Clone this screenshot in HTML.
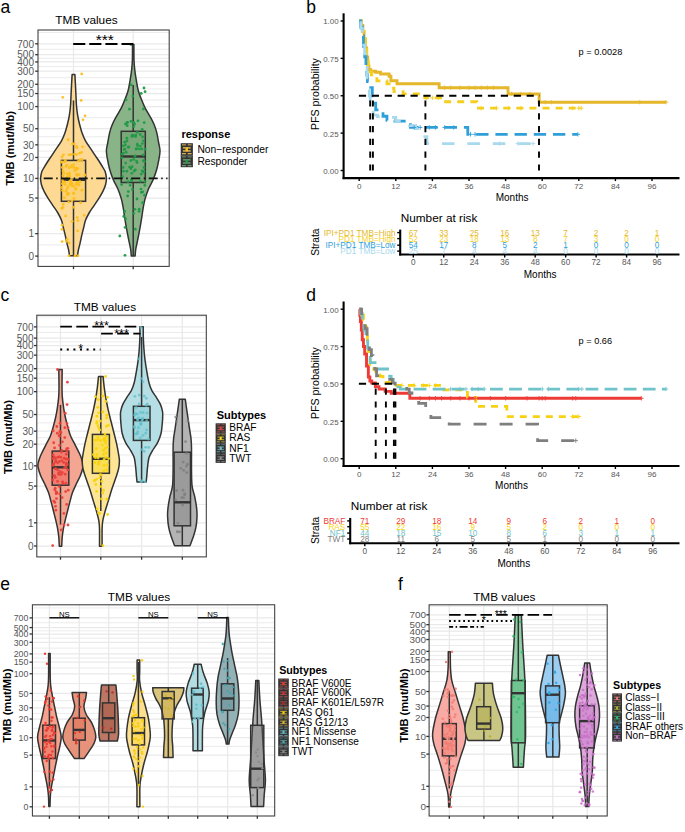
<!DOCTYPE html>
<html><head><meta charset="utf-8"><title>TMB figure</title>
<style>html,body{margin:0;padding:0;background:#fff;width:685px;height:832px;overflow:hidden}
svg{display:block;font-family:"Liberation Sans", sans-serif}</style></head>
<body>
<svg width="685" height="832" viewBox="0 0 685 832" font-family='"Liberation Sans", sans-serif'>
<rect width="685" height="832" fill="#fff"/>
<text x="0.4" y="12.9" font-size="17.5" text-anchor="start" font-weight="normal" fill="#000">a</text>
<rect x="38" y="30" width="131.2" height="236.4" fill="#fff" stroke="none" stroke-width="1"/>
<line x1="38" y1="32.58" x2="169.2" y2="32.58" stroke="#e9e9e9" stroke-width="0.9" stroke-linecap="butt"/>
<line x1="38" y1="244.87" x2="169.2" y2="244.87" stroke="#e9e9e9" stroke-width="0.9" stroke-linecap="butt"/>
<line x1="38" y1="215.85" x2="169.2" y2="215.85" stroke="#e9e9e9" stroke-width="0.9" stroke-linecap="butt"/>
<line x1="38" y1="188.23" x2="169.2" y2="188.23" stroke="#e9e9e9" stroke-width="0.9" stroke-linecap="butt"/>
<line x1="38" y1="167.94" x2="169.2" y2="167.94" stroke="#e9e9e9" stroke-width="0.9" stroke-linecap="butt"/>
<line x1="38" y1="151.15" x2="169.2" y2="151.15" stroke="#e9e9e9" stroke-width="0.9" stroke-linecap="butt"/>
<line x1="38" y1="136.78" x2="169.2" y2="136.78" stroke="#e9e9e9" stroke-width="0.9" stroke-linecap="butt"/>
<line x1="38" y1="117.65" x2="169.2" y2="117.65" stroke="#e9e9e9" stroke-width="0.9" stroke-linecap="butt"/>
<line x1="38" y1="100.06" x2="169.2" y2="100.06" stroke="#e9e9e9" stroke-width="0.9" stroke-linecap="butt"/>
<line x1="38" y1="88.91" x2="169.2" y2="88.91" stroke="#e9e9e9" stroke-width="0.9" stroke-linecap="butt"/>
<line x1="38" y1="77.74" x2="169.2" y2="77.74" stroke="#e9e9e9" stroke-width="0.9" stroke-linecap="butt"/>
<line x1="38" y1="66.55" x2="169.2" y2="66.55" stroke="#e9e9e9" stroke-width="0.9" stroke-linecap="butt"/>
<line x1="38" y1="58.3" x2="169.2" y2="58.3" stroke="#e9e9e9" stroke-width="0.9" stroke-linecap="butt"/>
<line x1="38" y1="49.25" x2="169.2" y2="49.25" stroke="#e9e9e9" stroke-width="0.9" stroke-linecap="butt"/>
<line x1="38" y1="256.1" x2="169.2" y2="256.1" stroke="#e9e9e9" stroke-width="1.25" stroke-linecap="butt"/>
<line x1="38" y1="233.64" x2="169.2" y2="233.64" stroke="#e9e9e9" stroke-width="1.25" stroke-linecap="butt"/>
<line x1="38" y1="198.05" x2="169.2" y2="198.05" stroke="#e9e9e9" stroke-width="1.25" stroke-linecap="butt"/>
<line x1="38" y1="178.41" x2="169.2" y2="178.41" stroke="#e9e9e9" stroke-width="1.25" stroke-linecap="butt"/>
<line x1="38" y1="157.46" x2="169.2" y2="157.46" stroke="#e9e9e9" stroke-width="1.25" stroke-linecap="butt"/>
<line x1="38" y1="144.84" x2="169.2" y2="144.84" stroke="#e9e9e9" stroke-width="1.25" stroke-linecap="butt"/>
<line x1="38" y1="128.72" x2="169.2" y2="128.72" stroke="#e9e9e9" stroke-width="1.25" stroke-linecap="butt"/>
<line x1="38" y1="106.58" x2="169.2" y2="106.58" stroke="#e9e9e9" stroke-width="1.25" stroke-linecap="butt"/>
<line x1="38" y1="93.55" x2="169.2" y2="93.55" stroke="#e9e9e9" stroke-width="1.25" stroke-linecap="butt"/>
<line x1="38" y1="84.28" x2="169.2" y2="84.28" stroke="#e9e9e9" stroke-width="1.25" stroke-linecap="butt"/>
<line x1="38" y1="71.2" x2="169.2" y2="71.2" stroke="#e9e9e9" stroke-width="1.25" stroke-linecap="butt"/>
<line x1="38" y1="61.91" x2="169.2" y2="61.91" stroke="#e9e9e9" stroke-width="1.25" stroke-linecap="butt"/>
<line x1="38" y1="54.69" x2="169.2" y2="54.69" stroke="#e9e9e9" stroke-width="1.25" stroke-linecap="butt"/>
<line x1="38" y1="43.81" x2="169.2" y2="43.81" stroke="#e9e9e9" stroke-width="1.25" stroke-linecap="butt"/>
<line x1="73.5" y1="30" x2="73.5" y2="266.4" stroke="#e9e9e9" stroke-width="1.25" stroke-linecap="butt"/>
<line x1="133.2" y1="30" x2="133.2" y2="266.4" stroke="#e9e9e9" stroke-width="1.25" stroke-linecap="butt"/>
<text x="86.5" y="23.6" font-size="11.8" text-anchor="middle" font-weight="normal" fill="#000">TMB values</text>
<path d="M72.1,74.6 L74.9,74.6 C74.97,75.83 75.13,78.77 75.3,82 C75.47,85.23 75.7,90 75.9,94 C76.1,98 76.2,102.4 76.5,106 C76.8,109.6 77.2,112.6 77.7,115.6 C78.2,118.6 78.8,121.18 79.5,124 C80.2,126.82 80.9,129.68 81.9,132.5 C82.9,135.32 84.1,138.3 85.5,140.9 C86.9,143.5 88.7,145.7 90.3,148.1 C91.9,150.5 93.5,152.9 95.1,155.3 C96.7,157.7 98.5,160.3 99.9,162.5 C101.3,164.7 102.6,166.92 103.5,168.5 C104.4,170.08 104.82,170.38 105.3,172 C105.78,173.62 106.33,176.17 106.4,178.2 C106.47,180.23 106.28,182 105.7,184.2 C105.12,186.4 104.07,189 102.9,191.4 C101.73,193.8 100.2,196.2 98.7,198.6 C97.2,201 95.5,203.4 93.9,205.8 C92.3,208.2 90.5,210.58 89.1,213 C87.7,215.42 86.4,217.88 85.5,220.3 C84.6,222.72 84.3,225.1 83.7,227.5 C83.1,229.9 82.5,232.1 81.9,234.7 C81.3,237.3 80.7,240.5 80.1,243.1 C79.5,245.7 78.73,248.2 78.3,250.3 C77.87,252.4 77.63,254.8 77.5,255.7 L69.5,255.7 C69.37,254.8 69.13,252.4 68.7,250.3 C68.27,248.2 67.5,245.7 66.9,243.1 C66.3,240.5 65.7,237.3 65.1,234.7 C64.5,232.1 63.9,229.9 63.3,227.5 C62.7,225.1 62.4,222.72 61.5,220.3 C60.6,217.88 59.3,215.42 57.9,213 C56.5,210.58 54.7,208.2 53.1,205.8 C51.5,203.4 49.8,201 48.3,198.6 C46.8,196.2 45.27,193.8 44.1,191.4 C42.93,189 41.88,186.4 41.3,184.2 C40.72,182 40.53,180.23 40.6,178.2 C40.67,176.17 41.22,173.62 41.7,172 C42.18,170.38 42.6,170.08 43.5,168.5 C44.4,166.92 45.7,164.7 47.1,162.5 C48.5,160.3 50.3,157.7 51.9,155.3 C53.5,152.9 55.1,150.5 56.7,148.1 C58.3,145.7 60.1,143.5 61.5,140.9 C62.9,138.3 64.1,135.32 65.1,132.5 C66.1,129.68 66.8,126.82 67.5,124 C68.2,121.18 68.8,118.6 69.3,115.6 C69.8,112.6 70.2,109.6 70.5,106 C70.8,102.4 70.9,98 71.1,94 C71.3,90 71.53,85.23 71.7,82 C71.87,78.77 72.03,75.83 72.1,74.6 Z" fill="#fdd993" stroke="#333333" stroke-width="1.5" stroke-linejoin="round"/>
<path d="M132.5,44.6 L133.9,44.6 C133.92,47.13 133.85,55.5 134,59.8 C134.15,64.1 134.43,67.1 134.8,70.4 C135.17,73.7 135.63,76.3 136.2,79.6 C136.77,82.9 137.42,87.12 138.2,90.2 C138.98,93.28 139.8,95.25 140.9,98.1 C142,100.95 143.27,104.22 144.8,107.3 C146.33,110.38 148.55,113.73 150.1,116.6 C151.65,119.47 153,121.87 154.1,124.5 C155.2,127.13 155.93,129.32 156.7,132.4 C157.47,135.48 158.15,139.93 158.7,143 C159.25,146.07 159.97,148.07 160,150.8 C160.03,153.53 159.45,156.28 158.9,159.4 C158.35,162.52 157.67,166.12 156.7,169.5 C155.73,172.88 154.42,176.57 153.1,179.7 C151.78,182.83 150.12,185.18 148.8,188.3 C147.48,191.42 146.12,195.27 145.2,198.4 C144.28,201.53 143.87,203.97 143.3,207.1 C142.73,210.23 142.33,213.83 141.8,217.2 C141.27,220.57 140.75,223.68 140.1,227.3 C139.45,230.92 138.62,235.28 137.9,238.9 C137.18,242.52 136.27,246.17 135.8,249 C135.33,251.83 135.22,254.75 135.1,255.9 L131.3,255.9 C131.18,254.75 131.07,251.83 130.6,249 C130.13,246.17 129.22,242.52 128.5,238.9 C127.78,235.28 126.95,230.92 126.3,227.3 C125.65,223.68 125.13,220.57 124.6,217.2 C124.07,213.83 123.67,210.23 123.1,207.1 C122.53,203.97 122.12,201.53 121.2,198.4 C120.28,195.27 118.92,191.42 117.6,188.3 C116.28,185.18 114.62,182.83 113.3,179.7 C111.98,176.57 110.67,172.88 109.7,169.5 C108.73,166.12 108.05,162.52 107.5,159.4 C106.95,156.28 106.37,153.53 106.4,150.8 C106.43,148.07 107.15,146.07 107.7,143 C108.25,139.93 108.93,135.48 109.7,132.4 C110.47,129.32 111.2,127.13 112.3,124.5 C113.4,121.87 114.75,119.47 116.3,116.6 C117.85,113.73 120.07,110.38 121.6,107.3 C123.13,104.22 124.4,100.95 125.5,98.1 C126.6,95.25 127.42,93.28 128.2,90.2 C128.98,87.12 129.63,82.9 130.2,79.6 C130.77,76.3 131.23,73.7 131.6,70.4 C131.97,67.1 132.25,64.1 132.4,59.8 C132.55,55.5 132.48,47.13 132.5,44.6 Z" fill="#89b487" stroke="#333333" stroke-width="1.5" stroke-linejoin="round"/>
<line x1="73.5" y1="100.4" x2="73.5" y2="160.4" stroke="#333333" stroke-width="1.5" stroke-linecap="butt"/>
<line x1="73.5" y1="201.3" x2="73.5" y2="255.7" stroke="#333333" stroke-width="1.5" stroke-linecap="butt"/>
<rect x="61.4" y="160.4" width="24.2" height="40.9" fill="rgba(253,190,30,0.25)" stroke="#333333" stroke-width="1.5"/>
<line x1="61.4" y1="179.8" x2="85.6" y2="179.8" stroke="#333333" stroke-width="2.4" stroke-linecap="butt"/>
<line x1="133.2" y1="84.9" x2="133.2" y2="131.3" stroke="#333333" stroke-width="1.5" stroke-linecap="butt"/>
<line x1="133.2" y1="182.5" x2="133.2" y2="255.9" stroke="#333333" stroke-width="1.5" stroke-linecap="butt"/>
<rect x="121.2" y="131.3" width="24.1" height="51.2" fill="rgba(60,120,60,0.2)" stroke="#333333" stroke-width="1.5"/>
<line x1="121.2" y1="156.5" x2="145.3" y2="156.5" stroke="#333333" stroke-width="2.4" stroke-linecap="butt"/>
<g fill="#fdbf1d" fill-opacity="0.95"><circle cx="77.14" cy="182.33" r="1.4"/><circle cx="62.18" cy="225.15" r="1.4"/><circle cx="72.19" cy="221.29" r="1.4"/><circle cx="84.19" cy="215.34" r="1.4"/><circle cx="62.11" cy="241.61" r="1.4"/><circle cx="71.63" cy="165.66" r="1.4"/><circle cx="67.09" cy="173.93" r="1.4"/><circle cx="72.53" cy="143.71" r="1.4"/><circle cx="81.6" cy="152.31" r="1.4"/><circle cx="65.96" cy="191.24" r="1.4"/><circle cx="62.33" cy="183.77" r="1.4"/><circle cx="74.67" cy="170.49" r="1.4"/><circle cx="73.7" cy="164.71" r="1.4"/><circle cx="62.21" cy="167.42" r="1.4"/><circle cx="73.55" cy="167.47" r="1.4"/><circle cx="67.07" cy="188.78" r="1.4"/><circle cx="67.96" cy="194.36" r="1.4"/><circle cx="71.73" cy="185.73" r="1.4"/><circle cx="73.61" cy="193.22" r="1.4"/><circle cx="69.81" cy="180.8" r="1.4"/><circle cx="76.2" cy="188.62" r="1.4"/><circle cx="67.01" cy="176.89" r="1.4"/><circle cx="61.9" cy="208.27" r="1.4"/><circle cx="76.5" cy="146.44" r="1.4"/><circle cx="65.33" cy="160.29" r="1.4"/><circle cx="68.05" cy="187" r="1.4"/><circle cx="62.07" cy="157.01" r="1.4"/><circle cx="66.01" cy="166.44" r="1.4"/><circle cx="76.04" cy="184.48" r="1.4"/><circle cx="61.93" cy="229.29" r="1.4"/><circle cx="69.21" cy="167.66" r="1.4"/><circle cx="68.67" cy="202.12" r="1.4"/><circle cx="82.59" cy="146.84" r="1.4"/><circle cx="69.83" cy="184.3" r="1.4"/><circle cx="64.01" cy="173.21" r="1.4"/><circle cx="73.5" cy="207.23" r="1.4"/><circle cx="66.32" cy="241.35" r="1.4"/><circle cx="65.57" cy="215.92" r="1.4"/><circle cx="82.32" cy="159.68" r="1.4"/><circle cx="62.44" cy="190.47" r="1.4"/><circle cx="80.27" cy="159.77" r="1.4"/><circle cx="66.87" cy="165.19" r="1.4"/><circle cx="77.59" cy="230.85" r="1.4"/><circle cx="67.25" cy="239.22" r="1.4"/><circle cx="85.08" cy="115.78" r="1.4"/><circle cx="63.01" cy="175.68" r="1.4"/><circle cx="63.45" cy="154.87" r="1.4"/><circle cx="76.94" cy="175.39" r="1.4"/><circle cx="69.1" cy="154.79" r="1.4"/><circle cx="74.56" cy="154.21" r="1.4"/><circle cx="67.38" cy="194.53" r="1.4"/><circle cx="80.51" cy="202.77" r="1.4"/><circle cx="65.2" cy="182.02" r="1.4"/><circle cx="63.35" cy="183.21" r="1.4"/><circle cx="69.09" cy="242.93" r="1.4"/><circle cx="63.05" cy="207.5" r="1.4"/><circle cx="81.93" cy="190.19" r="1.4"/><circle cx="69.63" cy="176.18" r="1.4"/><circle cx="77.01" cy="147.66" r="1.4"/><circle cx="63" cy="170.84" r="1.4"/><circle cx="64.5" cy="161.82" r="1.4"/><circle cx="76.2" cy="168.08" r="1.4"/><circle cx="74.19" cy="144.1" r="1.4"/><circle cx="72.02" cy="183.13" r="1.4"/><circle cx="71.39" cy="179.91" r="1.4"/><circle cx="63.22" cy="204.38" r="1.4"/><circle cx="65.33" cy="184.71" r="1.4"/><circle cx="67.51" cy="193.4" r="1.4"/><circle cx="77.86" cy="220.63" r="1.4"/><circle cx="79.02" cy="185.2" r="1.4"/><circle cx="84.81" cy="174.98" r="1.4"/><circle cx="69.31" cy="173.21" r="1.4"/><circle cx="64.33" cy="197.7" r="1.4"/><circle cx="79.49" cy="153.14" r="1.4"/><circle cx="76.56" cy="174.06" r="1.4"/><circle cx="75.56" cy="189.18" r="1.4"/><circle cx="79.96" cy="181.66" r="1.4"/><circle cx="68.32" cy="193.3" r="1.4"/><circle cx="73.57" cy="193.6" r="1.4"/><circle cx="61.52" cy="162.1" r="1.4"/><circle cx="68.82" cy="174.58" r="1.4"/><circle cx="77.9" cy="168.31" r="1.4"/><circle cx="70.56" cy="181.88" r="1.4"/><circle cx="68.16" cy="139.77" r="1.4"/><circle cx="76.38" cy="154.58" r="1.4"/><circle cx="61.58" cy="187.52" r="1.4"/><circle cx="71.23" cy="166.82" r="1.4"/><circle cx="76.71" cy="169.42" r="1.4"/><circle cx="78.49" cy="161.02" r="1.4"/><circle cx="62.59" cy="180.74" r="1.4"/><circle cx="71.64" cy="184.5" r="1.4"/><circle cx="61.97" cy="161.86" r="1.4"/><circle cx="78.07" cy="184.05" r="1.4"/><circle cx="76.02" cy="168.68" r="1.4"/><circle cx="73.78" cy="186.39" r="1.4"/><circle cx="77.17" cy="217.56" r="1.4"/><circle cx="71.86" cy="200.88" r="1.4"/><circle cx="78.98" cy="174.76" r="1.4"/><circle cx="74.14" cy="198.51" r="1.4"/><circle cx="71.03" cy="154.6" r="1.4"/><circle cx="81.7" cy="73.9" r="1.4"/><circle cx="62.8" cy="97.3" r="1.4"/><circle cx="81.2" cy="100.4" r="1.4"/><circle cx="83" cy="119.8" r="1.4"/><circle cx="69" cy="255.8" r="1.4"/><circle cx="78" cy="255.8" r="1.4"/><circle cx="75" cy="255.8" r="1.4"/></g>
<g fill="#1f9a47" fill-opacity="0.95"><circle cx="141.25" cy="93.39" r="1.4"/><circle cx="135.76" cy="135.15" r="1.4"/><circle cx="131.54" cy="180.48" r="1.4"/><circle cx="145.08" cy="149.33" r="1.4"/><circle cx="122.06" cy="157.85" r="1.4"/><circle cx="142.6" cy="136.87" r="1.4"/><circle cx="126.87" cy="171.27" r="1.4"/><circle cx="143.4" cy="172.04" r="1.4"/><circle cx="129.69" cy="167.14" r="1.4"/><circle cx="143.29" cy="160.53" r="1.4"/><circle cx="137.99" cy="120.82" r="1.4"/><circle cx="135.31" cy="169.95" r="1.4"/><circle cx="133.49" cy="135.77" r="1.4"/><circle cx="142.21" cy="129.33" r="1.4"/><circle cx="121.96" cy="154.2" r="1.4"/><circle cx="137.35" cy="144.15" r="1.4"/><circle cx="125.61" cy="219.02" r="1.4"/><circle cx="129.46" cy="109.14" r="1.4"/><circle cx="137.06" cy="162.48" r="1.4"/><circle cx="131.95" cy="136.51" r="1.4"/><circle cx="135.24" cy="229.21" r="1.4"/><circle cx="124.65" cy="149.23" r="1.4"/><circle cx="121.63" cy="184.61" r="1.4"/><circle cx="122.56" cy="176.62" r="1.4"/><circle cx="127.22" cy="122.59" r="1.4"/><circle cx="133.83" cy="126.6" r="1.4"/><circle cx="131.01" cy="84.8" r="1.4"/><circle cx="125.56" cy="123.98" r="1.4"/><circle cx="133.7" cy="122.43" r="1.4"/><circle cx="136.6" cy="161.09" r="1.4"/><circle cx="135.15" cy="156" r="1.4"/><circle cx="123.45" cy="171.16" r="1.4"/><circle cx="144.8" cy="185.34" r="1.4"/><circle cx="137.65" cy="145.79" r="1.4"/><circle cx="126.2" cy="152.17" r="1.4"/><circle cx="128.02" cy="181.73" r="1.4"/><circle cx="123.04" cy="145.9" r="1.4"/><circle cx="134.92" cy="209.33" r="1.4"/><circle cx="139.29" cy="149.04" r="1.4"/><circle cx="124.12" cy="149.58" r="1.4"/><circle cx="137.02" cy="198.98" r="1.4"/><circle cx="132.17" cy="166.66" r="1.4"/><circle cx="144.11" cy="171.37" r="1.4"/><circle cx="127.43" cy="122.45" r="1.4"/><circle cx="143.25" cy="154.99" r="1.4"/><circle cx="123.27" cy="153.18" r="1.4"/><circle cx="128.31" cy="191.58" r="1.4"/><circle cx="134.18" cy="170.98" r="1.4"/><circle cx="142.68" cy="202.75" r="1.4"/><circle cx="130.9" cy="160.52" r="1.4"/><circle cx="131.79" cy="179.19" r="1.4"/><circle cx="130.92" cy="168.69" r="1.4"/><circle cx="130.87" cy="121.35" r="1.4"/><circle cx="132.35" cy="189.38" r="1.4"/><circle cx="139.06" cy="211.32" r="1.4"/><circle cx="140.5" cy="181.31" r="1.4"/><circle cx="134.79" cy="156.11" r="1.4"/><circle cx="144.4" cy="161.54" r="1.4"/><circle cx="132.85" cy="96.09" r="1.4"/><circle cx="127.61" cy="196.02" r="1.4"/><circle cx="123.12" cy="167.48" r="1.4"/><circle cx="139.21" cy="209.16" r="1.4"/><circle cx="125.1" cy="227.43" r="1.4"/><circle cx="128.28" cy="147.36" r="1.4"/><circle cx="131.83" cy="173.31" r="1.4"/><circle cx="140.3" cy="134.49" r="1.4"/><circle cx="141.38" cy="192.47" r="1.4"/><circle cx="141.62" cy="148.93" r="1.4"/><circle cx="132.18" cy="135.14" r="1.4"/><circle cx="144.19" cy="122.53" r="1.4"/><circle cx="128.84" cy="146.95" r="1.4"/><circle cx="126.91" cy="138.15" r="1.4"/><circle cx="140.28" cy="146.05" r="1.4"/><circle cx="140.96" cy="189.06" r="1.4"/><circle cx="143.42" cy="140.81" r="1.4"/><circle cx="143.97" cy="167.43" r="1.4"/><circle cx="137.3" cy="132.41" r="1.4"/><circle cx="125.39" cy="144.99" r="1.4"/><circle cx="125.67" cy="163.12" r="1.4"/><circle cx="142.4" cy="143.62" r="1.4"/><circle cx="141.2" cy="174.09" r="1.4"/><circle cx="136.51" cy="148.73" r="1.4"/><circle cx="143.43" cy="109" r="1.4"/><circle cx="126.1" cy="99.78" r="1.4"/><circle cx="127.2" cy="125.66" r="1.4"/><circle cx="126.96" cy="140.89" r="1.4"/><circle cx="130.15" cy="185.36" r="1.4"/><circle cx="124.66" cy="211.46" r="1.4"/><circle cx="133.75" cy="213.28" r="1.4"/><circle cx="136.07" cy="149.12" r="1.4"/><circle cx="135.54" cy="136.6" r="1.4"/><circle cx="144.84" cy="181.61" r="1.4"/><circle cx="133.79" cy="159.46" r="1.4"/><circle cx="145.09" cy="91.66" r="1.4"/><circle cx="123.74" cy="216.46" r="1.4"/><circle cx="124.72" cy="142.21" r="1.4"/><circle cx="144.52" cy="195.18" r="1.4"/><circle cx="142.77" cy="191.79" r="1.4"/><circle cx="134.61" cy="124.09" r="1.4"/><circle cx="142.21" cy="170.8" r="1.4"/><circle cx="131" cy="44.6" r="1.4"/><circle cx="144" cy="88" r="1.4"/><circle cx="119.8" cy="236" r="1.4"/><circle cx="125" cy="255.3" r="1.4"/></g>
<line x1="40" y1="178.4" x2="167.5" y2="178.4" stroke="#111" stroke-width="1.6" stroke-dasharray="9 3.5 1.5 3.5" stroke-dashoffset="13.8"/>
<line x1="73.2" y1="43.9" x2="133.4" y2="43.9" stroke="#000" stroke-width="2.0" stroke-linecap="butt" stroke-dasharray="12.1 4.0"/>
<text x="104.75" y="44.8" font-size="15.5" text-anchor="middle" font-weight="normal" fill="#000">***</text>
<rect x="38" y="30" width="131.2" height="236.4" fill="none" stroke="#3a3a3a" stroke-width="1.05"/>
<line x1="35.2" y1="256.1" x2="38" y2="256.1" stroke="#333333" stroke-width="1.3" stroke-linecap="butt"/>
<text x="34" y="259.8" font-size="10" text-anchor="end" font-weight="normal" fill="#575757">0</text>
<line x1="35.2" y1="233.64" x2="38" y2="233.64" stroke="#333333" stroke-width="1.3" stroke-linecap="butt"/>
<text x="34" y="237.34" font-size="10" text-anchor="end" font-weight="normal" fill="#575757">1</text>
<line x1="35.2" y1="198.05" x2="38" y2="198.05" stroke="#333333" stroke-width="1.3" stroke-linecap="butt"/>
<text x="34" y="201.75" font-size="10" text-anchor="end" font-weight="normal" fill="#575757">5</text>
<line x1="35.2" y1="178.41" x2="38" y2="178.41" stroke="#333333" stroke-width="1.3" stroke-linecap="butt"/>
<text x="34" y="182.11" font-size="10" text-anchor="end" font-weight="normal" fill="#575757">10</text>
<line x1="35.2" y1="157.46" x2="38" y2="157.46" stroke="#333333" stroke-width="1.3" stroke-linecap="butt"/>
<text x="34" y="161.16" font-size="10" text-anchor="end" font-weight="normal" fill="#575757">20</text>
<line x1="35.2" y1="144.84" x2="38" y2="144.84" stroke="#333333" stroke-width="1.3" stroke-linecap="butt"/>
<text x="34" y="148.54" font-size="10" text-anchor="end" font-weight="normal" fill="#575757">30</text>
<line x1="35.2" y1="128.72" x2="38" y2="128.72" stroke="#333333" stroke-width="1.3" stroke-linecap="butt"/>
<text x="34" y="132.42" font-size="10" text-anchor="end" font-weight="normal" fill="#575757">50</text>
<line x1="35.2" y1="106.58" x2="38" y2="106.58" stroke="#333333" stroke-width="1.3" stroke-linecap="butt"/>
<text x="34" y="110.28" font-size="10" text-anchor="end" font-weight="normal" fill="#575757">100</text>
<line x1="35.2" y1="93.55" x2="38" y2="93.55" stroke="#333333" stroke-width="1.3" stroke-linecap="butt"/>
<text x="34" y="97.25" font-size="10" text-anchor="end" font-weight="normal" fill="#575757">150</text>
<line x1="35.2" y1="84.28" x2="38" y2="84.28" stroke="#333333" stroke-width="1.3" stroke-linecap="butt"/>
<text x="34" y="87.98" font-size="10" text-anchor="end" font-weight="normal" fill="#575757">200</text>
<line x1="35.2" y1="71.2" x2="38" y2="71.2" stroke="#333333" stroke-width="1.3" stroke-linecap="butt"/>
<text x="34" y="74.9" font-size="10" text-anchor="end" font-weight="normal" fill="#575757">300</text>
<line x1="35.2" y1="61.91" x2="38" y2="61.91" stroke="#333333" stroke-width="1.3" stroke-linecap="butt"/>
<text x="34" y="65.61" font-size="10" text-anchor="end" font-weight="normal" fill="#575757">400</text>
<line x1="35.2" y1="54.69" x2="38" y2="54.69" stroke="#333333" stroke-width="1.3" stroke-linecap="butt"/>
<text x="34" y="58.39" font-size="10" text-anchor="end" font-weight="normal" fill="#575757">500</text>
<line x1="35.2" y1="43.81" x2="38" y2="43.81" stroke="#333333" stroke-width="1.3" stroke-linecap="butt"/>
<text x="34" y="47.51" font-size="10" text-anchor="end" font-weight="normal" fill="#575757">700</text>
<line x1="73.5" y1="266.4" x2="73.5" y2="269.2" stroke="#333333" stroke-width="1.3" stroke-linecap="butt"/>
<line x1="133.2" y1="266.4" x2="133.2" y2="269.2" stroke="#333333" stroke-width="1.3" stroke-linecap="butt"/>
<text x="14.2" y="148.3" font-size="11.2" text-anchor="middle" font-weight="bold" fill="#000" transform="rotate(-90 14.2 148.3)">TMB (mut/Mb)</text>
<text x="181.4" y="137.8" font-size="11" text-anchor="start" font-weight="bold" fill="#000">response</text>
<rect x="180.7" y="143.2" width="12.2" height="12" fill="#333333" stroke="none" stroke-width="1"/>
<rect x="182" y="144" width="3.9" height="1.6" fill="#9e8448" stroke="none" stroke-width="1"/>
<rect x="187.7" y="144" width="3.9" height="1.6" fill="#9e8448" stroke="none" stroke-width="1"/>
<rect x="182" y="153" width="3.9" height="1.3" fill="#d8b054" stroke="none" stroke-width="1"/>
<rect x="187.7" y="153" width="3.9" height="1.3" fill="#d8b054" stroke="none" stroke-width="1"/>
<rect x="182.9" y="147.1" width="7.8" height="1.5" fill="#d8b054" stroke="none" stroke-width="1"/>
<rect x="182.9" y="150.2" width="7.8" height="1.5" fill="#d8b054" stroke="none" stroke-width="1"/>
<rect x="185.7" y="147.7" width="2.2" height="3.6" fill="#fdbf1d" stroke="none" stroke-width="1"/>
<circle cx="186.8" cy="149.4" r="1.2" fill="#fdbf1d"/>
<rect x="180.7" y="155.2" width="12.2" height="12" fill="#333333" stroke="none" stroke-width="1"/>
<rect x="182" y="156" width="3.9" height="1.6" fill="#5a735a" stroke="none" stroke-width="1"/>
<rect x="187.7" y="156" width="3.9" height="1.6" fill="#5a735a" stroke="none" stroke-width="1"/>
<rect x="182" y="165" width="3.9" height="1.3" fill="#6f966f" stroke="none" stroke-width="1"/>
<rect x="187.7" y="165" width="3.9" height="1.3" fill="#6f966f" stroke="none" stroke-width="1"/>
<rect x="182.9" y="159.1" width="7.8" height="1.5" fill="#6f966f" stroke="none" stroke-width="1"/>
<rect x="182.9" y="162.2" width="7.8" height="1.5" fill="#6f966f" stroke="none" stroke-width="1"/>
<rect x="185.7" y="159.7" width="2.2" height="3.6" fill="#1f9a47" stroke="none" stroke-width="1"/>
<circle cx="186.8" cy="161.4" r="1.2" fill="#1f9a47"/>
<text x="197.4" y="152.8" font-size="10.25" text-anchor="start" font-weight="normal" fill="#000">Non−responder</text>
<text x="197.4" y="165" font-size="10.25" text-anchor="start" font-weight="normal" fill="#000">Responder</text>
<text x="306.3" y="12.9" font-size="17.5" text-anchor="start" font-weight="normal" fill="#000">b</text>
<polyline points="359.2,21 361.33,21 361.33,25.49 362.86,25.49 362.86,31.47 364.08,31.47 364.08,38.94 365.3,38.94 365.3,47.91 366.52,47.91 366.52,56.88 367.74,56.88 367.74,65.85 368.96,65.85 368.96,69.59 370.79,69.59 370.79,71.23 375.67,71.23 375.67,72.28 380.55,72.28 380.55,74.07 389.09,74.07 389.09,76.31 390.92,76.31 390.92,80.8 397.02,80.8 397.02,83.79 439.11,83.79 439.11,87.68 508.04,87.68 508.04,93.96 539.15,93.96 539.15,102.18 666.03,102.18" fill="none" stroke="#e5b72a" stroke-width="2.9" stroke-linecap="butt" stroke-linejoin="miter"/>
<polyline points="359.2,21 361.03,21 361.03,25.49 362.25,25.49 362.25,31.47 363.77,31.47 363.77,38.94 365.3,38.94 365.3,47.91 366.82,47.91 366.82,58.38 368.35,58.38 368.35,67.35 369.88,67.35 369.88,71.83 371.4,71.83 371.4,74.82 376.89,74.82 376.89,80.8 386.95,80.8 386.95,83.79 391.22,83.79 391.22,88.27 393.97,88.27 393.97,91.71 403.12,91.71 403.12,93.81 424.77,93.81 424.77,97.84 443.99,97.84 443.99,101.73 476.93,101.73 476.93,108.16 581.24,108.16" fill="none" stroke="#f5cf1f" stroke-width="2.8" stroke-linecap="butt" stroke-linejoin="miter" stroke-dasharray="7 6.1" stroke-dashoffset="4.61"/>
<polyline points="359.2,21 360.72,21 360.72,26.98 362.25,26.98 362.25,35.95 363.47,35.95 363.47,46.42 364.69,46.42 364.69,56.88 365.91,56.88 365.91,65.85 366.82,65.85 366.82,74.82 367.44,74.82 367.44,81.55 368.96,81.55 368.96,85.29 370.79,85.29 370.79,87.68 372.31,87.68 372.31,95.75 373.84,95.75 373.84,103.22 375.67,103.22 375.67,109.95 380.55,109.95 380.55,113.69 382.99,113.69 382.99,116.23 386.95,116.23 386.95,120.42 394.88,120.42 394.88,121.16 410.44,121.16 410.44,127.44 467.78,127.44 467.78,134.32 577.88,134.32" fill="none" stroke="#2f9fd9" stroke-width="2.8" stroke-linecap="butt" stroke-linejoin="miter" stroke-dasharray="12.3 6.9" stroke-dashoffset="0.08"/>
<polyline points="359.2,21 361.03,21 361.03,28.47 362.25,28.47 362.25,35.95 363.47,35.95 363.47,44.92 364.69,44.92 364.69,53.89 365.91,53.89 365.91,65.85 367.13,65.85 367.13,77.81 368.35,77.81 368.35,89.77 369.26,89.77 369.26,95.75 370.18,95.75 370.18,103.22 371.4,103.22 371.4,110.7 373.23,110.7 373.23,115.19 377.5,115.19 377.5,116.68 380.55,116.68 380.55,117.43 395.8,117.43 395.8,121.16 409.52,121.16 409.52,125.65 415.62,125.65 415.62,128.49 423.25,128.49 423.25,136.71 426.91,136.71 426.91,143.59 533.05,143.59" fill="none" stroke="#a9d9ec" stroke-width="2.8" stroke-linecap="butt" stroke-linejoin="miter" stroke-dasharray="12.5 12.9" stroke-dashoffset="23.21"/>
<g stroke="#e5b72a" stroke-width="0.9"><line x1="442.4" y1="87.68" x2="446.8" y2="87.68"/><line x1="444.6" y1="85.48" x2="444.6" y2="89.88"/><line x1="448.5" y1="87.68" x2="452.9" y2="87.68"/><line x1="450.7" y1="85.48" x2="450.7" y2="89.88"/><line x1="457.65" y1="87.68" x2="462.05" y2="87.68"/><line x1="459.85" y1="85.48" x2="459.85" y2="89.88"/><line x1="466.8" y1="87.68" x2="471.2" y2="87.68"/><line x1="469" y1="85.48" x2="469" y2="89.88"/><line x1="472.9" y1="87.68" x2="477.3" y2="87.68"/><line x1="475.1" y1="85.48" x2="475.1" y2="89.88"/><line x1="479" y1="87.68" x2="483.4" y2="87.68"/><line x1="481.2" y1="85.48" x2="481.2" y2="89.88"/><line x1="485.1" y1="87.68" x2="489.5" y2="87.68"/><line x1="487.3" y1="85.48" x2="487.3" y2="89.88"/><line x1="491.2" y1="87.68" x2="495.6" y2="87.68"/><line x1="493.4" y1="85.48" x2="493.4" y2="89.88"/><line x1="509.5" y1="93.96" x2="513.9" y2="93.96"/><line x1="511.7" y1="91.76" x2="511.7" y2="96.16"/><line x1="518.65" y1="93.96" x2="523.05" y2="93.96"/><line x1="520.85" y1="91.76" x2="520.85" y2="96.16"/><line x1="527.8" y1="93.96" x2="532.2" y2="93.96"/><line x1="530" y1="91.76" x2="530" y2="96.16"/><line x1="543.05" y1="102.18" x2="547.45" y2="102.18"/><line x1="545.25" y1="99.98" x2="545.25" y2="104.38"/><line x1="549.15" y1="102.18" x2="553.55" y2="102.18"/><line x1="551.35" y1="99.98" x2="551.35" y2="104.38"/><line x1="637.6" y1="102.18" x2="642" y2="102.18"/><line x1="639.8" y1="99.98" x2="639.8" y2="104.38"/><line x1="663.83" y1="102.18" x2="668.23" y2="102.18"/><line x1="666.03" y1="99.98" x2="666.03" y2="104.38"/></g>
<g stroke="#f5cf1f" stroke-width="0.9"><line x1="479" y1="108.16" x2="483.4" y2="108.16"/><line x1="481.2" y1="105.96" x2="481.2" y2="110.36"/><line x1="494.25" y1="108.16" x2="498.65" y2="108.16"/><line x1="496.45" y1="105.96" x2="496.45" y2="110.36"/><line x1="506.45" y1="108.16" x2="510.85" y2="108.16"/><line x1="508.65" y1="105.96" x2="508.65" y2="110.36"/><line x1="518.65" y1="108.16" x2="523.05" y2="108.16"/><line x1="520.85" y1="105.96" x2="520.85" y2="110.36"/><line x1="570.5" y1="108.16" x2="574.9" y2="108.16"/><line x1="572.7" y1="105.96" x2="572.7" y2="110.36"/><line x1="576.6" y1="108.16" x2="581" y2="108.16"/><line x1="578.8" y1="105.96" x2="578.8" y2="110.36"/><line x1="579.04" y1="108.16" x2="583.44" y2="108.16"/><line x1="581.24" y1="105.96" x2="581.24" y2="110.36"/><line x1="424.1" y1="97.84" x2="428.5" y2="97.84"/><line x1="426.3" y1="95.64" x2="426.3" y2="100.04"/><line x1="430.2" y1="97.84" x2="434.6" y2="97.84"/><line x1="432.4" y1="95.64" x2="432.4" y2="100.04"/><line x1="436.3" y1="97.84" x2="440.7" y2="97.84"/><line x1="438.5" y1="95.64" x2="438.5" y2="100.04"/></g>
<g stroke="#2f9fd9" stroke-width="0.9"><line x1="411.9" y1="127.44" x2="416.3" y2="127.44"/><line x1="414.1" y1="125.24" x2="414.1" y2="129.64"/><line x1="418" y1="127.44" x2="422.4" y2="127.44"/><line x1="420.2" y1="125.24" x2="420.2" y2="129.64"/><line x1="427.15" y1="127.44" x2="431.55" y2="127.44"/><line x1="429.35" y1="125.24" x2="429.35" y2="129.64"/><line x1="433.25" y1="127.44" x2="437.65" y2="127.44"/><line x1="435.45" y1="125.24" x2="435.45" y2="129.64"/><line x1="442.4" y1="127.44" x2="446.8" y2="127.44"/><line x1="444.6" y1="125.24" x2="444.6" y2="129.64"/><line x1="451.55" y1="127.44" x2="455.95" y2="127.44"/><line x1="453.75" y1="125.24" x2="453.75" y2="129.64"/><line x1="468.32" y1="134.32" x2="472.72" y2="134.32"/><line x1="470.52" y1="132.12" x2="470.52" y2="136.52"/><line x1="472.9" y1="134.32" x2="477.3" y2="134.32"/><line x1="475.1" y1="132.12" x2="475.1" y2="136.52"/><line x1="575.68" y1="134.32" x2="580.09" y2="134.32"/><line x1="577.88" y1="132.12" x2="577.88" y2="136.52"/></g>
<g stroke="#a9d9ec" stroke-width="0.9"><line x1="497.3" y1="143.59" x2="501.7" y2="143.59"/><line x1="499.5" y1="141.39" x2="499.5" y2="145.79"/><line x1="515.6" y1="143.59" x2="520" y2="143.59"/><line x1="517.8" y1="141.39" x2="517.8" y2="145.79"/><line x1="530.85" y1="143.59" x2="535.25" y2="143.59"/><line x1="533.05" y1="141.39" x2="533.05" y2="145.79"/></g>
<line x1="358.9" y1="95.8" x2="539.8" y2="95.8" stroke="#000" stroke-width="1.9" stroke-linecap="butt" stroke-dasharray="7.2 5.7"/>
<line x1="370.2" y1="170.6" x2="370.2" y2="95.8" stroke="#000" stroke-width="1.9" stroke-linecap="butt" stroke-dasharray="6.2 6.6"/>
<line x1="372.9" y1="170.6" x2="372.9" y2="95.8" stroke="#000" stroke-width="1.9" stroke-linecap="butt" stroke-dasharray="6.2 6.6"/>
<line x1="425.4" y1="170.6" x2="425.4" y2="95.8" stroke="#000" stroke-width="1.9" stroke-linecap="butt" stroke-dasharray="6.2 6.6"/>
<line x1="539" y1="170.6" x2="539" y2="95.8" stroke="#000" stroke-width="1.9" stroke-linecap="butt" stroke-dasharray="6.2 6.6"/>
<line x1="343.6" y1="13.3" x2="343.6" y2="179.1" stroke="#000" stroke-width="2.1" stroke-linecap="butt"/>
<line x1="342.6" y1="178.1" x2="679.5" y2="178.1" stroke="#000" stroke-width="2.1" stroke-linecap="butt"/>
<line x1="340.6" y1="170.5" x2="343.6" y2="170.5" stroke="#000" stroke-width="1.4" stroke-linecap="butt"/>
<text x="338.6" y="173.9" font-size="7.9" text-anchor="end" font-weight="normal" fill="#575757">0.00</text>
<line x1="340.6" y1="133.12" x2="343.6" y2="133.12" stroke="#000" stroke-width="1.4" stroke-linecap="butt"/>
<text x="338.6" y="136.53" font-size="7.9" text-anchor="end" font-weight="normal" fill="#575757">0.25</text>
<line x1="340.6" y1="95.75" x2="343.6" y2="95.75" stroke="#000" stroke-width="1.4" stroke-linecap="butt"/>
<text x="338.6" y="99.15" font-size="7.9" text-anchor="end" font-weight="normal" fill="#575757">0.50</text>
<line x1="340.6" y1="58.38" x2="343.6" y2="58.38" stroke="#000" stroke-width="1.4" stroke-linecap="butt"/>
<text x="338.6" y="61.77" font-size="7.9" text-anchor="end" font-weight="normal" fill="#575757">0.75</text>
<line x1="340.6" y1="21" x2="343.6" y2="21" stroke="#000" stroke-width="1.4" stroke-linecap="butt"/>
<text x="338.6" y="24.4" font-size="7.9" text-anchor="end" font-weight="normal" fill="#575757">1.00</text>
<line x1="359.2" y1="178.1" x2="359.2" y2="181.1" stroke="#000" stroke-width="1.4" stroke-linecap="butt"/>
<text x="359.2" y="188.8" font-size="8.1" text-anchor="middle" font-weight="normal" fill="#575757">0</text>
<line x1="395.8" y1="178.1" x2="395.8" y2="181.1" stroke="#000" stroke-width="1.4" stroke-linecap="butt"/>
<text x="395.8" y="188.8" font-size="8.1" text-anchor="middle" font-weight="normal" fill="#575757">12</text>
<line x1="432.4" y1="178.1" x2="432.4" y2="181.1" stroke="#000" stroke-width="1.4" stroke-linecap="butt"/>
<text x="432.4" y="188.8" font-size="8.1" text-anchor="middle" font-weight="normal" fill="#575757">24</text>
<line x1="469" y1="178.1" x2="469" y2="181.1" stroke="#000" stroke-width="1.4" stroke-linecap="butt"/>
<text x="469" y="188.8" font-size="8.1" text-anchor="middle" font-weight="normal" fill="#575757">36</text>
<line x1="505.6" y1="178.1" x2="505.6" y2="181.1" stroke="#000" stroke-width="1.4" stroke-linecap="butt"/>
<text x="505.6" y="188.8" font-size="8.1" text-anchor="middle" font-weight="normal" fill="#575757">48</text>
<line x1="542.2" y1="178.1" x2="542.2" y2="181.1" stroke="#000" stroke-width="1.4" stroke-linecap="butt"/>
<text x="542.2" y="188.8" font-size="8.1" text-anchor="middle" font-weight="normal" fill="#575757">60</text>
<line x1="578.8" y1="178.1" x2="578.8" y2="181.1" stroke="#000" stroke-width="1.4" stroke-linecap="butt"/>
<text x="578.8" y="188.8" font-size="8.1" text-anchor="middle" font-weight="normal" fill="#575757">72</text>
<line x1="615.4" y1="178.1" x2="615.4" y2="181.1" stroke="#000" stroke-width="1.4" stroke-linecap="butt"/>
<text x="615.4" y="188.8" font-size="8.1" text-anchor="middle" font-weight="normal" fill="#575757">84</text>
<line x1="652" y1="178.1" x2="652" y2="181.1" stroke="#000" stroke-width="1.4" stroke-linecap="butt"/>
<text x="652" y="188.8" font-size="8.1" text-anchor="middle" font-weight="normal" fill="#575757">96</text>
<text x="319.2" y="94" font-size="10.6" text-anchor="middle" font-weight="normal" fill="#000" transform="rotate(-90 319.2 94)">PFS probability</text>
<text x="512.1" y="201.2" font-size="10" text-anchor="middle" font-weight="normal" fill="#000">Months</text>
<text x="578.6" y="55.2" font-size="9.2" text-anchor="start" font-weight="normal" fill="#000">p = 0.0028</text>
<text x="400.7" y="221.6" font-size="11.8" text-anchor="start" font-weight="normal" fill="#000">Number at risk</text>
<line x1="400.2" y1="229.6" x2="400.2" y2="255.5" stroke="#000" stroke-width="2.1" stroke-linecap="butt"/>
<line x1="399.2" y1="254.5" x2="679.5" y2="254.5" stroke="#000" stroke-width="2.1" stroke-linecap="butt"/>
<text x="395.5" y="235.5" font-size="8.2" text-anchor="end" font-weight="normal" fill="#e5b72a">IPI+PD1 TMB=High</text>
<line x1="397.2" y1="232.6" x2="400.2" y2="232.6" stroke="#000" stroke-width="1.4" stroke-linecap="butt"/>
<text x="413.3" y="235.5" font-size="8.2" text-anchor="middle" font-weight="normal" fill="#e5b72a">67</text>
<text x="443.77" y="235.5" font-size="8.2" text-anchor="middle" font-weight="normal" fill="#e5b72a">33</text>
<text x="474.24" y="235.5" font-size="8.2" text-anchor="middle" font-weight="normal" fill="#e5b72a">25</text>
<text x="504.71" y="235.5" font-size="8.2" text-anchor="middle" font-weight="normal" fill="#e5b72a">16</text>
<text x="535.18" y="235.5" font-size="8.2" text-anchor="middle" font-weight="normal" fill="#e5b72a">13</text>
<text x="565.65" y="235.5" font-size="8.2" text-anchor="middle" font-weight="normal" fill="#e5b72a">7</text>
<text x="596.12" y="235.5" font-size="8.2" text-anchor="middle" font-weight="normal" fill="#e5b72a">2</text>
<text x="626.59" y="235.5" font-size="8.2" text-anchor="middle" font-weight="normal" fill="#e5b72a">2</text>
<text x="657.06" y="235.5" font-size="8.2" text-anchor="middle" font-weight="normal" fill="#e5b72a">1</text>
<text x="395.5" y="241.5" font-size="8.2" text-anchor="end" font-weight="normal" fill="#f5cf1f">PD1 TMB=High</text>
<line x1="397.2" y1="238.6" x2="400.2" y2="238.6" stroke="#000" stroke-width="1.4" stroke-linecap="butt"/>
<text x="413.3" y="241.5" font-size="8.2" text-anchor="middle" font-weight="normal" fill="#f5cf1f">52</text>
<text x="443.77" y="241.5" font-size="8.2" text-anchor="middle" font-weight="normal" fill="#f5cf1f">23</text>
<text x="474.24" y="241.5" font-size="8.2" text-anchor="middle" font-weight="normal" fill="#f5cf1f">18</text>
<text x="504.71" y="241.5" font-size="8.2" text-anchor="middle" font-weight="normal" fill="#f5cf1f">13</text>
<text x="535.18" y="241.5" font-size="8.2" text-anchor="middle" font-weight="normal" fill="#f5cf1f">8</text>
<text x="565.65" y="241.5" font-size="8.2" text-anchor="middle" font-weight="normal" fill="#f5cf1f">7</text>
<text x="596.12" y="241.5" font-size="8.2" text-anchor="middle" font-weight="normal" fill="#f5cf1f">3</text>
<text x="626.59" y="241.5" font-size="8.2" text-anchor="middle" font-weight="normal" fill="#f5cf1f">0</text>
<text x="657.06" y="241.5" font-size="8.2" text-anchor="middle" font-weight="normal" fill="#f5cf1f">0</text>
<text x="395.5" y="248.1" font-size="8.2" text-anchor="end" font-weight="normal" fill="#2f9fd9">IPI+PD1 TMB=Low</text>
<line x1="397.2" y1="245.2" x2="400.2" y2="245.2" stroke="#000" stroke-width="1.4" stroke-linecap="butt"/>
<text x="413.3" y="248.1" font-size="8.2" text-anchor="middle" font-weight="normal" fill="#2f9fd9">54</text>
<text x="443.77" y="248.1" font-size="8.2" text-anchor="middle" font-weight="normal" fill="#2f9fd9">17</text>
<text x="474.24" y="248.1" font-size="8.2" text-anchor="middle" font-weight="normal" fill="#2f9fd9">8</text>
<text x="504.71" y="248.1" font-size="8.2" text-anchor="middle" font-weight="normal" fill="#2f9fd9">5</text>
<text x="535.18" y="248.1" font-size="8.2" text-anchor="middle" font-weight="normal" fill="#2f9fd9">2</text>
<text x="565.65" y="248.1" font-size="8.2" text-anchor="middle" font-weight="normal" fill="#2f9fd9">1</text>
<text x="596.12" y="248.1" font-size="8.2" text-anchor="middle" font-weight="normal" fill="#2f9fd9">0</text>
<text x="626.59" y="248.1" font-size="8.2" text-anchor="middle" font-weight="normal" fill="#2f9fd9">0</text>
<text x="657.06" y="248.1" font-size="8.2" text-anchor="middle" font-weight="normal" fill="#2f9fd9">0</text>
<text x="395.5" y="254" font-size="8.2" text-anchor="end" font-weight="normal" fill="#a9d9ec">PD1 TMB=Low</text>
<line x1="397.2" y1="251.1" x2="400.2" y2="251.1" stroke="#000" stroke-width="1.4" stroke-linecap="butt"/>
<text x="413.3" y="254" font-size="8.2" text-anchor="middle" font-weight="normal" fill="#a9d9ec">25</text>
<text x="443.77" y="254" font-size="8.2" text-anchor="middle" font-weight="normal" fill="#a9d9ec">7</text>
<text x="474.24" y="254" font-size="8.2" text-anchor="middle" font-weight="normal" fill="#a9d9ec">4</text>
<text x="504.71" y="254" font-size="8.2" text-anchor="middle" font-weight="normal" fill="#a9d9ec">4</text>
<text x="535.18" y="254" font-size="8.2" text-anchor="middle" font-weight="normal" fill="#a9d9ec">4</text>
<text x="565.65" y="254" font-size="8.2" text-anchor="middle" font-weight="normal" fill="#a9d9ec">0</text>
<text x="596.12" y="254" font-size="8.2" text-anchor="middle" font-weight="normal" fill="#a9d9ec">0</text>
<text x="626.59" y="254" font-size="8.2" text-anchor="middle" font-weight="normal" fill="#a9d9ec">0</text>
<text x="657.06" y="254" font-size="8.2" text-anchor="middle" font-weight="normal" fill="#a9d9ec">0</text>
<line x1="413.3" y1="254.5" x2="413.3" y2="257.5" stroke="#000" stroke-width="1.4" stroke-linecap="butt"/>
<text x="413.3" y="264.8" font-size="8.2" text-anchor="middle" font-weight="normal" fill="#575757">0</text>
<line x1="443.77" y1="254.5" x2="443.77" y2="257.5" stroke="#000" stroke-width="1.4" stroke-linecap="butt"/>
<text x="443.77" y="264.8" font-size="8.2" text-anchor="middle" font-weight="normal" fill="#575757">12</text>
<line x1="474.24" y1="254.5" x2="474.24" y2="257.5" stroke="#000" stroke-width="1.4" stroke-linecap="butt"/>
<text x="474.24" y="264.8" font-size="8.2" text-anchor="middle" font-weight="normal" fill="#575757">24</text>
<line x1="504.71" y1="254.5" x2="504.71" y2="257.5" stroke="#000" stroke-width="1.4" stroke-linecap="butt"/>
<text x="504.71" y="264.8" font-size="8.2" text-anchor="middle" font-weight="normal" fill="#575757">36</text>
<line x1="535.18" y1="254.5" x2="535.18" y2="257.5" stroke="#000" stroke-width="1.4" stroke-linecap="butt"/>
<text x="535.18" y="264.8" font-size="8.2" text-anchor="middle" font-weight="normal" fill="#575757">48</text>
<line x1="565.65" y1="254.5" x2="565.65" y2="257.5" stroke="#000" stroke-width="1.4" stroke-linecap="butt"/>
<text x="565.65" y="264.8" font-size="8.2" text-anchor="middle" font-weight="normal" fill="#575757">60</text>
<line x1="596.12" y1="254.5" x2="596.12" y2="257.5" stroke="#000" stroke-width="1.4" stroke-linecap="butt"/>
<text x="596.12" y="264.8" font-size="8.2" text-anchor="middle" font-weight="normal" fill="#575757">72</text>
<line x1="626.59" y1="254.5" x2="626.59" y2="257.5" stroke="#000" stroke-width="1.4" stroke-linecap="butt"/>
<text x="626.59" y="264.8" font-size="8.2" text-anchor="middle" font-weight="normal" fill="#575757">84</text>
<line x1="657.06" y1="254.5" x2="657.06" y2="257.5" stroke="#000" stroke-width="1.4" stroke-linecap="butt"/>
<text x="657.06" y="264.8" font-size="8.2" text-anchor="middle" font-weight="normal" fill="#575757">96</text>
<text x="319" y="242.2" font-size="10.2" text-anchor="middle" font-weight="normal" fill="#000" transform="rotate(-90 319 242.2)">Strata</text>
<text x="540.18" y="278.2" font-size="10" text-anchor="middle" font-weight="normal" fill="#000">Months</text>
<text x="0.4" y="300.9" font-size="17.5" text-anchor="start" font-weight="normal" fill="#000">c</text>
<rect x="36.8" y="315.2" width="169.5" height="241.7" fill="#fff" stroke="none" stroke-width="1"/>
<line x1="36.8" y1="316.8" x2="206.3" y2="316.8" stroke="#e9e9e9" stroke-width="0.9" stroke-linecap="butt"/>
<line x1="36.8" y1="534.41" x2="206.3" y2="534.41" stroke="#e9e9e9" stroke-width="0.9" stroke-linecap="butt"/>
<line x1="36.8" y1="504.45" x2="206.3" y2="504.45" stroke="#e9e9e9" stroke-width="0.9" stroke-linecap="butt"/>
<line x1="36.8" y1="475.95" x2="206.3" y2="475.95" stroke="#e9e9e9" stroke-width="0.9" stroke-linecap="butt"/>
<line x1="36.8" y1="455" x2="206.3" y2="455" stroke="#e9e9e9" stroke-width="0.9" stroke-linecap="butt"/>
<line x1="36.8" y1="437.68" x2="206.3" y2="437.68" stroke="#e9e9e9" stroke-width="0.9" stroke-linecap="butt"/>
<line x1="36.8" y1="422.84" x2="206.3" y2="422.84" stroke="#e9e9e9" stroke-width="0.9" stroke-linecap="butt"/>
<line x1="36.8" y1="403.09" x2="206.3" y2="403.09" stroke="#e9e9e9" stroke-width="0.9" stroke-linecap="butt"/>
<line x1="36.8" y1="384.94" x2="206.3" y2="384.94" stroke="#e9e9e9" stroke-width="0.9" stroke-linecap="butt"/>
<line x1="36.8" y1="373.44" x2="206.3" y2="373.44" stroke="#e9e9e9" stroke-width="0.9" stroke-linecap="butt"/>
<line x1="36.8" y1="361.9" x2="206.3" y2="361.9" stroke="#e9e9e9" stroke-width="0.9" stroke-linecap="butt"/>
<line x1="36.8" y1="350.35" x2="206.3" y2="350.35" stroke="#e9e9e9" stroke-width="0.9" stroke-linecap="butt"/>
<line x1="36.8" y1="341.84" x2="206.3" y2="341.84" stroke="#e9e9e9" stroke-width="0.9" stroke-linecap="butt"/>
<line x1="36.8" y1="332.5" x2="206.3" y2="332.5" stroke="#e9e9e9" stroke-width="0.9" stroke-linecap="butt"/>
<line x1="36.8" y1="546" x2="206.3" y2="546" stroke="#e9e9e9" stroke-width="1.25" stroke-linecap="butt"/>
<line x1="36.8" y1="522.82" x2="206.3" y2="522.82" stroke="#e9e9e9" stroke-width="1.25" stroke-linecap="butt"/>
<line x1="36.8" y1="486.08" x2="206.3" y2="486.08" stroke="#e9e9e9" stroke-width="1.25" stroke-linecap="butt"/>
<line x1="36.8" y1="465.81" x2="206.3" y2="465.81" stroke="#e9e9e9" stroke-width="1.25" stroke-linecap="butt"/>
<line x1="36.8" y1="444.19" x2="206.3" y2="444.19" stroke="#e9e9e9" stroke-width="1.25" stroke-linecap="butt"/>
<line x1="36.8" y1="431.17" x2="206.3" y2="431.17" stroke="#e9e9e9" stroke-width="1.25" stroke-linecap="butt"/>
<line x1="36.8" y1="414.52" x2="206.3" y2="414.52" stroke="#e9e9e9" stroke-width="1.25" stroke-linecap="butt"/>
<line x1="36.8" y1="391.67" x2="206.3" y2="391.67" stroke="#e9e9e9" stroke-width="1.25" stroke-linecap="butt"/>
<line x1="36.8" y1="378.22" x2="206.3" y2="378.22" stroke="#e9e9e9" stroke-width="1.25" stroke-linecap="butt"/>
<line x1="36.8" y1="368.65" x2="206.3" y2="368.65" stroke="#e9e9e9" stroke-width="1.25" stroke-linecap="butt"/>
<line x1="36.8" y1="355.15" x2="206.3" y2="355.15" stroke="#e9e9e9" stroke-width="1.25" stroke-linecap="butt"/>
<line x1="36.8" y1="345.56" x2="206.3" y2="345.56" stroke="#e9e9e9" stroke-width="1.25" stroke-linecap="butt"/>
<line x1="36.8" y1="338.11" x2="206.3" y2="338.11" stroke="#e9e9e9" stroke-width="1.25" stroke-linecap="butt"/>
<line x1="36.8" y1="326.88" x2="206.3" y2="326.88" stroke="#e9e9e9" stroke-width="1.25" stroke-linecap="butt"/>
<line x1="60.5" y1="315.2" x2="60.5" y2="556.9" stroke="#e9e9e9" stroke-width="1.25" stroke-linecap="butt"/>
<line x1="100.8" y1="315.2" x2="100.8" y2="556.9" stroke="#e9e9e9" stroke-width="1.25" stroke-linecap="butt"/>
<line x1="141.6" y1="315.2" x2="141.6" y2="556.9" stroke="#e9e9e9" stroke-width="1.25" stroke-linecap="butt"/>
<line x1="182.3" y1="315.2" x2="182.3" y2="556.9" stroke="#e9e9e9" stroke-width="1.25" stroke-linecap="butt"/>
<text x="104.9" y="310.7" font-size="11.8" text-anchor="middle" font-weight="normal" fill="#000">TMB values</text>
<path d="M58.8,369.6 L62.2,369.6 C62.17,372.63 61.98,383.25 62,387.8 C62.02,392.35 62.02,393.48 62.3,396.9 C62.58,400.32 63.18,404.87 63.7,408.3 C64.22,411.73 64.73,414.45 65.4,417.5 C66.07,420.55 66.85,423.57 67.7,426.6 C68.55,429.63 69.27,432.67 70.5,435.7 C71.73,438.73 73.57,441.75 75.1,444.8 C76.63,447.85 78.55,451.48 79.7,454 C80.85,456.52 81.47,458.32 82,459.9 C82.53,461.48 82.75,462.23 82.9,463.5 C83.05,464.77 83.32,465.5 82.9,467.5 C82.48,469.5 81.47,472.83 80.4,475.5 C79.33,478.17 77.82,480.65 76.5,483.5 C75.18,486.35 73.65,489.37 72.5,492.6 C71.35,495.83 70.47,499.67 69.6,502.9 C68.73,506.13 68.07,508.95 67.3,512 C66.53,515.05 65.67,518.35 65,521.2 C64.33,524.05 63.77,526.45 63.3,529.1 C62.83,531.75 62.47,534.23 62.2,537.1 C61.93,539.97 61.78,544.77 61.7,546.3 L59.3,546.3 C59.22,544.77 59.07,539.97 58.8,537.1 C58.53,534.23 58.17,531.75 57.7,529.1 C57.23,526.45 56.67,524.05 56,521.2 C55.33,518.35 54.47,515.05 53.7,512 C52.93,508.95 52.27,506.13 51.4,502.9 C50.53,499.67 49.65,495.83 48.5,492.6 C47.35,489.37 45.82,486.35 44.5,483.5 C43.18,480.65 41.67,478.17 40.6,475.5 C39.53,472.83 38.52,469.5 38.1,467.5 C37.68,465.5 37.95,464.77 38.1,463.5 C38.25,462.23 38.47,461.48 39,459.9 C39.53,458.32 40.15,456.52 41.3,454 C42.45,451.48 44.37,447.85 45.9,444.8 C47.43,441.75 49.27,438.73 50.5,435.7 C51.73,432.67 52.45,429.63 53.3,426.6 C54.15,423.57 54.93,420.55 55.6,417.5 C56.27,414.45 56.78,411.73 57.3,408.3 C57.82,404.87 58.42,400.32 58.7,396.9 C58.98,393.48 58.98,392.35 59,387.8 C59.02,383.25 58.83,372.63 58.8,369.6 Z" fill="#f5a693" stroke="#333333" stroke-width="1.5" stroke-linejoin="round"/>
<path d="M98.5,376.6 L103.1,376.6 C103.28,378.35 103.73,383.45 104.2,387.1 C104.67,390.75 105.23,394.7 105.9,398.5 C106.57,402.3 107.35,406.1 108.2,409.9 C109.05,413.7 110.05,417.5 111,421.3 C111.95,425.1 112.95,428.9 113.9,432.7 C114.85,436.5 115.88,440.3 116.7,444.1 C117.52,447.9 118.35,452.68 118.8,455.5 C119.25,458.32 119.43,458.8 119.4,461 C119.37,463.2 119.2,465.9 118.6,468.7 C118,471.5 116.93,474.38 115.8,477.8 C114.67,481.22 113.03,485.4 111.8,489.2 C110.57,493 109.55,496.8 108.4,500.6 C107.25,504.4 105.85,508.57 104.9,512 C103.95,515.43 103.17,518.35 102.7,521.2 C102.23,524.05 102.2,524.92 102.1,529.1 C102,533.28 102.1,543.43 102.1,546.3 L99.5,546.3 C99.5,543.43 99.6,533.28 99.5,529.1 C99.4,524.92 99.37,524.05 98.9,521.2 C98.43,518.35 97.65,515.43 96.7,512 C95.75,508.57 94.35,504.4 93.2,500.6 C92.05,496.8 91.03,493 89.8,489.2 C88.57,485.4 86.93,481.22 85.8,477.8 C84.67,474.38 83.6,471.5 83,468.7 C82.4,465.9 82.23,463.2 82.2,461 C82.17,458.8 82.35,458.32 82.8,455.5 C83.25,452.68 84.08,447.9 84.9,444.1 C85.72,440.3 86.75,436.5 87.7,432.7 C88.65,428.9 89.65,425.1 90.6,421.3 C91.55,417.5 92.55,413.7 93.4,409.9 C94.25,406.1 95.03,402.3 95.7,398.5 C96.37,394.7 96.93,390.75 97.4,387.1 C97.87,383.45 98.32,378.35 98.5,376.6 Z" fill="#fde595" stroke="#333333" stroke-width="1.5" stroke-linejoin="round"/>
<path d="M139.9,326.8 L143.3,326.8 C143.3,328.52 143.2,333.48 143.3,337.1 C143.4,340.72 143.62,344.7 143.9,348.5 C144.18,352.3 144.52,356.1 145,359.9 C145.48,363.7 146.13,367.5 146.8,371.3 C147.47,375.1 148.15,379.47 149,382.7 C149.85,385.93 150.65,388.22 151.9,390.7 C153.15,393.18 155.08,395.32 156.5,397.6 C157.92,399.88 159.4,402.12 160.4,404.4 C161.4,406.68 162.12,409.37 162.5,411.3 C162.88,413.23 162.72,414.2 162.7,416 C162.68,417.8 162.68,419.18 162.4,422.1 C162.12,425.02 161.8,430.08 161,433.5 C160.2,436.92 159.02,439.75 157.6,442.6 C156.18,445.45 153.93,448.12 152.5,450.6 C151.07,453.08 149.82,454.83 149,457.5 C148.18,460.17 147.97,463.57 147.6,466.6 C147.23,469.63 147.03,473.13 146.8,475.7 C146.57,478.27 146.3,480.95 146.2,482 L137,482 C136.9,480.95 136.63,478.27 136.4,475.7 C136.17,473.13 135.97,469.63 135.6,466.6 C135.23,463.57 135.02,460.17 134.2,457.5 C133.38,454.83 132.13,453.08 130.7,450.6 C129.27,448.12 127.02,445.45 125.6,442.6 C124.18,439.75 123,436.92 122.2,433.5 C121.4,430.08 121.08,425.02 120.8,422.1 C120.52,419.18 120.52,417.8 120.5,416 C120.48,414.2 120.32,413.23 120.7,411.3 C121.08,409.37 121.8,406.68 122.8,404.4 C123.8,402.12 125.28,399.88 126.7,397.6 C128.12,395.32 130.05,393.18 131.3,390.7 C132.55,388.22 133.35,385.93 134.2,382.7 C135.05,379.47 135.73,375.1 136.4,371.3 C137.07,367.5 137.72,363.7 138.2,359.9 C138.68,356.1 139.02,352.3 139.3,348.5 C139.58,344.7 139.8,340.72 139.9,337.1 C140,333.48 139.9,328.52 139.9,326.8 Z" fill="#b5dfe4" stroke="#333333" stroke-width="1.5" stroke-linejoin="round"/>
<path d="M179.3,399.3 L185.3,399.3 C185.53,400.98 186.23,406.12 186.7,409.4 C187.17,412.68 187.63,415.78 188.1,419 C188.57,422.22 189.02,425.48 189.5,428.7 C189.98,431.92 190.67,435.1 191,438.3 C191.33,441.5 191.42,442.62 191.5,447.9 C191.58,453.18 191.4,463.62 191.5,470 C191.6,476.38 191.55,481.68 192.1,486.2 C192.65,490.72 194.05,493.48 194.8,497.1 C195.55,500.72 196.23,504.65 196.6,507.9 C196.97,511.15 197.12,513.35 197,516.6 C196.88,519.85 196.53,523.98 195.9,527.4 C195.27,530.82 194.2,534.03 193.2,537.1 C192.2,540.17 190.45,544.35 189.9,545.8 L174.7,545.8 C174.15,544.35 172.4,540.17 171.4,537.1 C170.4,534.03 169.33,530.82 168.7,527.4 C168.07,523.98 167.72,519.85 167.6,516.6 C167.48,513.35 167.63,511.15 168,507.9 C168.37,504.65 169.05,500.72 169.8,497.1 C170.55,493.48 171.95,490.72 172.5,486.2 C173.05,481.68 173,476.38 173.1,470 C173.2,463.62 173.02,453.18 173.1,447.9 C173.18,442.62 173.27,441.5 173.6,438.3 C173.93,435.1 174.62,431.92 175.1,428.7 C175.58,425.48 176.03,422.22 176.5,419 C176.97,415.78 177.43,412.68 177.9,409.4 C178.37,406.12 179.07,400.98 179.3,399.3 Z" fill="#b4b4b4" stroke="#333333" stroke-width="1.5" stroke-linejoin="round"/>
<line x1="60.5" y1="404.9" x2="60.5" y2="451.1" stroke="#333333" stroke-width="1.5" stroke-linecap="butt"/>
<line x1="60.5" y1="485.2" x2="60.5" y2="524.6" stroke="#333333" stroke-width="1.5" stroke-linecap="butt"/>
<rect x="52.2" y="451.1" width="16.6" height="34.1" fill="rgba(232,65,58,0.4)" stroke="#333333" stroke-width="1.5"/>
<line x1="52.2" y1="467.3" x2="68.8" y2="467.3" stroke="#333333" stroke-width="2.4" stroke-linecap="butt"/>
<line x1="100.8" y1="377" x2="100.8" y2="434.4" stroke="#333333" stroke-width="1.5" stroke-linecap="butt"/>
<line x1="100.8" y1="473.3" x2="100.8" y2="510.9" stroke="#333333" stroke-width="1.5" stroke-linecap="butt"/>
<rect x="92.4" y="434.4" width="17" height="38.9" fill="rgba(247,212,13,0.45)" stroke="#333333" stroke-width="1.5"/>
<line x1="92.4" y1="458.8" x2="109.4" y2="458.8" stroke="#333333" stroke-width="2.4" stroke-linecap="butt"/>
<line x1="141.6" y1="337" x2="141.6" y2="406.3" stroke="#333333" stroke-width="1.5" stroke-linecap="butt"/>
<line x1="141.6" y1="440.4" x2="141.6" y2="482" stroke="#333333" stroke-width="1.5" stroke-linecap="butt"/>
<rect x="133.4" y="406.3" width="16.6" height="34.1" fill="rgba(104,194,205,0.35)" stroke="#333333" stroke-width="1.5"/>
<line x1="133.4" y1="420.1" x2="150" y2="420.1" stroke="#333333" stroke-width="2.4" stroke-linecap="butt"/>
<line x1="182.3" y1="399.3" x2="182.3" y2="452.2" stroke="#333333" stroke-width="1.5" stroke-linecap="butt"/>
<line x1="182.3" y1="525.8" x2="182.3" y2="545.8" stroke="#333333" stroke-width="1.5" stroke-linecap="butt"/>
<rect x="174.1" y="452.2" width="16.4" height="73.6" fill="rgba(110,110,110,0.35)" stroke="#333333" stroke-width="1.5"/>
<line x1="174.1" y1="502.3" x2="190.5" y2="502.3" stroke="#333333" stroke-width="2.4" stroke-linecap="butt"/>
<g fill="#e8413a" fill-opacity="0.95"><circle cx="67.29" cy="458.81" r="1.4"/><circle cx="61.9" cy="460.53" r="1.4"/><circle cx="68.22" cy="490.15" r="1.4"/><circle cx="52.74" cy="480.02" r="1.4"/><circle cx="55.54" cy="468.69" r="1.4"/><circle cx="59.92" cy="431.45" r="1.4"/><circle cx="60.81" cy="457.27" r="1.4"/><circle cx="63.1" cy="483.24" r="1.4"/><circle cx="68.46" cy="459.45" r="1.4"/><circle cx="56.17" cy="492.02" r="1.4"/><circle cx="64.76" cy="437.58" r="1.4"/><circle cx="55.86" cy="510.15" r="1.4"/><circle cx="53.89" cy="501.21" r="1.4"/><circle cx="56.44" cy="498.55" r="1.4"/><circle cx="65.25" cy="413.14" r="1.4"/><circle cx="64.21" cy="458.17" r="1.4"/><circle cx="68.03" cy="427.67" r="1.4"/><circle cx="66.66" cy="504.44" r="1.4"/><circle cx="64.86" cy="427.72" r="1.4"/><circle cx="53.67" cy="442.76" r="1.4"/><circle cx="67.85" cy="448.32" r="1.4"/><circle cx="66.36" cy="462.88" r="1.4"/><circle cx="67.03" cy="423.77" r="1.4"/><circle cx="55.54" cy="506.31" r="1.4"/><circle cx="53.12" cy="454.79" r="1.4"/><circle cx="65.68" cy="491.6" r="1.4"/><circle cx="55.31" cy="477.54" r="1.4"/><circle cx="56.15" cy="493.65" r="1.4"/><circle cx="62.33" cy="472.72" r="1.4"/><circle cx="56.81" cy="426.52" r="1.4"/><circle cx="55.32" cy="457.94" r="1.4"/><circle cx="54.61" cy="447.94" r="1.4"/><circle cx="54.75" cy="489.86" r="1.4"/><circle cx="67.06" cy="404.56" r="1.4"/><circle cx="57.6" cy="462.69" r="1.4"/><circle cx="61.24" cy="529.92" r="1.4"/><circle cx="66.32" cy="454.23" r="1.4"/><circle cx="58.62" cy="474.46" r="1.4"/><circle cx="53.78" cy="475.75" r="1.4"/><circle cx="61.8" cy="450.5" r="1.4"/><circle cx="53.84" cy="457.27" r="1.4"/><circle cx="62.12" cy="497.53" r="1.4"/><circle cx="63.67" cy="462.52" r="1.4"/><circle cx="67.23" cy="464.64" r="1.4"/><circle cx="57.32" cy="433.26" r="1.4"/><circle cx="55.21" cy="488.16" r="1.4"/><circle cx="57.73" cy="457.45" r="1.4"/><circle cx="59.39" cy="486.57" r="1.4"/><circle cx="54.68" cy="475.8" r="1.4"/><circle cx="66.08" cy="464.54" r="1.4"/><circle cx="59.71" cy="435.98" r="1.4"/><circle cx="59.12" cy="435.77" r="1.4"/><circle cx="57.55" cy="481.35" r="1.4"/><circle cx="53" cy="458.82" r="1.4"/><circle cx="63.84" cy="513.47" r="1.4"/><circle cx="65.16" cy="474.18" r="1.4"/><circle cx="65.77" cy="459.13" r="1.4"/><circle cx="53.25" cy="430.86" r="1.4"/><circle cx="62.58" cy="481.79" r="1.4"/><circle cx="60.06" cy="423.23" r="1.4"/><circle cx="56.86" cy="492.84" r="1.4"/><circle cx="64.6" cy="467.65" r="1.4"/><circle cx="67" cy="451.16" r="1.4"/><circle cx="59.76" cy="493.91" r="1.4"/><circle cx="66.57" cy="448.98" r="1.4"/><circle cx="55.78" cy="460.28" r="1.4"/><circle cx="57.63" cy="469.8" r="1.4"/><circle cx="59.55" cy="445.31" r="1.4"/><circle cx="60.3" cy="471.54" r="1.4"/><circle cx="54.88" cy="502.43" r="1.4"/><circle cx="65.94" cy="467.15" r="1.4"/><circle cx="53.88" cy="464.04" r="1.4"/><circle cx="66" cy="483.05" r="1.4"/><circle cx="58.6" cy="472.8" r="1.4"/><circle cx="61.07" cy="474.49" r="1.4"/><circle cx="52.94" cy="465.41" r="1.4"/><circle cx="61.51" cy="452.08" r="1.4"/><circle cx="53.55" cy="463.84" r="1.4"/><circle cx="67.81" cy="470.03" r="1.4"/><circle cx="59.44" cy="461.51" r="1.4"/><circle cx="55.56" cy="461.95" r="1.4"/><circle cx="62.42" cy="441.87" r="1.4"/><circle cx="60.99" cy="432.57" r="1.4"/><circle cx="59.11" cy="456.78" r="1.4"/><circle cx="55.77" cy="468.82" r="1.4"/><circle cx="57.5" cy="369.5" r="1.4"/><circle cx="67.4" cy="382.2" r="1.4"/><circle cx="52.7" cy="545.6" r="1.4"/><circle cx="64" cy="525" r="1.4"/><circle cx="68" cy="525" r="1.4"/></g>
<g fill="#f7d40d" fill-opacity="0.95"><circle cx="103.46" cy="454.32" r="1.4"/><circle cx="98.8" cy="412.83" r="1.4"/><circle cx="101.73" cy="481.32" r="1.4"/><circle cx="99.84" cy="477.67" r="1.4"/><circle cx="106.28" cy="437.12" r="1.4"/><circle cx="107.44" cy="397.33" r="1.4"/><circle cx="108.59" cy="458.62" r="1.4"/><circle cx="99.57" cy="513.34" r="1.4"/><circle cx="102.74" cy="411.88" r="1.4"/><circle cx="105.85" cy="401.42" r="1.4"/><circle cx="102.34" cy="445.06" r="1.4"/><circle cx="93.29" cy="454.6" r="1.4"/><circle cx="103.84" cy="439.54" r="1.4"/><circle cx="96.56" cy="479.22" r="1.4"/><circle cx="105.76" cy="440.42" r="1.4"/><circle cx="105.96" cy="457.5" r="1.4"/><circle cx="96.35" cy="448.77" r="1.4"/><circle cx="105.15" cy="448.41" r="1.4"/><circle cx="98.31" cy="399.61" r="1.4"/><circle cx="100.15" cy="474.62" r="1.4"/><circle cx="100.42" cy="421.1" r="1.4"/><circle cx="107.59" cy="514.49" r="1.4"/><circle cx="104.78" cy="440.52" r="1.4"/><circle cx="97.09" cy="509.01" r="1.4"/><circle cx="96.67" cy="491.33" r="1.4"/><circle cx="102.71" cy="396.08" r="1.4"/><circle cx="97.96" cy="457.95" r="1.4"/><circle cx="101.24" cy="474.93" r="1.4"/><circle cx="97" cy="454.67" r="1.4"/><circle cx="106.77" cy="415.27" r="1.4"/><circle cx="104.08" cy="459.4" r="1.4"/><circle cx="96.88" cy="421.76" r="1.4"/><circle cx="94.91" cy="480.41" r="1.4"/><circle cx="108.47" cy="425.15" r="1.4"/><circle cx="107.52" cy="464.99" r="1.4"/><circle cx="107.22" cy="447.21" r="1.4"/><circle cx="104.57" cy="438.43" r="1.4"/><circle cx="104.16" cy="465.42" r="1.4"/><circle cx="98.87" cy="461.87" r="1.4"/><circle cx="97.79" cy="407.29" r="1.4"/><circle cx="94.8" cy="462.7" r="1.4"/><circle cx="99.11" cy="461.78" r="1.4"/><circle cx="97.98" cy="425.72" r="1.4"/><circle cx="94.25" cy="480.66" r="1.4"/><circle cx="104.95" cy="434.06" r="1.4"/><circle cx="100.61" cy="440.7" r="1.4"/><circle cx="103.48" cy="450.46" r="1.4"/><circle cx="98.04" cy="437.66" r="1.4"/><circle cx="98.56" cy="512.97" r="1.4"/><circle cx="99.72" cy="429.96" r="1.4"/><circle cx="95.4" cy="457.63" r="1.4"/><circle cx="106.29" cy="453.08" r="1.4"/><circle cx="106.48" cy="426.23" r="1.4"/><circle cx="101.41" cy="498.96" r="1.4"/><circle cx="103.57" cy="490.16" r="1.4"/><circle cx="98.4" cy="464.24" r="1.4"/><circle cx="100.8" cy="486.53" r="1.4"/><circle cx="94.97" cy="440.11" r="1.4"/><circle cx="96.83" cy="423.21" r="1.4"/><circle cx="106.77" cy="469.85" r="1.4"/><circle cx="102.68" cy="493.04" r="1.4"/><circle cx="98.88" cy="427.9" r="1.4"/><circle cx="105.71" cy="443.08" r="1.4"/><circle cx="96.87" cy="416.23" r="1.4"/><circle cx="97.69" cy="439.85" r="1.4"/><circle cx="106.88" cy="499.13" r="1.4"/><circle cx="95.41" cy="396.62" r="1.4"/><circle cx="95.84" cy="484.48" r="1.4"/><circle cx="106.59" cy="418.01" r="1.4"/><circle cx="103.76" cy="470.86" r="1.4"/><circle cx="105.6" cy="376.4" r="1.4"/><circle cx="102.9" cy="545.6" r="1.4"/></g>
<g fill="#62bfcc" fill-opacity="0.8"><circle cx="142.07" cy="449.55" r="1.4"/><circle cx="143.23" cy="412.65" r="1.4"/><circle cx="142.56" cy="419.39" r="1.4"/><circle cx="140.55" cy="412.41" r="1.4"/><circle cx="146.39" cy="398.28" r="1.4"/><circle cx="144.25" cy="451.31" r="1.4"/><circle cx="137.14" cy="414.09" r="1.4"/><circle cx="140.99" cy="423.77" r="1.4"/><circle cx="136.06" cy="433.87" r="1.4"/><circle cx="137.64" cy="419.88" r="1.4"/><circle cx="140.3" cy="437.96" r="1.4"/><circle cx="148.67" cy="447.41" r="1.4"/><circle cx="137.28" cy="433.63" r="1.4"/><circle cx="142.97" cy="435.3" r="1.4"/><circle cx="139.22" cy="403.84" r="1.4"/><circle cx="144.36" cy="396.03" r="1.4"/><circle cx="134.68" cy="427.85" r="1.4"/><circle cx="135.49" cy="413.63" r="1.4"/><circle cx="141.85" cy="420.58" r="1.4"/><circle cx="138.55" cy="417.86" r="1.4"/><circle cx="137.76" cy="431.74" r="1.4"/><circle cx="139.36" cy="395.06" r="1.4"/><circle cx="145.71" cy="433.18" r="1.4"/><circle cx="138.44" cy="427.66" r="1.4"/><circle cx="147.05" cy="413.07" r="1.4"/><circle cx="136.02" cy="407.38" r="1.4"/><circle cx="147.25" cy="404.05" r="1.4"/><circle cx="142.13" cy="480.76" r="1.4"/><circle cx="134.17" cy="426.54" r="1.4"/><circle cx="146.13" cy="405.34" r="1.4"/><circle cx="140.71" cy="423.43" r="1.4"/><circle cx="146.69" cy="429.94" r="1.4"/><circle cx="134.88" cy="396.34" r="1.4"/><circle cx="145.53" cy="447.35" r="1.4"/><circle cx="134.54" cy="414.92" r="1.4"/><circle cx="142.69" cy="418.08" r="1.4"/><circle cx="142.93" cy="381.8" r="1.4"/><circle cx="146.62" cy="420.63" r="1.4"/><circle cx="148.49" cy="439.18" r="1.4"/><circle cx="141.61" cy="378.76" r="1.4"/><circle cx="137.76" cy="419.35" r="1.4"/><circle cx="140.84" cy="424.7" r="1.4"/><circle cx="141" cy="327.5" r="1.4"/><circle cx="139" cy="359" r="1.4"/><circle cx="141" cy="481.8" r="1.4"/><circle cx="145" cy="481.8" r="1.4"/></g>
<g fill="#7d7d7d" fill-opacity="0.8"><circle cx="185.58" cy="441.6" r="1.4"/><circle cx="184.88" cy="493.89" r="1.4"/><circle cx="187.92" cy="420.98" r="1.4"/><circle cx="186.56" cy="453.33" r="1.4"/><circle cx="183.02" cy="490.27" r="1.4"/><circle cx="184.42" cy="494.64" r="1.4"/><circle cx="176.46" cy="421.61" r="1.4"/><circle cx="187.52" cy="464.22" r="1.4"/><circle cx="183.55" cy="497.73" r="1.4"/><circle cx="176.63" cy="490.55" r="1.4"/><circle cx="178.01" cy="523.1" r="1.4"/><circle cx="186.48" cy="466.1" r="1.4"/><circle cx="186.75" cy="472.56" r="1.4"/><circle cx="175.69" cy="417.09" r="1.4"/><circle cx="182.66" cy="504.95" r="1.4"/><circle cx="181.67" cy="497.53" r="1.4"/><circle cx="183.64" cy="470.46" r="1.4"/><circle cx="177.31" cy="531.77" r="1.4"/><circle cx="175.57" cy="499.97" r="1.4"/><circle cx="183.27" cy="462.12" r="1.4"/><circle cx="179.53" cy="531.78" r="1.4"/><circle cx="180.73" cy="468.35" r="1.4"/></g>
<line x1="60.2" y1="326.7" x2="140.5" y2="326.7" stroke="#000" stroke-width="1.8" stroke-linecap="butt" stroke-dasharray="11.7 4.4"/>
<text x="101.5" y="329.7" font-size="12.5" text-anchor="middle" font-weight="normal" fill="#000">***</text>
<line x1="101.1" y1="333.7" x2="140.5" y2="333.7" stroke="#000" stroke-width="1.8" stroke-linecap="butt" stroke-dasharray="11.7 4.4"/>
<text x="121.5" y="337.5" font-size="12.5" text-anchor="middle" font-weight="normal" fill="#000">***</text>
<line x1="60.2" y1="349.6" x2="100.5" y2="349.6" stroke="#000" stroke-width="2.0" stroke-linecap="butt" stroke-dasharray="2 4.6"/>
<text x="80.7" y="353.4" font-size="12.5" text-anchor="middle" font-weight="normal" fill="#000">*</text>
<rect x="36.8" y="315.2" width="169.5" height="241.7" fill="none" stroke="#3a3a3a" stroke-width="1.05"/>
<line x1="34" y1="546" x2="36.8" y2="546" stroke="#333333" stroke-width="1.3" stroke-linecap="butt"/>
<text x="33.5" y="549.7" font-size="10" text-anchor="end" font-weight="normal" fill="#575757">0</text>
<line x1="34" y1="522.82" x2="36.8" y2="522.82" stroke="#333333" stroke-width="1.3" stroke-linecap="butt"/>
<text x="33.5" y="526.52" font-size="10" text-anchor="end" font-weight="normal" fill="#575757">1</text>
<line x1="34" y1="486.08" x2="36.8" y2="486.08" stroke="#333333" stroke-width="1.3" stroke-linecap="butt"/>
<text x="33.5" y="489.78" font-size="10" text-anchor="end" font-weight="normal" fill="#575757">5</text>
<line x1="34" y1="465.81" x2="36.8" y2="465.81" stroke="#333333" stroke-width="1.3" stroke-linecap="butt"/>
<text x="33.5" y="469.51" font-size="10" text-anchor="end" font-weight="normal" fill="#575757">10</text>
<line x1="34" y1="444.19" x2="36.8" y2="444.19" stroke="#333333" stroke-width="1.3" stroke-linecap="butt"/>
<text x="33.5" y="447.89" font-size="10" text-anchor="end" font-weight="normal" fill="#575757">20</text>
<line x1="34" y1="431.17" x2="36.8" y2="431.17" stroke="#333333" stroke-width="1.3" stroke-linecap="butt"/>
<text x="33.5" y="434.87" font-size="10" text-anchor="end" font-weight="normal" fill="#575757">30</text>
<line x1="34" y1="414.52" x2="36.8" y2="414.52" stroke="#333333" stroke-width="1.3" stroke-linecap="butt"/>
<text x="33.5" y="418.22" font-size="10" text-anchor="end" font-weight="normal" fill="#575757">50</text>
<line x1="34" y1="391.67" x2="36.8" y2="391.67" stroke="#333333" stroke-width="1.3" stroke-linecap="butt"/>
<text x="33.5" y="395.37" font-size="10" text-anchor="end" font-weight="normal" fill="#575757">100</text>
<line x1="34" y1="378.22" x2="36.8" y2="378.22" stroke="#333333" stroke-width="1.3" stroke-linecap="butt"/>
<text x="33.5" y="381.92" font-size="10" text-anchor="end" font-weight="normal" fill="#575757">150</text>
<line x1="34" y1="368.65" x2="36.8" y2="368.65" stroke="#333333" stroke-width="1.3" stroke-linecap="butt"/>
<text x="33.5" y="372.35" font-size="10" text-anchor="end" font-weight="normal" fill="#575757">200</text>
<line x1="34" y1="355.15" x2="36.8" y2="355.15" stroke="#333333" stroke-width="1.3" stroke-linecap="butt"/>
<text x="33.5" y="358.85" font-size="10" text-anchor="end" font-weight="normal" fill="#575757">300</text>
<line x1="34" y1="345.56" x2="36.8" y2="345.56" stroke="#333333" stroke-width="1.3" stroke-linecap="butt"/>
<text x="33.5" y="349.26" font-size="10" text-anchor="end" font-weight="normal" fill="#575757">400</text>
<line x1="34" y1="338.11" x2="36.8" y2="338.11" stroke="#333333" stroke-width="1.3" stroke-linecap="butt"/>
<text x="33.5" y="341.81" font-size="10" text-anchor="end" font-weight="normal" fill="#575757">500</text>
<line x1="34" y1="326.88" x2="36.8" y2="326.88" stroke="#333333" stroke-width="1.3" stroke-linecap="butt"/>
<text x="33.5" y="330.58" font-size="10" text-anchor="end" font-weight="normal" fill="#575757">700</text>
<line x1="60.5" y1="556.9" x2="60.5" y2="559.7" stroke="#333333" stroke-width="1.3" stroke-linecap="butt"/>
<line x1="100.8" y1="556.9" x2="100.8" y2="559.7" stroke="#333333" stroke-width="1.3" stroke-linecap="butt"/>
<line x1="141.6" y1="556.9" x2="141.6" y2="559.7" stroke="#333333" stroke-width="1.3" stroke-linecap="butt"/>
<line x1="182.3" y1="556.9" x2="182.3" y2="559.7" stroke="#333333" stroke-width="1.3" stroke-linecap="butt"/>
<text x="12.4" y="437" font-size="11.1" text-anchor="middle" font-weight="bold" fill="#000" transform="rotate(-90 12.4 437)">TMB (mut/Mb)</text>
<text x="216.7" y="418.7" font-size="11" text-anchor="start" font-weight="bold" fill="#000">Subtypes</text>
<rect x="215.6" y="423.3" width="10.2" height="9.9" fill="#333333" stroke="none" stroke-width="1"/>
<rect x="216.69" y="423.96" width="3.26" height="1.32" fill="#7b4846" stroke="none" stroke-width="1"/>
<rect x="221.45" y="423.96" width="3.26" height="1.32" fill="#7b4846" stroke="none" stroke-width="1"/>
<rect x="216.69" y="431.38" width="3.26" height="1.07" fill="#a25350" stroke="none" stroke-width="1"/>
<rect x="221.45" y="431.38" width="3.26" height="1.07" fill="#a25350" stroke="none" stroke-width="1"/>
<rect x="217.44" y="426.52" width="6.52" height="1.24" fill="#a25350" stroke="none" stroke-width="1"/>
<rect x="217.44" y="429.07" width="6.52" height="1.24" fill="#a25350" stroke="none" stroke-width="1"/>
<rect x="219.78" y="427.01" width="1.84" height="2.97" fill="#e8413a" stroke="none" stroke-width="1"/>
<circle cx="220.7" cy="428.42" r="0.99" fill="#e8413a"/>
<rect x="215.6" y="433.2" width="10.2" height="9.9" fill="#333333" stroke="none" stroke-width="1"/>
<rect x="216.69" y="433.86" width="3.26" height="1.32" fill="#7f7438" stroke="none" stroke-width="1"/>
<rect x="221.45" y="433.86" width="3.26" height="1.32" fill="#7f7438" stroke="none" stroke-width="1"/>
<rect x="216.69" y="441.28" width="3.26" height="1.07" fill="#a8983c" stroke="none" stroke-width="1"/>
<rect x="221.45" y="441.28" width="3.26" height="1.07" fill="#a8983c" stroke="none" stroke-width="1"/>
<rect x="217.44" y="436.42" width="6.52" height="1.24" fill="#a8983c" stroke="none" stroke-width="1"/>
<rect x="217.44" y="438.97" width="6.52" height="1.24" fill="#a8983c" stroke="none" stroke-width="1"/>
<rect x="219.78" y="436.91" width="1.84" height="2.97" fill="#f7d40d" stroke="none" stroke-width="1"/>
<circle cx="220.7" cy="438.31" r="0.99" fill="#f7d40d"/>
<rect x="215.6" y="443.1" width="10.2" height="9.9" fill="#333333" stroke="none" stroke-width="1"/>
<rect x="216.69" y="443.76" width="3.26" height="1.32" fill="#546f72" stroke="none" stroke-width="1"/>
<rect x="221.45" y="443.76" width="3.26" height="1.32" fill="#546f72" stroke="none" stroke-width="1"/>
<rect x="216.69" y="451.19" width="3.26" height="1.07" fill="#669095" stroke="none" stroke-width="1"/>
<rect x="221.45" y="451.19" width="3.26" height="1.07" fill="#669095" stroke="none" stroke-width="1"/>
<rect x="217.44" y="446.32" width="6.52" height="1.24" fill="#669095" stroke="none" stroke-width="1"/>
<rect x="217.44" y="448.88" width="6.52" height="1.24" fill="#669095" stroke="none" stroke-width="1"/>
<rect x="219.78" y="446.81" width="1.84" height="2.97" fill="#68c2cd" stroke="none" stroke-width="1"/>
<circle cx="220.7" cy="448.22" r="0.99" fill="#68c2cd"/>
<rect x="215.6" y="453" width="10.2" height="9.9" fill="#333333" stroke="none" stroke-width="1"/>
<rect x="216.69" y="453.66" width="3.26" height="1.32" fill="#5f5f5f" stroke="none" stroke-width="1"/>
<rect x="221.45" y="453.66" width="3.26" height="1.32" fill="#5f5f5f" stroke="none" stroke-width="1"/>
<rect x="216.69" y="461.08" width="3.26" height="1.07" fill="#777777" stroke="none" stroke-width="1"/>
<rect x="221.45" y="461.08" width="3.26" height="1.07" fill="#777777" stroke="none" stroke-width="1"/>
<rect x="217.44" y="456.22" width="6.52" height="1.24" fill="#777777" stroke="none" stroke-width="1"/>
<rect x="217.44" y="458.77" width="6.52" height="1.24" fill="#777777" stroke="none" stroke-width="1"/>
<rect x="219.78" y="456.71" width="1.84" height="2.97" fill="#8c8c8c" stroke="none" stroke-width="1"/>
<circle cx="220.7" cy="458.12" r="0.99" fill="#8c8c8c"/>
<text x="229.3" y="431.4" font-size="10.2" text-anchor="start" font-weight="normal" fill="#000">BRAF</text>
<text x="229.3" y="441.45" font-size="10.2" text-anchor="start" font-weight="normal" fill="#000">RAS</text>
<text x="229.3" y="451.5" font-size="10.2" text-anchor="start" font-weight="normal" fill="#000">NF1</text>
<text x="229.3" y="461.55" font-size="10.2" text-anchor="start" font-weight="normal" fill="#000">TWT</text>
<text x="306.3" y="300.6" font-size="17.5" text-anchor="start" font-weight="normal" fill="#000">d</text>
<polyline points="359.2,309.2 359.81,309.2 359.81,315.18 360.42,315.18 360.42,321.61 361.33,321.61 361.33,330.13 362.25,330.13 362.25,339.7 363.47,339.7 363.47,346.57 364.69,346.57 364.69,354.05 366.52,354.05 366.52,366.01 368.35,366.01 368.35,377.07 369.88,377.07 369.88,380.96 371.7,380.96 371.7,383.05 375.37,383.05 375.37,386.64 379.02,386.64 379.02,389.03 385.12,389.03 385.12,391.42 391.22,391.42 391.22,393.22 409.83,393.22 409.83,398.3 641.33,398.3" fill="none" stroke="#ee3b36" stroke-width="2.9" stroke-linecap="butt" stroke-linejoin="miter"/>
<polyline points="359.2,309.2 361.64,309.2 361.64,315.18 363.47,315.18 363.47,319.66 365.3,319.66 365.3,327.14 366.52,327.14 366.52,334.62 367.44,334.62 367.44,342.09 368.35,342.09 368.35,351.06 369.26,351.06 369.26,357.04 370.18,357.04 370.18,364.51 371.09,364.51 371.09,369 375.67,369 375.67,374.98 379.94,374.98 379.94,376.47 382.99,376.47 382.99,379.46 386.04,379.46 386.04,382.45 393.36,382.45 393.36,385.44 443.99,385.44 443.99,389.93 467.47,389.93 467.47,397.4 475.71,397.4 475.71,406.38 506.82,406.38 506.82,416.54 578.5,416.54" fill="none" stroke="#f8d212" stroke-width="2.8" stroke-linecap="butt" stroke-linejoin="miter" stroke-dasharray="7 6" stroke-dashoffset="5.04"/>
<polyline points="359.2,309.2 360.72,309.2 360.72,313.69 362.25,313.69 362.25,321.16 364.08,321.16 364.08,330.13 365.91,330.13 365.91,339.1 367.74,339.1 367.74,348.07 369.26,348.07 369.26,355.55 370.18,355.55 370.18,362.57 375.06,362.57 375.06,369 387.56,369 387.56,371.99 389.7,371.99 389.7,376.47 391.22,376.47 391.22,379.46 393.36,379.46 393.36,383.95 396.1,383.95 396.1,386.94 400.38,386.94 400.38,389.03 666.03,389.03" fill="none" stroke="#70c3c9" stroke-width="2.8" stroke-linecap="butt" stroke-linejoin="miter" stroke-dasharray="12.8 6.3" stroke-dashoffset="18.57"/>
<polyline points="359.2,309.2 361.64,309.2 361.64,313.69 364.08,313.69 364.08,319.66 365.3,319.66 365.3,328.63 367.13,328.63 367.13,339.1 369.26,339.1 369.26,349.56 371.4,349.56 371.4,355.55 372.93,355.55 372.93,360.03 374.75,360.03 374.75,369 376.58,369 376.58,375.73 377.81,375.73 377.81,379.46 392.44,379.46 392.44,383.05 395.19,383.05 395.19,386.64 406.78,386.64 406.78,389.03 409.22,389.03 409.22,392.92 411.96,392.92 411.96,396.21 418.67,396.21 418.67,403.38 425.69,403.38 425.69,407.42 430.88,407.42 430.88,417.59 449.17,417.59 449.17,424.17 537.62,424.17 537.62,440.61 575.75,440.61" fill="none" stroke="#7f7f7f" stroke-width="2.8" stroke-linecap="butt" stroke-linejoin="miter" stroke-dasharray="13 13" stroke-dashoffset="4.63"/>
<g stroke="#ee3b36" stroke-width="0.9"><line x1="418" y1="398.3" x2="422.4" y2="398.3"/><line x1="420.2" y1="396.1" x2="420.2" y2="400.5"/><line x1="427.15" y1="398.3" x2="431.55" y2="398.3"/><line x1="429.35" y1="396.1" x2="429.35" y2="400.5"/><line x1="433.25" y1="398.3" x2="437.65" y2="398.3"/><line x1="435.45" y1="396.1" x2="435.45" y2="400.5"/><line x1="439.35" y1="398.3" x2="443.75" y2="398.3"/><line x1="441.55" y1="396.1" x2="441.55" y2="400.5"/><line x1="448.5" y1="398.3" x2="452.9" y2="398.3"/><line x1="450.7" y1="396.1" x2="450.7" y2="400.5"/><line x1="457.65" y1="398.3" x2="462.05" y2="398.3"/><line x1="459.85" y1="396.1" x2="459.85" y2="400.5"/><line x1="466.8" y1="398.3" x2="471.2" y2="398.3"/><line x1="469" y1="396.1" x2="469" y2="400.5"/><line x1="472.9" y1="398.3" x2="477.3" y2="398.3"/><line x1="475.1" y1="396.1" x2="475.1" y2="400.5"/><line x1="488.15" y1="398.3" x2="492.55" y2="398.3"/><line x1="490.35" y1="396.1" x2="490.35" y2="400.5"/><line x1="503.4" y1="398.3" x2="507.8" y2="398.3"/><line x1="505.6" y1="396.1" x2="505.6" y2="400.5"/><line x1="524.75" y1="398.3" x2="529.15" y2="398.3"/><line x1="526.95" y1="396.1" x2="526.95" y2="400.5"/><line x1="536.95" y1="398.3" x2="541.35" y2="398.3"/><line x1="539.15" y1="396.1" x2="539.15" y2="400.5"/><line x1="540" y1="398.3" x2="544.4" y2="398.3"/><line x1="542.2" y1="396.1" x2="542.2" y2="400.5"/><line x1="543.05" y1="398.3" x2="547.45" y2="398.3"/><line x1="545.25" y1="396.1" x2="545.25" y2="400.5"/><line x1="570.5" y1="398.3" x2="574.9" y2="398.3"/><line x1="572.7" y1="396.1" x2="572.7" y2="400.5"/><line x1="573.55" y1="398.3" x2="577.95" y2="398.3"/><line x1="575.75" y1="396.1" x2="575.75" y2="400.5"/><line x1="639.12" y1="398.3" x2="643.53" y2="398.3"/><line x1="641.33" y1="396.1" x2="641.33" y2="400.5"/></g>
<g stroke="#70c3c9" stroke-width="0.9"><line x1="448.5" y1="389.03" x2="452.9" y2="389.03"/><line x1="450.7" y1="386.83" x2="450.7" y2="391.23"/><line x1="457.65" y1="389.03" x2="462.05" y2="389.03"/><line x1="459.85" y1="386.83" x2="459.85" y2="391.23"/><line x1="463.75" y1="389.03" x2="468.15" y2="389.03"/><line x1="465.95" y1="386.83" x2="465.95" y2="391.23"/><line x1="469.85" y1="389.03" x2="474.25" y2="389.03"/><line x1="472.05" y1="386.83" x2="472.05" y2="391.23"/><line x1="475.95" y1="389.03" x2="480.35" y2="389.03"/><line x1="478.15" y1="386.83" x2="478.15" y2="391.23"/><line x1="482.05" y1="389.03" x2="486.45" y2="389.03"/><line x1="484.25" y1="386.83" x2="484.25" y2="391.23"/><line x1="540" y1="389.03" x2="544.4" y2="389.03"/><line x1="542.2" y1="386.83" x2="542.2" y2="391.23"/><line x1="546.1" y1="389.03" x2="550.5" y2="389.03"/><line x1="548.3" y1="386.83" x2="548.3" y2="391.23"/><line x1="576.6" y1="389.03" x2="581" y2="389.03"/><line x1="578.8" y1="386.83" x2="578.8" y2="391.23"/><line x1="579.65" y1="389.03" x2="584.05" y2="389.03"/><line x1="581.85" y1="386.83" x2="581.85" y2="391.23"/><line x1="663.83" y1="389.03" x2="668.23" y2="389.03"/><line x1="666.03" y1="386.83" x2="666.03" y2="391.23"/></g>
<g stroke="#f8d212" stroke-width="0.9"><line x1="399.7" y1="385.44" x2="404.1" y2="385.44"/><line x1="401.9" y1="383.25" x2="401.9" y2="387.64"/><line x1="411.9" y1="385.44" x2="416.3" y2="385.44"/><line x1="414.1" y1="383.25" x2="414.1" y2="387.64"/><line x1="421.05" y1="385.44" x2="425.45" y2="385.44"/><line x1="423.25" y1="383.25" x2="423.25" y2="387.64"/><line x1="427.15" y1="385.44" x2="431.55" y2="385.44"/><line x1="429.35" y1="383.25" x2="429.35" y2="387.64"/><line x1="433.25" y1="385.44" x2="437.65" y2="385.44"/><line x1="435.45" y1="383.25" x2="435.45" y2="387.64"/><line x1="570.5" y1="416.54" x2="574.9" y2="416.54"/><line x1="572.7" y1="414.34" x2="572.7" y2="418.74"/><line x1="576.6" y1="416.54" x2="581" y2="416.54"/><line x1="578.8" y1="414.34" x2="578.8" y2="418.74"/></g>
<g stroke="#7f7f7f" stroke-width="0.9"><line x1="573.55" y1="440.61" x2="577.95" y2="440.61"/><line x1="575.75" y1="438.41" x2="575.75" y2="442.81"/></g>
<line x1="358.9" y1="383.8" x2="395.6" y2="383.8" stroke="#000" stroke-width="1.9" stroke-linecap="butt" stroke-dasharray="7.2 5.7"/>
<line x1="375.7" y1="458.8" x2="375.7" y2="383.8" stroke="#000" stroke-width="1.9" stroke-linecap="butt" stroke-dasharray="6.2 6.6"/>
<line x1="385.9" y1="458.8" x2="385.9" y2="383.8" stroke="#000" stroke-width="1.9" stroke-linecap="butt" stroke-dasharray="6.2 6.6"/>
<line x1="393.9" y1="458.8" x2="393.9" y2="383.8" stroke="#000" stroke-width="1.9" stroke-linecap="butt" stroke-dasharray="6.2 6.6"/>
<line x1="395.4" y1="458.8" x2="395.4" y2="383.8" stroke="#000" stroke-width="1.9" stroke-linecap="butt" stroke-dasharray="6.2 6.6"/>
<line x1="343.6" y1="301.5" x2="343.6" y2="467" stroke="#000" stroke-width="2.1" stroke-linecap="butt"/>
<line x1="342.6" y1="466" x2="679.5" y2="466" stroke="#000" stroke-width="2.1" stroke-linecap="butt"/>
<line x1="340.6" y1="458.7" x2="343.6" y2="458.7" stroke="#000" stroke-width="1.4" stroke-linecap="butt"/>
<text x="338.6" y="462.1" font-size="7.9" text-anchor="end" font-weight="normal" fill="#575757">0.00</text>
<line x1="340.6" y1="421.32" x2="343.6" y2="421.32" stroke="#000" stroke-width="1.4" stroke-linecap="butt"/>
<text x="338.6" y="424.72" font-size="7.9" text-anchor="end" font-weight="normal" fill="#575757">0.25</text>
<line x1="340.6" y1="383.95" x2="343.6" y2="383.95" stroke="#000" stroke-width="1.4" stroke-linecap="butt"/>
<text x="338.6" y="387.35" font-size="7.9" text-anchor="end" font-weight="normal" fill="#575757">0.50</text>
<line x1="340.6" y1="346.57" x2="343.6" y2="346.57" stroke="#000" stroke-width="1.4" stroke-linecap="butt"/>
<text x="338.6" y="349.97" font-size="7.9" text-anchor="end" font-weight="normal" fill="#575757">0.75</text>
<line x1="340.6" y1="309.2" x2="343.6" y2="309.2" stroke="#000" stroke-width="1.4" stroke-linecap="butt"/>
<text x="338.6" y="312.6" font-size="7.9" text-anchor="end" font-weight="normal" fill="#575757">1.00</text>
<line x1="359.2" y1="466" x2="359.2" y2="469" stroke="#000" stroke-width="1.4" stroke-linecap="butt"/>
<text x="359.2" y="476.6" font-size="8.1" text-anchor="middle" font-weight="normal" fill="#575757">0</text>
<line x1="395.8" y1="466" x2="395.8" y2="469" stroke="#000" stroke-width="1.4" stroke-linecap="butt"/>
<text x="395.8" y="476.6" font-size="8.1" text-anchor="middle" font-weight="normal" fill="#575757">12</text>
<line x1="432.4" y1="466" x2="432.4" y2="469" stroke="#000" stroke-width="1.4" stroke-linecap="butt"/>
<text x="432.4" y="476.6" font-size="8.1" text-anchor="middle" font-weight="normal" fill="#575757">24</text>
<line x1="469" y1="466" x2="469" y2="469" stroke="#000" stroke-width="1.4" stroke-linecap="butt"/>
<text x="469" y="476.6" font-size="8.1" text-anchor="middle" font-weight="normal" fill="#575757">36</text>
<line x1="505.6" y1="466" x2="505.6" y2="469" stroke="#000" stroke-width="1.4" stroke-linecap="butt"/>
<text x="505.6" y="476.6" font-size="8.1" text-anchor="middle" font-weight="normal" fill="#575757">48</text>
<line x1="542.2" y1="466" x2="542.2" y2="469" stroke="#000" stroke-width="1.4" stroke-linecap="butt"/>
<text x="542.2" y="476.6" font-size="8.1" text-anchor="middle" font-weight="normal" fill="#575757">60</text>
<line x1="578.8" y1="466" x2="578.8" y2="469" stroke="#000" stroke-width="1.4" stroke-linecap="butt"/>
<text x="578.8" y="476.6" font-size="8.1" text-anchor="middle" font-weight="normal" fill="#575757">72</text>
<line x1="615.4" y1="466" x2="615.4" y2="469" stroke="#000" stroke-width="1.4" stroke-linecap="butt"/>
<text x="615.4" y="476.6" font-size="8.1" text-anchor="middle" font-weight="normal" fill="#575757">84</text>
<line x1="652" y1="466" x2="652" y2="469" stroke="#000" stroke-width="1.4" stroke-linecap="butt"/>
<text x="652" y="476.6" font-size="8.1" text-anchor="middle" font-weight="normal" fill="#575757">96</text>
<text x="319.2" y="383" font-size="10.6" text-anchor="middle" font-weight="normal" fill="#000" transform="rotate(-90 319.2 383)">PFS probability</text>
<text x="511.5" y="489" font-size="10" text-anchor="middle" font-weight="normal" fill="#000">Months</text>
<text x="578.6" y="343.7" font-size="9.2" text-anchor="start" font-weight="normal" fill="#000">p = 0.66</text>
<text x="350.7" y="509.8" font-size="11.8" text-anchor="start" font-weight="normal" fill="#000">Number at risk</text>
<line x1="350.2" y1="517.9" x2="350.2" y2="544.2" stroke="#000" stroke-width="2.1" stroke-linecap="butt"/>
<line x1="349.2" y1="543.2" x2="679.5" y2="543.2" stroke="#000" stroke-width="2.1" stroke-linecap="butt"/>
<text x="345.3" y="523.8" font-size="8.2" text-anchor="end" font-weight="normal" fill="#ee3b36">BRAF</text>
<line x1="347.2" y1="520.9" x2="350.2" y2="520.9" stroke="#000" stroke-width="1.4" stroke-linecap="butt"/>
<text x="364.8" y="523.8" font-size="8.2" text-anchor="middle" font-weight="normal" fill="#ee3b36">71</text>
<text x="400.8" y="523.8" font-size="8.2" text-anchor="middle" font-weight="normal" fill="#ee3b36">29</text>
<text x="436.8" y="523.8" font-size="8.2" text-anchor="middle" font-weight="normal" fill="#ee3b36">18</text>
<text x="472.8" y="523.8" font-size="8.2" text-anchor="middle" font-weight="normal" fill="#ee3b36">14</text>
<text x="508.8" y="523.8" font-size="8.2" text-anchor="middle" font-weight="normal" fill="#ee3b36">9</text>
<text x="544.8" y="523.8" font-size="8.2" text-anchor="middle" font-weight="normal" fill="#ee3b36">6</text>
<text x="580.8" y="523.8" font-size="8.2" text-anchor="middle" font-weight="normal" fill="#ee3b36">2</text>
<text x="616.8" y="523.8" font-size="8.2" text-anchor="middle" font-weight="normal" fill="#ee3b36">1</text>
<text x="652.8" y="523.8" font-size="8.2" text-anchor="middle" font-weight="normal" fill="#ee3b36">0</text>
<text x="345.3" y="529.6" font-size="8.2" text-anchor="end" font-weight="normal" fill="#f8d212">RAS</text>
<line x1="347.2" y1="526.7" x2="350.2" y2="526.7" stroke="#000" stroke-width="1.4" stroke-linecap="butt"/>
<text x="364.8" y="529.6" font-size="8.2" text-anchor="middle" font-weight="normal" fill="#f8d212">55</text>
<text x="400.8" y="529.6" font-size="8.2" text-anchor="middle" font-weight="normal" fill="#f8d212">22</text>
<text x="436.8" y="529.6" font-size="8.2" text-anchor="middle" font-weight="normal" fill="#f8d212">16</text>
<text x="472.8" y="529.6" font-size="8.2" text-anchor="middle" font-weight="normal" fill="#f8d212">9</text>
<text x="508.8" y="529.6" font-size="8.2" text-anchor="middle" font-weight="normal" fill="#f8d212">5</text>
<text x="544.8" y="529.6" font-size="8.2" text-anchor="middle" font-weight="normal" fill="#f8d212">2</text>
<text x="580.8" y="529.6" font-size="8.2" text-anchor="middle" font-weight="normal" fill="#f8d212">0</text>
<text x="616.8" y="529.6" font-size="8.2" text-anchor="middle" font-weight="normal" fill="#f8d212">0</text>
<text x="652.8" y="529.6" font-size="8.2" text-anchor="middle" font-weight="normal" fill="#f8d212">0</text>
<text x="345.3" y="536" font-size="8.2" text-anchor="end" font-weight="normal" fill="#70c3c9">NF1</text>
<line x1="347.2" y1="533.1" x2="350.2" y2="533.1" stroke="#000" stroke-width="1.4" stroke-linecap="butt"/>
<text x="364.8" y="536" font-size="8.2" text-anchor="middle" font-weight="normal" fill="#70c3c9">44</text>
<text x="400.8" y="536" font-size="8.2" text-anchor="middle" font-weight="normal" fill="#70c3c9">18</text>
<text x="436.8" y="536" font-size="8.2" text-anchor="middle" font-weight="normal" fill="#70c3c9">15</text>
<text x="472.8" y="536" font-size="8.2" text-anchor="middle" font-weight="normal" fill="#70c3c9">10</text>
<text x="508.8" y="536" font-size="8.2" text-anchor="middle" font-weight="normal" fill="#70c3c9">8</text>
<text x="544.8" y="536" font-size="8.2" text-anchor="middle" font-weight="normal" fill="#70c3c9">6</text>
<text x="580.8" y="536" font-size="8.2" text-anchor="middle" font-weight="normal" fill="#70c3c9">3</text>
<text x="616.8" y="536" font-size="8.2" text-anchor="middle" font-weight="normal" fill="#70c3c9">1</text>
<text x="652.8" y="536" font-size="8.2" text-anchor="middle" font-weight="normal" fill="#70c3c9">1</text>
<text x="345.3" y="541.9" font-size="8.2" text-anchor="end" font-weight="normal" fill="#7f7f7f">TWT</text>
<line x1="347.2" y1="539" x2="350.2" y2="539" stroke="#000" stroke-width="1.4" stroke-linecap="butt"/>
<text x="364.8" y="541.9" font-size="8.2" text-anchor="middle" font-weight="normal" fill="#7f7f7f">28</text>
<text x="400.8" y="541.9" font-size="8.2" text-anchor="middle" font-weight="normal" fill="#7f7f7f">11</text>
<text x="436.8" y="541.9" font-size="8.2" text-anchor="middle" font-weight="normal" fill="#7f7f7f">6</text>
<text x="472.8" y="541.9" font-size="8.2" text-anchor="middle" font-weight="normal" fill="#7f7f7f">5</text>
<text x="508.8" y="541.9" font-size="8.2" text-anchor="middle" font-weight="normal" fill="#7f7f7f">5</text>
<text x="544.8" y="541.9" font-size="8.2" text-anchor="middle" font-weight="normal" fill="#7f7f7f">1</text>
<text x="580.8" y="541.9" font-size="8.2" text-anchor="middle" font-weight="normal" fill="#7f7f7f">0</text>
<text x="616.8" y="541.9" font-size="8.2" text-anchor="middle" font-weight="normal" fill="#7f7f7f">0</text>
<text x="652.8" y="541.9" font-size="8.2" text-anchor="middle" font-weight="normal" fill="#7f7f7f">0</text>
<line x1="364.8" y1="543.2" x2="364.8" y2="546.2" stroke="#000" stroke-width="1.4" stroke-linecap="butt"/>
<text x="364.8" y="554.3" font-size="8.2" text-anchor="middle" font-weight="normal" fill="#575757">0</text>
<line x1="400.8" y1="543.2" x2="400.8" y2="546.2" stroke="#000" stroke-width="1.4" stroke-linecap="butt"/>
<text x="400.8" y="554.3" font-size="8.2" text-anchor="middle" font-weight="normal" fill="#575757">12</text>
<line x1="436.8" y1="543.2" x2="436.8" y2="546.2" stroke="#000" stroke-width="1.4" stroke-linecap="butt"/>
<text x="436.8" y="554.3" font-size="8.2" text-anchor="middle" font-weight="normal" fill="#575757">24</text>
<line x1="472.8" y1="543.2" x2="472.8" y2="546.2" stroke="#000" stroke-width="1.4" stroke-linecap="butt"/>
<text x="472.8" y="554.3" font-size="8.2" text-anchor="middle" font-weight="normal" fill="#575757">36</text>
<line x1="508.8" y1="543.2" x2="508.8" y2="546.2" stroke="#000" stroke-width="1.4" stroke-linecap="butt"/>
<text x="508.8" y="554.3" font-size="8.2" text-anchor="middle" font-weight="normal" fill="#575757">48</text>
<line x1="544.8" y1="543.2" x2="544.8" y2="546.2" stroke="#000" stroke-width="1.4" stroke-linecap="butt"/>
<text x="544.8" y="554.3" font-size="8.2" text-anchor="middle" font-weight="normal" fill="#575757">60</text>
<line x1="580.8" y1="543.2" x2="580.8" y2="546.2" stroke="#000" stroke-width="1.4" stroke-linecap="butt"/>
<text x="580.8" y="554.3" font-size="8.2" text-anchor="middle" font-weight="normal" fill="#575757">72</text>
<line x1="616.8" y1="543.2" x2="616.8" y2="546.2" stroke="#000" stroke-width="1.4" stroke-linecap="butt"/>
<text x="616.8" y="554.3" font-size="8.2" text-anchor="middle" font-weight="normal" fill="#575757">84</text>
<line x1="652.8" y1="543.2" x2="652.8" y2="546.2" stroke="#000" stroke-width="1.4" stroke-linecap="butt"/>
<text x="652.8" y="554.3" font-size="8.2" text-anchor="middle" font-weight="normal" fill="#575757">96</text>
<text x="319" y="530.4" font-size="10.2" text-anchor="middle" font-weight="normal" fill="#000" transform="rotate(-90 319 530.4)">Strata</text>
<text x="513.8" y="566.6" font-size="10" text-anchor="middle" font-weight="normal" fill="#000">Months</text>
<text x="0.3" y="589.8" font-size="17.5" text-anchor="start" font-weight="normal" fill="#000">e</text>
<rect x="32.4" y="604.8" width="242.3" height="211.2" fill="#fff" stroke="none" stroke-width="1"/>
<line x1="32.4" y1="607.91" x2="274.7" y2="607.91" stroke="#e9e9e9" stroke-width="0.9" stroke-linecap="butt"/>
<line x1="32.4" y1="796.81" x2="274.7" y2="796.81" stroke="#e9e9e9" stroke-width="0.9" stroke-linecap="butt"/>
<line x1="32.4" y1="770.98" x2="274.7" y2="770.98" stroke="#e9e9e9" stroke-width="0.9" stroke-linecap="butt"/>
<line x1="32.4" y1="746.41" x2="274.7" y2="746.41" stroke="#e9e9e9" stroke-width="0.9" stroke-linecap="butt"/>
<line x1="32.4" y1="728.35" x2="274.7" y2="728.35" stroke="#e9e9e9" stroke-width="0.9" stroke-linecap="butt"/>
<line x1="32.4" y1="713.42" x2="274.7" y2="713.42" stroke="#e9e9e9" stroke-width="0.9" stroke-linecap="butt"/>
<line x1="32.4" y1="700.63" x2="274.7" y2="700.63" stroke="#e9e9e9" stroke-width="0.9" stroke-linecap="butt"/>
<line x1="32.4" y1="683.6" x2="274.7" y2="683.6" stroke="#e9e9e9" stroke-width="0.9" stroke-linecap="butt"/>
<line x1="32.4" y1="667.96" x2="274.7" y2="667.96" stroke="#e9e9e9" stroke-width="0.9" stroke-linecap="butt"/>
<line x1="32.4" y1="658.04" x2="274.7" y2="658.04" stroke="#e9e9e9" stroke-width="0.9" stroke-linecap="butt"/>
<line x1="32.4" y1="648.09" x2="274.7" y2="648.09" stroke="#e9e9e9" stroke-width="0.9" stroke-linecap="butt"/>
<line x1="32.4" y1="638.14" x2="274.7" y2="638.14" stroke="#e9e9e9" stroke-width="0.9" stroke-linecap="butt"/>
<line x1="32.4" y1="630.79" x2="274.7" y2="630.79" stroke="#e9e9e9" stroke-width="0.9" stroke-linecap="butt"/>
<line x1="32.4" y1="622.74" x2="274.7" y2="622.74" stroke="#e9e9e9" stroke-width="0.9" stroke-linecap="butt"/>
<line x1="32.4" y1="806.8" x2="274.7" y2="806.8" stroke="#e9e9e9" stroke-width="1.25" stroke-linecap="butt"/>
<line x1="32.4" y1="786.82" x2="274.7" y2="786.82" stroke="#e9e9e9" stroke-width="1.25" stroke-linecap="butt"/>
<line x1="32.4" y1="755.15" x2="274.7" y2="755.15" stroke="#e9e9e9" stroke-width="1.25" stroke-linecap="butt"/>
<line x1="32.4" y1="737.67" x2="274.7" y2="737.67" stroke="#e9e9e9" stroke-width="1.25" stroke-linecap="butt"/>
<line x1="32.4" y1="719.03" x2="274.7" y2="719.03" stroke="#e9e9e9" stroke-width="1.25" stroke-linecap="butt"/>
<line x1="32.4" y1="707.8" x2="274.7" y2="707.8" stroke="#e9e9e9" stroke-width="1.25" stroke-linecap="butt"/>
<line x1="32.4" y1="693.45" x2="274.7" y2="693.45" stroke="#e9e9e9" stroke-width="1.25" stroke-linecap="butt"/>
<line x1="32.4" y1="673.75" x2="274.7" y2="673.75" stroke="#e9e9e9" stroke-width="1.25" stroke-linecap="butt"/>
<line x1="32.4" y1="662.16" x2="274.7" y2="662.16" stroke="#e9e9e9" stroke-width="1.25" stroke-linecap="butt"/>
<line x1="32.4" y1="653.91" x2="274.7" y2="653.91" stroke="#e9e9e9" stroke-width="1.25" stroke-linecap="butt"/>
<line x1="32.4" y1="642.27" x2="274.7" y2="642.27" stroke="#e9e9e9" stroke-width="1.25" stroke-linecap="butt"/>
<line x1="32.4" y1="634" x2="274.7" y2="634" stroke="#e9e9e9" stroke-width="1.25" stroke-linecap="butt"/>
<line x1="32.4" y1="627.58" x2="274.7" y2="627.58" stroke="#e9e9e9" stroke-width="1.25" stroke-linecap="butt"/>
<line x1="32.4" y1="617.9" x2="274.7" y2="617.9" stroke="#e9e9e9" stroke-width="1.25" stroke-linecap="butt"/>
<line x1="49.4" y1="604.8" x2="49.4" y2="816" stroke="#e9e9e9" stroke-width="1.25" stroke-linecap="butt"/>
<line x1="79.3" y1="604.8" x2="79.3" y2="816" stroke="#e9e9e9" stroke-width="1.25" stroke-linecap="butt"/>
<line x1="108.7" y1="604.8" x2="108.7" y2="816" stroke="#e9e9e9" stroke-width="1.25" stroke-linecap="butt"/>
<line x1="138.4" y1="604.8" x2="138.4" y2="816" stroke="#e9e9e9" stroke-width="1.25" stroke-linecap="butt"/>
<line x1="168.3" y1="604.8" x2="168.3" y2="816" stroke="#e9e9e9" stroke-width="1.25" stroke-linecap="butt"/>
<line x1="197.7" y1="604.8" x2="197.7" y2="816" stroke="#e9e9e9" stroke-width="1.25" stroke-linecap="butt"/>
<line x1="227.6" y1="604.8" x2="227.6" y2="816" stroke="#e9e9e9" stroke-width="1.25" stroke-linecap="butt"/>
<line x1="257.3" y1="604.8" x2="257.3" y2="816" stroke="#e9e9e9" stroke-width="1.25" stroke-linecap="butt"/>
<text x="139" y="600.7" font-size="11.8" text-anchor="middle" font-weight="normal" fill="#000">TMB values</text>
<path d="M48.6,653.6 L50.2,653.6 C50.2,657.28 50.12,670.32 50.2,675.7 C50.28,681.08 50.33,682.5 50.7,685.9 C51.07,689.3 51.77,692.68 52.4,696.1 C53.03,699.52 53.8,702.98 54.5,706.4 C55.2,709.82 55.82,713.2 56.6,716.6 C57.38,720 58.43,723.4 59.2,726.8 C59.97,730.2 61.13,733.58 61.2,737 C61.27,740.42 60.27,743.88 59.6,747.3 C58.93,750.72 57.95,754.1 57.2,757.5 C56.45,760.9 55.78,764.28 55.1,767.7 C54.42,771.12 53.75,774.58 53.1,778 C52.45,781.42 51.67,785.13 51.2,788.2 C50.73,791.27 50.5,793.33 50.3,796.4 C50.1,799.47 50.05,804.9 50,806.6 L48.8,806.6 C48.75,804.9 48.7,799.47 48.5,796.4 C48.3,793.33 48.07,791.27 47.6,788.2 C47.13,785.13 46.35,781.42 45.7,778 C45.05,774.58 44.38,771.12 43.7,767.7 C43.02,764.28 42.35,760.9 41.6,757.5 C40.85,754.1 39.87,750.72 39.2,747.3 C38.53,743.88 37.53,740.42 37.6,737 C37.67,733.58 38.83,730.2 39.6,726.8 C40.37,723.4 41.42,720 42.2,716.6 C42.98,713.2 43.6,709.82 44.3,706.4 C45,702.98 45.77,699.52 46.4,696.1 C47.03,692.68 47.73,689.3 48.1,685.9 C48.47,682.5 48.52,681.08 48.6,675.7 C48.68,670.32 48.6,657.28 48.6,653.6 Z" fill="#f4a28e" stroke="#333333" stroke-width="1.5" stroke-linejoin="round"/>
<path d="M72.1,692.5 L86.5,692.5 C86.37,693.45 86.13,695.88 85.7,698.2 C85.27,700.52 83.82,703.68 83.9,706.4 C83.98,709.12 84.92,711.78 86.2,714.5 C87.48,717.22 90.17,719.97 91.6,722.7 C93.03,725.43 94.1,728.52 94.8,730.9 C95.5,733.28 95.92,734.95 95.8,737 C95.68,739.05 95.23,740.8 94.1,743.2 C92.97,745.6 90.67,748.85 89,751.4 C87.33,753.95 84.92,757.32 84.1,758.5 L74.5,758.5 C73.68,757.32 71.27,753.95 69.6,751.4 C67.93,748.85 65.63,745.6 64.5,743.2 C63.37,740.8 62.92,739.05 62.8,737 C62.68,734.95 63.1,733.28 63.8,730.9 C64.5,728.52 65.57,725.43 67,722.7 C68.43,719.97 71.12,717.22 72.4,714.5 C73.68,711.78 74.62,709.12 74.7,706.4 C74.78,703.68 73.33,700.52 72.9,698.2 C72.47,695.88 72.23,693.45 72.1,692.5 Z" fill="#e7937b" stroke="#333333" stroke-width="1.5" stroke-linejoin="round"/>
<path d="M101.5,684.9 L115.9,684.9 C116.07,686.77 116.57,691.83 116.9,696.1 C117.23,700.37 117.63,705.38 117.9,710.5 C118.17,715.62 118.4,722.72 118.5,726.8 C118.6,730.88 118.7,732.62 118.5,735 C118.3,737.38 117.5,740.08 117.3,741.1 L100.1,741.1 C99.9,740.08 99.1,737.38 98.9,735 C98.7,732.62 98.8,730.88 98.9,726.8 C99,722.72 99.23,715.62 99.5,710.5 C99.77,705.38 100.17,700.37 100.5,696.1 C100.83,691.83 101.33,686.77 101.5,684.9 Z" fill="#bc7865" stroke="#333333" stroke-width="1.5" stroke-linejoin="round"/>
<path d="M137.1,660 L139.7,660 C139.7,661.75 139.72,667.07 139.7,670.5 C139.68,673.93 139.27,676.82 139.6,680.6 C139.93,684.38 140.75,689 141.7,693.2 C142.65,697.4 144.18,701.6 145.3,705.8 C146.42,710 147.6,714.2 148.4,718.4 C149.2,722.6 149.82,727.63 150.1,731 C150.38,734.37 150.53,735.23 150.1,738.6 C149.67,741.97 148.53,747 147.5,751.2 C146.47,755.4 144.95,759.6 143.9,763.8 C142.85,768 141.87,772.62 141.2,776.4 C140.53,780.18 140.12,781.45 139.9,786.5 C139.68,791.55 139.9,803.33 139.9,806.7 L136.9,806.7 C136.9,803.33 137.12,791.55 136.9,786.5 C136.68,781.45 136.27,780.18 135.6,776.4 C134.93,772.62 133.95,768 132.9,763.8 C131.85,759.6 130.33,755.4 129.3,751.2 C128.27,747 127.13,741.97 126.7,738.6 C126.27,735.23 126.42,734.37 126.7,731 C126.98,727.63 127.6,722.6 128.4,718.4 C129.2,714.2 130.38,710 131.5,705.8 C132.62,701.6 134.15,697.4 135.1,693.2 C136.05,689 136.87,684.38 137.2,680.6 C137.53,676.82 137.12,673.93 137.1,670.5 C137.08,667.07 137.1,661.75 137.1,660 Z" fill="#fde08f" stroke="#333333" stroke-width="1.5" stroke-linejoin="round"/>
<path d="M152.7,687.7 L183.9,687.7 C183.82,688.42 183.9,690.23 183.4,692 C182.9,693.77 182.02,696 180.9,698.3 C179.78,700.6 177.85,703.28 176.7,705.8 C175.55,708.32 174.67,710.87 174,713.4 C173.33,715.93 173.03,717.22 172.7,721 C172.37,724.78 172,731.9 172,736.1 C172,740.3 172.52,742.63 172.7,746.2 C172.88,749.77 173.03,755.62 173.1,757.5 L163.5,757.5 C163.57,755.62 163.72,749.77 163.9,746.2 C164.08,742.63 164.6,740.3 164.6,736.1 C164.6,731.9 164.23,724.78 163.9,721 C163.57,717.22 163.27,715.93 162.6,713.4 C161.93,710.87 161.05,708.32 159.9,705.8 C158.75,703.28 156.82,700.6 155.7,698.3 C154.58,696 153.7,693.77 153.2,692 C152.7,690.23 152.78,688.42 152.7,687.7 Z" fill="#dbc47c" stroke="#333333" stroke-width="1.5" stroke-linejoin="round"/>
<path d="M194.3,664.2 L201.1,664.2 C201.48,665.68 202.38,669.95 203.4,673.1 C204.42,676.25 206.23,679.95 207.2,683.1 C208.17,686.25 209,689.05 209.2,692 C209.4,694.95 209.17,697.23 208.4,700.8 C207.63,704.37 205.55,709.2 204.6,713.4 C203.65,717.6 203.07,721.8 202.7,726 C202.33,730.2 202.45,734.48 202.4,738.6 C202.35,742.72 202.4,748.68 202.4,750.7 L193,750.7 C193,748.68 193.05,742.72 193,738.6 C192.95,734.48 193.07,730.2 192.7,726 C192.33,721.8 191.75,717.6 190.8,713.4 C189.85,709.2 187.77,704.37 187,700.8 C186.23,697.23 186,694.95 186.2,692 C186.4,689.05 187.23,686.25 188.2,683.1 C189.17,679.95 190.98,676.25 192,673.1 C193.02,669.95 193.92,665.68 194.3,664.2 Z" fill="#b4dde3" stroke="#333333" stroke-width="1.5" stroke-linejoin="round"/>
<path d="M226.8,617.6 L228.4,617.6 C228.45,619.15 228.55,623.95 228.7,626.9 C228.85,629.85 229,632.5 229.3,635.3 C229.6,638.1 230.02,640.62 230.5,643.7 C230.98,646.78 231.5,650.15 232.2,653.8 C232.9,657.45 233.87,661.67 234.7,665.6 C235.53,669.53 236.57,673.47 237.2,677.4 C237.83,681.33 238.2,684.98 238.5,689.2 C238.8,693.42 239.05,698.48 239,702.7 C238.95,706.92 238.77,710.85 238.2,714.5 C237.63,718.15 236.58,721.52 235.6,724.6 C234.62,727.68 233.28,730.47 232.3,733 C231.32,735.53 230.27,737.97 229.7,739.8 C229.13,741.63 229.03,743.3 228.9,744 L226.3,744 C226.17,743.3 226.07,741.63 225.5,739.8 C224.93,737.97 223.88,735.53 222.9,733 C221.92,730.47 220.58,727.68 219.6,724.6 C218.62,721.52 217.57,718.15 217,714.5 C216.43,710.85 216.25,706.92 216.2,702.7 C216.15,698.48 216.4,693.42 216.7,689.2 C217,684.98 217.37,681.33 218,677.4 C218.63,673.47 219.67,669.53 220.5,665.6 C221.33,661.67 222.3,657.45 223,653.8 C223.7,650.15 224.22,646.78 224.7,643.7 C225.18,640.62 225.6,638.1 225.9,635.3 C226.2,632.5 226.35,629.85 226.5,626.9 C226.65,623.95 226.75,619.15 226.8,617.6 Z" fill="#94b1b6" stroke="#333333" stroke-width="1.5" stroke-linejoin="round"/>
<path d="M255.8,680.4 L258.8,680.4 C258.98,683.67 259.43,693.4 259.9,700 C260.37,706.6 261.12,713.33 261.6,720 C262.08,726.67 262.4,733.33 262.8,740 C263.2,746.67 263.57,753.33 264,760 C264.43,766.67 265.37,774.17 265.4,780 C265.43,785.83 264.5,790.58 264.2,795 C263.9,799.42 263.7,804.58 263.6,806.5 L251,806.5 C250.9,804.58 250.7,799.42 250.4,795 C250.1,790.58 249.17,785.83 249.2,780 C249.23,774.17 250.17,766.67 250.6,760 C251.03,753.33 251.4,746.67 251.8,740 C252.2,733.33 252.52,726.67 253,720 C253.48,713.33 254.23,706.6 254.7,700 C255.17,693.4 255.62,683.67 255.8,680.4 Z" fill="#b1b1b1" stroke="#333333" stroke-width="1.5" stroke-linejoin="round"/>
<line x1="49.4" y1="697.2" x2="49.4" y2="725.2" stroke="#333333" stroke-width="1.5" stroke-linecap="butt"/>
<line x1="49.4" y1="758.5" x2="49.4" y2="788.2" stroke="#333333" stroke-width="1.5" stroke-linecap="butt"/>
<rect x="42.8" y="725.2" width="12.7" height="33.3" fill="rgba(235,70,55,0.33)" stroke="#333333" stroke-width="1.5"/>
<line x1="42.8" y1="740.5" x2="55.5" y2="740.5" stroke="#333333" stroke-width="2.4" stroke-linecap="butt"/>
<line x1="79.3" y1="693.1" x2="79.3" y2="718.2" stroke="#333333" stroke-width="1.5" stroke-linecap="butt"/>
<line x1="79.3" y1="740.1" x2="79.3" y2="758.5" stroke="#333333" stroke-width="1.5" stroke-linecap="butt"/>
<rect x="73.3" y="718.2" width="11.9" height="21.9" fill="rgba(220,90,60,0.3)" stroke="#333333" stroke-width="1.5"/>
<line x1="73.3" y1="729.9" x2="85.2" y2="729.9" stroke="#333333" stroke-width="2.4" stroke-linecap="butt"/>
<line x1="108.7" y1="684.9" x2="108.7" y2="702.9" stroke="#333333" stroke-width="1.5" stroke-linecap="butt"/>
<line x1="108.7" y1="732.5" x2="108.7" y2="741.1" stroke="#333333" stroke-width="1.5" stroke-linecap="butt"/>
<rect x="102.5" y="702.9" width="12.3" height="29.6" fill="rgba(140,50,30,0.25)" stroke="#333333" stroke-width="1.5"/>
<line x1="102.5" y1="718.2" x2="114.8" y2="718.2" stroke="#333333" stroke-width="2.4" stroke-linecap="butt"/>
<line x1="138.4" y1="662" x2="138.4" y2="717.7" stroke="#333333" stroke-width="1.5" stroke-linecap="butt"/>
<line x1="138.4" y1="744.9" x2="138.4" y2="786" stroke="#333333" stroke-width="1.5" stroke-linecap="butt"/>
<rect x="132.1" y="717.7" width="12.4" height="27.2" fill="rgba(248,205,20,0.35)" stroke="#333333" stroke-width="1.5"/>
<line x1="132.1" y1="733" x2="144.5" y2="733" stroke="#333333" stroke-width="2.4" stroke-linecap="butt"/>
<line x1="168.3" y1="687.7" x2="168.3" y2="691.5" stroke="#333333" stroke-width="1.5" stroke-linecap="butt"/>
<line x1="168.3" y1="718.9" x2="168.3" y2="757.5" stroke="#333333" stroke-width="1.5" stroke-linecap="butt"/>
<rect x="162.1" y="691.5" width="12.1" height="27.4" fill="rgba(200,160,40,0.3)" stroke="#333333" stroke-width="1.5"/>
<line x1="162.1" y1="698.3" x2="174.2" y2="698.3" stroke="#333333" stroke-width="2.4" stroke-linecap="butt"/>
<line x1="197.7" y1="664.2" x2="197.7" y2="688.2" stroke="#333333" stroke-width="1.5" stroke-linecap="butt"/>
<line x1="197.7" y1="718.4" x2="197.7" y2="750.7" stroke="#333333" stroke-width="1.5" stroke-linecap="butt"/>
<rect x="191.6" y="688.2" width="11.6" height="30.2" fill="rgba(95,185,200,0.3)" stroke="#333333" stroke-width="1.5"/>
<line x1="191.6" y1="694.5" x2="203.2" y2="694.5" stroke="#333333" stroke-width="2.4" stroke-linecap="butt"/>
<line x1="227.6" y1="658" x2="227.6" y2="683.8" stroke="#333333" stroke-width="1.5" stroke-linecap="butt"/>
<line x1="227.6" y1="710.3" x2="227.6" y2="744" stroke="#333333" stroke-width="1.5" stroke-linecap="butt"/>
<rect x="221.4" y="683.8" width="12.4" height="26.5" fill="rgba(60,110,120,0.28)" stroke="#333333" stroke-width="1.5"/>
<line x1="221.4" y1="698.5" x2="233.8" y2="698.5" stroke="#333333" stroke-width="2.4" stroke-linecap="butt"/>
<line x1="257.3" y1="680.4" x2="257.3" y2="725.3" stroke="#333333" stroke-width="1.5" stroke-linecap="butt"/>
<line x1="257.3" y1="787.6" x2="257.3" y2="806.5" stroke="#333333" stroke-width="1.5" stroke-linecap="butt"/>
<rect x="250.7" y="725.3" width="13.1" height="62.3" fill="rgba(110,110,110,0.3)" stroke="#333333" stroke-width="1.5"/>
<line x1="250.7" y1="768.7" x2="263.8" y2="768.7" stroke="#333333" stroke-width="2.4" stroke-linecap="butt"/>
<g fill="#ea3a30" fill-opacity="0.95"><circle cx="44.23" cy="748.54" r="1.2"/><circle cx="46.73" cy="760.98" r="1.2"/><circle cx="54.78" cy="733.14" r="1.2"/><circle cx="53.16" cy="697.89" r="1.2"/><circle cx="44.16" cy="748.12" r="1.2"/><circle cx="49.34" cy="787.22" r="1.2"/><circle cx="47.36" cy="698.73" r="1.2"/><circle cx="49.66" cy="771.44" r="1.2"/><circle cx="54.33" cy="745.72" r="1.2"/><circle cx="54.21" cy="746.47" r="1.2"/><circle cx="51.55" cy="717.55" r="1.2"/><circle cx="46.25" cy="735.63" r="1.2"/><circle cx="52.04" cy="730.17" r="1.2"/><circle cx="48.08" cy="757.34" r="1.2"/><circle cx="52.67" cy="757.92" r="1.2"/><circle cx="51.83" cy="730.53" r="1.2"/><circle cx="45.21" cy="724.84" r="1.2"/><circle cx="49.98" cy="726.34" r="1.2"/><circle cx="52.56" cy="717.57" r="1.2"/><circle cx="48.77" cy="759" r="1.2"/><circle cx="46.81" cy="743.92" r="1.2"/><circle cx="53.44" cy="779.39" r="1.2"/><circle cx="53.97" cy="732.32" r="1.2"/><circle cx="50.25" cy="780.87" r="1.2"/><circle cx="48.58" cy="741.72" r="1.2"/><circle cx="45.01" cy="741.98" r="1.2"/><circle cx="50.22" cy="743.11" r="1.2"/><circle cx="49.22" cy="709.26" r="1.2"/><circle cx="52.03" cy="701.48" r="1.2"/><circle cx="45.65" cy="701.57" r="1.2"/><circle cx="51.45" cy="746.22" r="1.2"/><circle cx="52.43" cy="751.5" r="1.2"/><circle cx="45.55" cy="723.02" r="1.2"/><circle cx="48.77" cy="754.91" r="1.2"/><circle cx="51.04" cy="755" r="1.2"/><circle cx="48.47" cy="705.57" r="1.2"/><circle cx="52.9" cy="735.01" r="1.2"/><circle cx="44.98" cy="703.06" r="1.2"/><circle cx="53.8" cy="698.22" r="1.2"/><circle cx="50.37" cy="739.18" r="1.2"/><circle cx="52.45" cy="772.69" r="1.2"/><circle cx="47.43" cy="728.07" r="1.2"/><circle cx="51.91" cy="739.06" r="1.2"/><circle cx="50.8" cy="690.55" r="1.2"/><circle cx="51.51" cy="720.77" r="1.2"/><circle cx="48.18" cy="728.47" r="1.2"/><circle cx="45.14" cy="736.82" r="1.2"/><circle cx="51.16" cy="709.47" r="1.2"/><circle cx="50.13" cy="736.13" r="1.2"/><circle cx="48" cy="756.73" r="1.2"/><circle cx="48.22" cy="740.73" r="1.2"/><circle cx="46.69" cy="730.59" r="1.2"/><circle cx="44.67" cy="756.34" r="1.2"/><circle cx="49.75" cy="791.83" r="1.2"/><circle cx="44.25" cy="772.12" r="1.2"/><circle cx="46.35" cy="746.63" r="1.2"/><circle cx="52.57" cy="727.66" r="1.2"/><circle cx="46.08" cy="730.14" r="1.2"/><circle cx="53.45" cy="726.16" r="1.2"/><circle cx="44.68" cy="751.68" r="1.2"/></g>
<g fill="#e0352b" fill-opacity="0.95"><circle cx="78.12" cy="696.18" r="1.2"/><circle cx="75.04" cy="733.11" r="1.2"/><circle cx="79.69" cy="731.92" r="1.2"/><circle cx="84.76" cy="720.13" r="1.2"/><circle cx="84.14" cy="700.62" r="1.2"/><circle cx="77.43" cy="717.66" r="1.2"/><circle cx="80.23" cy="707.07" r="1.2"/><circle cx="76.04" cy="741.63" r="1.2"/><circle cx="76.2" cy="743.26" r="1.2"/><circle cx="75.93" cy="739.31" r="1.2"/></g>
<g fill="#b8302a" fill-opacity="0.95"><circle cx="106.53" cy="691.4" r="1.2"/><circle cx="111.12" cy="728.59" r="1.2"/><circle cx="112.47" cy="692.43" r="1.2"/><circle cx="103.21" cy="727.76" r="1.2"/></g>
<g fill="#f6cc0c" fill-opacity="0.95"><circle cx="141.89" cy="751.99" r="1.2"/><circle cx="142.7" cy="720.14" r="1.2"/><circle cx="143.28" cy="747.42" r="1.2"/><circle cx="136.3" cy="759.09" r="1.2"/><circle cx="139.58" cy="743.93" r="1.2"/><circle cx="134.19" cy="750.39" r="1.2"/><circle cx="142.76" cy="720.92" r="1.2"/><circle cx="136.44" cy="771.51" r="1.2"/><circle cx="132.97" cy="716.38" r="1.2"/><circle cx="137.24" cy="747.03" r="1.2"/><circle cx="133.26" cy="710.16" r="1.2"/><circle cx="134.54" cy="750.83" r="1.2"/><circle cx="133.53" cy="703.01" r="1.2"/><circle cx="135.02" cy="719.94" r="1.2"/><circle cx="138.11" cy="761.06" r="1.2"/><circle cx="141.54" cy="728.92" r="1.2"/><circle cx="138.19" cy="723.48" r="1.2"/><circle cx="134.12" cy="731.22" r="1.2"/><circle cx="138.86" cy="784.87" r="1.2"/><circle cx="142.68" cy="738.22" r="1.2"/><circle cx="138.34" cy="766.32" r="1.2"/><circle cx="133.86" cy="756.55" r="1.2"/><circle cx="138.48" cy="740.29" r="1.2"/><circle cx="140.73" cy="701.47" r="1.2"/><circle cx="139.76" cy="757.61" r="1.2"/><circle cx="142.25" cy="753.77" r="1.2"/><circle cx="135.87" cy="714.77" r="1.2"/><circle cx="135.08" cy="753.41" r="1.2"/><circle cx="141.85" cy="734.94" r="1.2"/><circle cx="133.13" cy="705.01" r="1.2"/><circle cx="136.93" cy="714.79" r="1.2"/><circle cx="142.39" cy="691.78" r="1.2"/><circle cx="134.31" cy="757.25" r="1.2"/><circle cx="138.35" cy="726.14" r="1.2"/><circle cx="133.8" cy="738.9" r="1.2"/><circle cx="134" cy="712.08" r="1.2"/><circle cx="141.7" cy="735.06" r="1.2"/><circle cx="139.93" cy="749.22" r="1.2"/><circle cx="133.77" cy="715.53" r="1.2"/><circle cx="135.68" cy="726.65" r="1.2"/><circle cx="132.99" cy="723.31" r="1.2"/><circle cx="136" cy="738.81" r="1.2"/><circle cx="133.37" cy="768.79" r="1.2"/><circle cx="143.58" cy="727.59" r="1.2"/><circle cx="133.36" cy="726.02" r="1.2"/></g>
<g fill="#d6b12a" fill-opacity="0.95"><circle cx="168.43" cy="708.7" r="1.2"/><circle cx="169.52" cy="699.8" r="1.2"/><circle cx="165.61" cy="695.78" r="1.2"/><circle cx="165.07" cy="707.87" r="1.2"/><circle cx="171.77" cy="715.63" r="1.2"/><circle cx="172.78" cy="697.58" r="1.2"/></g>
<g fill="#5dbdc9" fill-opacity="0.95"><circle cx="200.09" cy="687.9" r="1.2"/><circle cx="192.32" cy="694.7" r="1.2"/><circle cx="192.48" cy="721.69" r="1.2"/><circle cx="194.78" cy="718.17" r="1.2"/><circle cx="194.01" cy="691.74" r="1.2"/><circle cx="193.05" cy="673.47" r="1.2"/><circle cx="196.48" cy="704.59" r="1.2"/><circle cx="202.83" cy="687.18" r="1.2"/><circle cx="201.98" cy="705.21" r="1.2"/><circle cx="196.35" cy="708.6" r="1.2"/><circle cx="198.61" cy="718.6" r="1.2"/><circle cx="201.15" cy="683.75" r="1.2"/></g>
<g fill="#4aa3ad" fill-opacity="0.95"><circle cx="222.1" cy="711.76" r="1.2"/><circle cx="230.13" cy="692.95" r="1.2"/><circle cx="228.07" cy="670.5" r="1.2"/><circle cx="232.9" cy="687.09" r="1.2"/><circle cx="223.46" cy="723.22" r="1.2"/><circle cx="227.87" cy="678" r="1.2"/><circle cx="224.39" cy="668.8" r="1.2"/><circle cx="227.68" cy="691.14" r="1.2"/><circle cx="232.96" cy="695.58" r="1.2"/><circle cx="222.8" cy="644.05" r="1.2"/><circle cx="228.97" cy="728.99" r="1.2"/><circle cx="228.3" cy="660.77" r="1.2"/><circle cx="229.24" cy="704.62" r="1.2"/><circle cx="223.64" cy="661.61" r="1.2"/><circle cx="223.04" cy="712.02" r="1.2"/><circle cx="225.18" cy="725.08" r="1.2"/><circle cx="225.39" cy="685.2" r="1.2"/><circle cx="229.66" cy="678.03" r="1.2"/></g>
<g fill="#8a8a8a" fill-opacity="0.95"><circle cx="258.6" cy="761.9" r="1.2"/><circle cx="257.47" cy="780.3" r="1.2"/><circle cx="257.61" cy="756.03" r="1.2"/><circle cx="255.96" cy="752.54" r="1.2"/><circle cx="262.36" cy="768.13" r="1.2"/><circle cx="252.8" cy="795.19" r="1.2"/><circle cx="258.83" cy="778.57" r="1.2"/><circle cx="257.59" cy="749.36" r="1.2"/><circle cx="258.18" cy="788.17" r="1.2"/><circle cx="261.88" cy="763.91" r="1.2"/></g>
<g fill="#ea3a30" fill-opacity="0.95"><circle cx="45" cy="653.7" r="1.2"/><circle cx="47" cy="663.8" r="1.2"/><circle cx="45.6" cy="696.5" r="1.2"/><circle cx="44" cy="806.6" r="1.2"/><circle cx="52" cy="790" r="1.2"/></g>
<g fill="#f6cc0c" fill-opacity="0.95"><circle cx="142" cy="660.3" r="1.2"/><circle cx="133.5" cy="676" r="1.2"/><circle cx="134" cy="679.5" r="1.2"/><circle cx="143" cy="806.6" r="1.2"/><circle cx="142.5" cy="776" r="1.2"/></g>
<line x1="49.4" y1="617.8" x2="79.3" y2="617.8" stroke="#000" stroke-width="1.4" stroke-linecap="butt"/>
<text x="64.35" y="616.6" font-size="7.8" text-anchor="middle" font-weight="normal" fill="#000">NS</text>
<line x1="138.4" y1="617.8" x2="168.3" y2="617.8" stroke="#000" stroke-width="1.4" stroke-linecap="butt"/>
<text x="153.35" y="616.6" font-size="7.8" text-anchor="middle" font-weight="normal" fill="#000">NS</text>
<line x1="197.7" y1="617.8" x2="227.6" y2="617.8" stroke="#000" stroke-width="1.4" stroke-linecap="butt"/>
<text x="212.65" y="616.6" font-size="7.8" text-anchor="middle" font-weight="normal" fill="#000">NS</text>
<rect x="32.4" y="604.8" width="242.3" height="211.2" fill="none" stroke="#3a3a3a" stroke-width="1.05"/>
<line x1="29.6" y1="806.8" x2="32.4" y2="806.8" stroke="#333333" stroke-width="1.3" stroke-linecap="butt"/>
<text x="28.4" y="810.06" font-size="8.8" text-anchor="end" font-weight="normal" fill="#575757">0</text>
<line x1="29.6" y1="786.82" x2="32.4" y2="786.82" stroke="#333333" stroke-width="1.3" stroke-linecap="butt"/>
<text x="28.4" y="790.07" font-size="8.8" text-anchor="end" font-weight="normal" fill="#575757">1</text>
<line x1="29.6" y1="755.15" x2="32.4" y2="755.15" stroke="#333333" stroke-width="1.3" stroke-linecap="butt"/>
<text x="28.4" y="758.4" font-size="8.8" text-anchor="end" font-weight="normal" fill="#575757">5</text>
<line x1="29.6" y1="737.67" x2="32.4" y2="737.67" stroke="#333333" stroke-width="1.3" stroke-linecap="butt"/>
<text x="28.4" y="740.93" font-size="8.8" text-anchor="end" font-weight="normal" fill="#575757">10</text>
<line x1="29.6" y1="719.03" x2="32.4" y2="719.03" stroke="#333333" stroke-width="1.3" stroke-linecap="butt"/>
<text x="28.4" y="722.29" font-size="8.8" text-anchor="end" font-weight="normal" fill="#575757">20</text>
<line x1="29.6" y1="707.8" x2="32.4" y2="707.8" stroke="#333333" stroke-width="1.3" stroke-linecap="butt"/>
<text x="28.4" y="711.06" font-size="8.8" text-anchor="end" font-weight="normal" fill="#575757">30</text>
<line x1="29.6" y1="693.45" x2="32.4" y2="693.45" stroke="#333333" stroke-width="1.3" stroke-linecap="butt"/>
<text x="28.4" y="696.71" font-size="8.8" text-anchor="end" font-weight="normal" fill="#575757">50</text>
<line x1="29.6" y1="673.75" x2="32.4" y2="673.75" stroke="#333333" stroke-width="1.3" stroke-linecap="butt"/>
<text x="28.4" y="677.01" font-size="8.8" text-anchor="end" font-weight="normal" fill="#575757">100</text>
<line x1="29.6" y1="662.16" x2="32.4" y2="662.16" stroke="#333333" stroke-width="1.3" stroke-linecap="butt"/>
<text x="28.4" y="665.42" font-size="8.8" text-anchor="end" font-weight="normal" fill="#575757">150</text>
<line x1="29.6" y1="653.91" x2="32.4" y2="653.91" stroke="#333333" stroke-width="1.3" stroke-linecap="butt"/>
<text x="28.4" y="657.17" font-size="8.8" text-anchor="end" font-weight="normal" fill="#575757">200</text>
<line x1="29.6" y1="642.27" x2="32.4" y2="642.27" stroke="#333333" stroke-width="1.3" stroke-linecap="butt"/>
<text x="28.4" y="645.53" font-size="8.8" text-anchor="end" font-weight="normal" fill="#575757">300</text>
<line x1="29.6" y1="634" x2="32.4" y2="634" stroke="#333333" stroke-width="1.3" stroke-linecap="butt"/>
<text x="28.4" y="637.26" font-size="8.8" text-anchor="end" font-weight="normal" fill="#575757">400</text>
<line x1="29.6" y1="627.58" x2="32.4" y2="627.58" stroke="#333333" stroke-width="1.3" stroke-linecap="butt"/>
<text x="28.4" y="630.84" font-size="8.8" text-anchor="end" font-weight="normal" fill="#575757">500</text>
<line x1="29.6" y1="617.9" x2="32.4" y2="617.9" stroke="#333333" stroke-width="1.3" stroke-linecap="butt"/>
<text x="28.4" y="621.16" font-size="8.8" text-anchor="end" font-weight="normal" fill="#575757">700</text>
<line x1="49.4" y1="816" x2="49.4" y2="818.8" stroke="#333333" stroke-width="1.3" stroke-linecap="butt"/>
<line x1="79.3" y1="816" x2="79.3" y2="818.8" stroke="#333333" stroke-width="1.3" stroke-linecap="butt"/>
<line x1="108.7" y1="816" x2="108.7" y2="818.8" stroke="#333333" stroke-width="1.3" stroke-linecap="butt"/>
<line x1="138.4" y1="816" x2="138.4" y2="818.8" stroke="#333333" stroke-width="1.3" stroke-linecap="butt"/>
<line x1="168.3" y1="816" x2="168.3" y2="818.8" stroke="#333333" stroke-width="1.3" stroke-linecap="butt"/>
<line x1="197.7" y1="816" x2="197.7" y2="818.8" stroke="#333333" stroke-width="1.3" stroke-linecap="butt"/>
<line x1="227.6" y1="816" x2="227.6" y2="818.8" stroke="#333333" stroke-width="1.3" stroke-linecap="butt"/>
<line x1="257.3" y1="816" x2="257.3" y2="818.8" stroke="#333333" stroke-width="1.3" stroke-linecap="butt"/>
<text x="11" y="705.5" font-size="11.1" text-anchor="middle" font-weight="bold" fill="#000" transform="rotate(-90 11 705.5)">TMB (mut/Mb)</text>
<text x="279.2" y="673.8" font-size="10.7" text-anchor="start" font-weight="bold" fill="#000">Subtypes</text>
<rect x="278.2" y="678.5" width="10.6" height="9.71" fill="#333333" stroke="none" stroke-width="1"/>
<rect x="279.33" y="679.15" width="3.39" height="1.29" fill="#7b4643" stroke="none" stroke-width="1"/>
<rect x="284.28" y="679.15" width="3.39" height="1.29" fill="#7b4643" stroke="none" stroke-width="1"/>
<rect x="279.33" y="686.43" width="3.39" height="1.05" fill="#a2504c" stroke="none" stroke-width="1"/>
<rect x="284.28" y="686.43" width="3.39" height="1.05" fill="#a2504c" stroke="none" stroke-width="1"/>
<rect x="280.11" y="681.66" width="6.78" height="1.21" fill="#a2504c" stroke="none" stroke-width="1"/>
<rect x="280.11" y="684.16" width="6.78" height="1.21" fill="#a2504c" stroke="none" stroke-width="1"/>
<rect x="282.54" y="682.14" width="1.91" height="2.91" fill="#ea3a30" stroke="none" stroke-width="1"/>
<circle cx="283.5" cy="683.52" r="0.97" fill="#ea3a30"/>
<rect x="278.2" y="688.21" width="10.6" height="9.71" fill="#333333" stroke="none" stroke-width="1"/>
<rect x="279.33" y="688.86" width="3.39" height="1.29" fill="#764341" stroke="none" stroke-width="1"/>
<rect x="284.28" y="688.86" width="3.39" height="1.29" fill="#764341" stroke="none" stroke-width="1"/>
<rect x="279.33" y="696.14" width="3.39" height="1.05" fill="#9b4c49" stroke="none" stroke-width="1"/>
<rect x="284.28" y="696.14" width="3.39" height="1.05" fill="#9b4c49" stroke="none" stroke-width="1"/>
<rect x="280.11" y="691.37" width="6.78" height="1.21" fill="#9b4c49" stroke="none" stroke-width="1"/>
<rect x="280.11" y="693.87" width="6.78" height="1.21" fill="#9b4c49" stroke="none" stroke-width="1"/>
<rect x="282.54" y="691.85" width="1.91" height="2.91" fill="#d9302b" stroke="none" stroke-width="1"/>
<circle cx="283.5" cy="693.23" r="0.97" fill="#d9302b"/>
<rect x="278.2" y="697.92" width="10.6" height="9.71" fill="#333333" stroke="none" stroke-width="1"/>
<rect x="279.33" y="698.57" width="3.39" height="1.29" fill="#674140" stroke="none" stroke-width="1"/>
<rect x="284.28" y="698.57" width="3.39" height="1.29" fill="#674140" stroke="none" stroke-width="1"/>
<rect x="279.33" y="705.85" width="3.39" height="1.05" fill="#844947" stroke="none" stroke-width="1"/>
<rect x="284.28" y="705.85" width="3.39" height="1.05" fill="#844947" stroke="none" stroke-width="1"/>
<rect x="280.11" y="701.08" width="6.78" height="1.21" fill="#844947" stroke="none" stroke-width="1"/>
<rect x="280.11" y="703.58" width="6.78" height="1.21" fill="#844947" stroke="none" stroke-width="1"/>
<rect x="282.54" y="701.56" width="1.91" height="2.91" fill="#a82a25" stroke="none" stroke-width="1"/>
<circle cx="283.5" cy="702.94" r="0.97" fill="#a82a25"/>
<rect x="278.2" y="707.63" width="10.6" height="9.71" fill="#333333" stroke="none" stroke-width="1"/>
<rect x="279.33" y="708.28" width="3.39" height="1.29" fill="#7f7238" stroke="none" stroke-width="1"/>
<rect x="284.28" y="708.28" width="3.39" height="1.29" fill="#7f7238" stroke="none" stroke-width="1"/>
<rect x="279.33" y="715.56" width="3.39" height="1.05" fill="#a8953b" stroke="none" stroke-width="1"/>
<rect x="284.28" y="715.56" width="3.39" height="1.05" fill="#a8953b" stroke="none" stroke-width="1"/>
<rect x="280.11" y="710.79" width="6.78" height="1.21" fill="#a8953b" stroke="none" stroke-width="1"/>
<rect x="280.11" y="713.29" width="6.78" height="1.21" fill="#a8953b" stroke="none" stroke-width="1"/>
<rect x="282.54" y="711.27" width="1.91" height="2.91" fill="#f6cc0c" stroke="none" stroke-width="1"/>
<circle cx="283.5" cy="712.65" r="0.97" fill="#f6cc0c"/>
<rect x="278.2" y="717.34" width="10.6" height="9.71" fill="#333333" stroke="none" stroke-width="1"/>
<rect x="279.33" y="717.99" width="3.39" height="1.29" fill="#756a41" stroke="none" stroke-width="1"/>
<rect x="284.28" y="717.99" width="3.39" height="1.29" fill="#756a41" stroke="none" stroke-width="1"/>
<rect x="279.33" y="725.27" width="3.39" height="1.05" fill="#998849" stroke="none" stroke-width="1"/>
<rect x="284.28" y="725.27" width="3.39" height="1.05" fill="#998849" stroke="none" stroke-width="1"/>
<rect x="280.11" y="720.5" width="6.78" height="1.21" fill="#998849" stroke="none" stroke-width="1"/>
<rect x="280.11" y="723" width="6.78" height="1.21" fill="#998849" stroke="none" stroke-width="1"/>
<rect x="282.54" y="720.98" width="1.91" height="2.91" fill="#d6b12a" stroke="none" stroke-width="1"/>
<circle cx="283.5" cy="722.36" r="0.97" fill="#d6b12a"/>
<rect x="278.2" y="727.05" width="10.6" height="9.71" fill="#333333" stroke="none" stroke-width="1"/>
<rect x="279.33" y="727.7" width="3.39" height="1.29" fill="#516e71" stroke="none" stroke-width="1"/>
<rect x="284.28" y="727.7" width="3.39" height="1.29" fill="#516e71" stroke="none" stroke-width="1"/>
<rect x="279.33" y="734.98" width="3.39" height="1.05" fill="#618e93" stroke="none" stroke-width="1"/>
<rect x="284.28" y="734.98" width="3.39" height="1.05" fill="#618e93" stroke="none" stroke-width="1"/>
<rect x="280.11" y="730.21" width="6.78" height="1.21" fill="#618e93" stroke="none" stroke-width="1"/>
<rect x="280.11" y="732.71" width="6.78" height="1.21" fill="#618e93" stroke="none" stroke-width="1"/>
<rect x="282.54" y="730.69" width="1.91" height="2.91" fill="#5dbdc9" stroke="none" stroke-width="1"/>
<circle cx="283.5" cy="732.07" r="0.97" fill="#5dbdc9"/>
<rect x="278.2" y="736.76" width="10.6" height="9.71" fill="#333333" stroke="none" stroke-width="1"/>
<rect x="279.33" y="737.41" width="3.39" height="1.29" fill="#4b6669" stroke="none" stroke-width="1"/>
<rect x="284.28" y="737.41" width="3.39" height="1.29" fill="#4b6669" stroke="none" stroke-width="1"/>
<rect x="279.33" y="744.69" width="3.39" height="1.05" fill="#588186" stroke="none" stroke-width="1"/>
<rect x="284.28" y="744.69" width="3.39" height="1.05" fill="#588186" stroke="none" stroke-width="1"/>
<rect x="280.11" y="739.92" width="6.78" height="1.21" fill="#588186" stroke="none" stroke-width="1"/>
<rect x="280.11" y="742.42" width="6.78" height="1.21" fill="#588186" stroke="none" stroke-width="1"/>
<rect x="282.54" y="740.4" width="1.91" height="2.91" fill="#4aa3ad" stroke="none" stroke-width="1"/>
<circle cx="283.5" cy="741.78" r="0.97" fill="#4aa3ad"/>
<rect x="278.2" y="746.47" width="10.6" height="9.71" fill="#333333" stroke="none" stroke-width="1"/>
<rect x="279.33" y="747.12" width="3.39" height="1.29" fill="#5e5e5e" stroke="none" stroke-width="1"/>
<rect x="284.28" y="747.12" width="3.39" height="1.29" fill="#5e5e5e" stroke="none" stroke-width="1"/>
<rect x="279.33" y="754.4" width="3.39" height="1.05" fill="#757575" stroke="none" stroke-width="1"/>
<rect x="284.28" y="754.4" width="3.39" height="1.05" fill="#757575" stroke="none" stroke-width="1"/>
<rect x="280.11" y="749.63" width="6.78" height="1.21" fill="#757575" stroke="none" stroke-width="1"/>
<rect x="280.11" y="752.13" width="6.78" height="1.21" fill="#757575" stroke="none" stroke-width="1"/>
<rect x="282.54" y="750.11" width="1.91" height="2.91" fill="#8a8a8a" stroke="none" stroke-width="1"/>
<circle cx="283.5" cy="751.49" r="0.97" fill="#8a8a8a"/>
<text x="291.5" y="686.7" font-size="10.1" text-anchor="start" font-weight="normal" fill="#000">BRAF V600E</text>
<text x="291.5" y="696.41" font-size="10.1" text-anchor="start" font-weight="normal" fill="#000">BRAF V600K</text>
<text x="291.5" y="706.12" font-size="10.1" text-anchor="start" font-weight="normal" fill="#000">BRAF K601E/L597R</text>
<text x="291.5" y="715.83" font-size="10.1" text-anchor="start" font-weight="normal" fill="#000">RAS Q61</text>
<text x="291.5" y="725.54" font-size="10.1" text-anchor="start" font-weight="normal" fill="#000">RAS G12/13</text>
<text x="291.5" y="735.25" font-size="10.1" text-anchor="start" font-weight="normal" fill="#000">NF1 Missense</text>
<text x="291.5" y="744.96" font-size="10.1" text-anchor="start" font-weight="normal" fill="#000">NF1 Nonsense</text>
<text x="291.5" y="754.67" font-size="10.1" text-anchor="start" font-weight="normal" fill="#000">TWT</text>
<text x="397.9" y="589.5" font-size="17.5" text-anchor="start" font-weight="normal" fill="#000">f</text>
<rect x="429.1" y="604.8" width="178.1" height="211.2" fill="#fff" stroke="none" stroke-width="1"/>
<line x1="429.1" y1="606.4" x2="607.2" y2="606.4" stroke="#e9e9e9" stroke-width="0.9" stroke-linecap="butt"/>
<line x1="429.1" y1="796.46" x2="607.2" y2="796.46" stroke="#e9e9e9" stroke-width="0.9" stroke-linecap="butt"/>
<line x1="429.1" y1="770.23" x2="607.2" y2="770.23" stroke="#e9e9e9" stroke-width="0.9" stroke-linecap="butt"/>
<line x1="429.1" y1="745.28" x2="607.2" y2="745.28" stroke="#e9e9e9" stroke-width="0.9" stroke-linecap="butt"/>
<line x1="429.1" y1="726.95" x2="607.2" y2="726.95" stroke="#e9e9e9" stroke-width="0.9" stroke-linecap="butt"/>
<line x1="429.1" y1="711.78" x2="607.2" y2="711.78" stroke="#e9e9e9" stroke-width="0.9" stroke-linecap="butt"/>
<line x1="429.1" y1="698.8" x2="607.2" y2="698.8" stroke="#e9e9e9" stroke-width="0.9" stroke-linecap="butt"/>
<line x1="429.1" y1="681.51" x2="607.2" y2="681.51" stroke="#e9e9e9" stroke-width="0.9" stroke-linecap="butt"/>
<line x1="429.1" y1="665.62" x2="607.2" y2="665.62" stroke="#e9e9e9" stroke-width="0.9" stroke-linecap="butt"/>
<line x1="429.1" y1="655.55" x2="607.2" y2="655.55" stroke="#e9e9e9" stroke-width="0.9" stroke-linecap="butt"/>
<line x1="429.1" y1="645.45" x2="607.2" y2="645.45" stroke="#e9e9e9" stroke-width="0.9" stroke-linecap="butt"/>
<line x1="429.1" y1="635.35" x2="607.2" y2="635.35" stroke="#e9e9e9" stroke-width="0.9" stroke-linecap="butt"/>
<line x1="429.1" y1="627.89" x2="607.2" y2="627.89" stroke="#e9e9e9" stroke-width="0.9" stroke-linecap="butt"/>
<line x1="429.1" y1="619.71" x2="607.2" y2="619.71" stroke="#e9e9e9" stroke-width="0.9" stroke-linecap="butt"/>
<line x1="429.1" y1="806.6" x2="607.2" y2="806.6" stroke="#e9e9e9" stroke-width="1.25" stroke-linecap="butt"/>
<line x1="429.1" y1="786.31" x2="607.2" y2="786.31" stroke="#e9e9e9" stroke-width="1.25" stroke-linecap="butt"/>
<line x1="429.1" y1="754.15" x2="607.2" y2="754.15" stroke="#e9e9e9" stroke-width="1.25" stroke-linecap="butt"/>
<line x1="429.1" y1="736.41" x2="607.2" y2="736.41" stroke="#e9e9e9" stroke-width="1.25" stroke-linecap="butt"/>
<line x1="429.1" y1="717.48" x2="607.2" y2="717.48" stroke="#e9e9e9" stroke-width="1.25" stroke-linecap="butt"/>
<line x1="429.1" y1="706.08" x2="607.2" y2="706.08" stroke="#e9e9e9" stroke-width="1.25" stroke-linecap="butt"/>
<line x1="429.1" y1="691.51" x2="607.2" y2="691.51" stroke="#e9e9e9" stroke-width="1.25" stroke-linecap="butt"/>
<line x1="429.1" y1="671.51" x2="607.2" y2="671.51" stroke="#e9e9e9" stroke-width="1.25" stroke-linecap="butt"/>
<line x1="429.1" y1="659.74" x2="607.2" y2="659.74" stroke="#e9e9e9" stroke-width="1.25" stroke-linecap="butt"/>
<line x1="429.1" y1="651.36" x2="607.2" y2="651.36" stroke="#e9e9e9" stroke-width="1.25" stroke-linecap="butt"/>
<line x1="429.1" y1="639.54" x2="607.2" y2="639.54" stroke="#e9e9e9" stroke-width="1.25" stroke-linecap="butt"/>
<line x1="429.1" y1="631.15" x2="607.2" y2="631.15" stroke="#e9e9e9" stroke-width="1.25" stroke-linecap="butt"/>
<line x1="429.1" y1="624.63" x2="607.2" y2="624.63" stroke="#e9e9e9" stroke-width="1.25" stroke-linecap="butt"/>
<line x1="429.1" y1="614.8" x2="607.2" y2="614.8" stroke="#e9e9e9" stroke-width="1.25" stroke-linecap="butt"/>
<line x1="449.3" y1="604.8" x2="449.3" y2="816" stroke="#e9e9e9" stroke-width="1.25" stroke-linecap="butt"/>
<line x1="483.9" y1="604.8" x2="483.9" y2="816" stroke="#e9e9e9" stroke-width="1.25" stroke-linecap="butt"/>
<line x1="518.3" y1="604.8" x2="518.3" y2="816" stroke="#e9e9e9" stroke-width="1.25" stroke-linecap="butt"/>
<line x1="552.8" y1="604.8" x2="552.8" y2="816" stroke="#e9e9e9" stroke-width="1.25" stroke-linecap="butt"/>
<line x1="587.2" y1="604.8" x2="587.2" y2="816" stroke="#e9e9e9" stroke-width="1.25" stroke-linecap="butt"/>
<text x="504.3" y="600.6" font-size="11.8" text-anchor="middle" font-weight="normal" fill="#000">TMB values</text>
<path d="M448.3,651.7 L450.3,651.7 C450.33,654.43 450.25,663.27 450.5,668.1 C450.75,672.93 450.95,676.5 451.8,680.7 C452.65,684.9 454.33,689.1 455.6,693.3 C456.87,697.5 458.13,701.7 459.4,705.9 C460.67,710.1 462.1,713.87 463.2,718.5 C464.3,723.13 465.73,729.48 466,733.7 C466.27,737.92 465.68,740.02 464.8,743.8 C463.92,747.58 462.02,752.2 460.7,756.4 C459.38,760.6 458.08,764.8 456.9,769 C455.72,773.2 454.65,777.38 453.6,781.6 C452.55,785.82 451.22,790.08 450.6,794.3 C449.98,798.52 450.02,804.8 449.9,806.9 L448.7,806.9 C448.58,804.8 448.62,798.52 448,794.3 C447.38,790.08 446.05,785.82 445,781.6 C443.95,777.38 442.88,773.2 441.7,769 C440.52,764.8 439.22,760.6 437.9,756.4 C436.58,752.2 434.68,747.58 433.8,743.8 C432.92,740.02 432.33,737.92 432.6,733.7 C432.87,729.48 434.3,723.13 435.4,718.5 C436.5,713.87 437.93,710.1 439.2,705.9 C440.47,701.7 441.73,697.5 443,693.3 C444.27,689.1 445.95,684.9 446.8,680.7 C447.65,676.5 447.85,672.93 448.1,668.1 C448.35,663.27 448.27,654.43 448.3,651.7 Z" fill="#f8aba4" stroke="#333333" stroke-width="1.5" stroke-linejoin="round"/>
<path d="M475.4,683.2 L492.4,683.2 C492.57,684.88 492.67,689.52 493.4,693.3 C494.13,697.08 495.48,701.7 496.8,705.9 C498.12,710.1 500.3,714.72 501.3,718.5 C502.3,722.28 502.75,725.65 502.8,728.6 C502.85,731.55 502.12,734.22 501.6,736.2 C501.08,738.18 500.02,739.78 499.7,740.5 L468.1,740.5 C467.78,739.78 466.72,738.18 466.2,736.2 C465.68,734.22 464.95,731.55 465,728.6 C465.05,725.65 465.5,722.28 466.5,718.5 C467.5,714.72 469.68,710.1 471,705.9 C472.32,701.7 473.67,697.08 474.4,693.3 C475.13,689.52 475.23,684.88 475.4,683.2 Z" fill="#c9c583" stroke="#333333" stroke-width="1.5" stroke-linejoin="round"/>
<path d="M515.2,614.8 L521.4,614.8 C521.47,616.57 521.57,620.23 521.8,625.4 C522.03,630.57 522.42,639 522.8,645.8 C523.18,652.6 523.75,660.42 524.1,666.2 C524.45,671.98 524.72,675.4 524.9,680.5 C525.08,685.6 525.1,690.68 525.2,696.8 C525.3,702.92 525.45,710.38 525.5,717.2 C525.55,724.02 525.65,732.58 525.5,737.7 C525.35,742.82 524.87,744.5 524.6,747.9 C524.33,751.3 524.1,754.88 523.9,758.1 C523.7,761.32 523.48,765.68 523.4,767.2 L513.2,767.2 C513.12,765.68 512.9,761.32 512.7,758.1 C512.5,754.88 512.27,751.3 512,747.9 C511.73,744.5 511.25,742.82 511.1,737.7 C510.95,732.58 511.05,724.02 511.1,717.2 C511.15,710.38 511.3,702.92 511.4,696.8 C511.5,690.68 511.52,685.6 511.7,680.5 C511.88,675.4 512.15,671.98 512.5,666.2 C512.85,660.42 513.42,652.6 513.8,645.8 C514.18,639 514.57,630.57 514.8,625.4 C515.03,620.23 515.13,616.57 515.2,614.8 Z" fill="#8fd0a6" stroke="#333333" stroke-width="1.5" stroke-linejoin="round"/>
<path d="M547.2,655.2 L558.4,655.2 C558.75,656.92 559.78,662.08 560.5,665.5 C561.22,668.92 561.98,672.3 562.7,675.7 C563.42,679.1 564.35,682.83 564.8,685.9 C565.25,688.97 565.57,691.03 565.4,694.1 C565.23,697.17 564.48,700.9 563.8,704.3 C563.12,707.7 562.07,711.43 561.3,714.5 C560.53,717.57 559.55,719.28 559.2,722.7 C558.85,726.12 559.12,730.9 559.2,735 C559.28,739.1 559.75,743.62 559.7,747.3 C559.65,750.98 559.03,755.47 558.9,757.1 L546.7,757.1 C546.57,755.47 545.95,750.98 545.9,747.3 C545.85,743.62 546.32,739.1 546.4,735 C546.48,730.9 546.75,726.12 546.4,722.7 C546.05,719.28 545.07,717.57 544.3,714.5 C543.53,711.43 542.48,707.7 541.8,704.3 C541.12,700.9 540.37,697.17 540.2,694.1 C540.03,691.03 540.35,688.97 540.8,685.9 C541.25,682.83 542.18,679.1 542.9,675.7 C543.62,672.3 544.38,668.92 545.1,665.5 C545.82,662.08 546.85,656.92 547.2,655.2 Z" fill="#9bcdf0" stroke="#333333" stroke-width="1.5" stroke-linejoin="round"/>
<path d="M584.7,663 L589.7,663 C590.03,665.12 591,671.88 591.7,675.7 C592.4,679.52 593.05,682.5 593.9,685.9 C594.75,689.3 595.95,692.68 596.8,696.1 C597.65,699.52 598.55,702.98 599,706.4 C599.45,709.82 599.6,713.2 599.5,716.6 C599.4,720 598.98,723.4 598.4,726.8 C597.82,730.2 596.75,733.58 596,737 C595.25,740.42 594.45,743.55 593.9,747.3 C593.35,751.05 592.97,755.42 592.7,759.5 C592.43,763.58 592.63,767.7 592.3,771.8 C591.97,775.9 591.22,780 590.7,784.1 C590.18,788.2 589.52,792.65 589.2,796.4 C588.88,800.15 588.87,804.9 588.8,806.6 L585.6,806.6 C585.53,804.9 585.52,800.15 585.2,796.4 C584.88,792.65 584.22,788.2 583.7,784.1 C583.18,780 582.43,775.9 582.1,771.8 C581.77,767.7 581.97,763.58 581.7,759.5 C581.43,755.42 581.05,751.05 580.5,747.3 C579.95,743.55 579.15,740.42 578.4,737 C577.65,733.58 576.58,730.2 576,726.8 C575.42,723.4 575,720 574.9,716.6 C574.8,713.2 574.95,709.82 575.4,706.4 C575.85,702.98 576.75,699.52 577.6,696.1 C578.45,692.68 579.65,689.3 580.5,685.9 C581.35,682.5 582,679.52 582.7,675.7 C583.4,671.88 584.37,665.12 584.7,663 Z" fill="#dca9da" stroke="#333333" stroke-width="1.5" stroke-linejoin="round"/>
<line x1="449.3" y1="690.8" x2="449.3" y2="723.6" stroke="#333333" stroke-width="1.5" stroke-linecap="butt"/>
<line x1="449.3" y1="755.9" x2="449.3" y2="788.4" stroke="#333333" stroke-width="1.5" stroke-linecap="butt"/>
<rect x="442.4" y="723.6" width="13.9" height="32.3" fill="rgba(240,100,90,0.35)" stroke="#333333" stroke-width="1.5"/>
<line x1="442.4" y1="738.7" x2="456.3" y2="738.7" stroke="#333333" stroke-width="2.4" stroke-linecap="butt" stroke-dasharray="4 2"/>
<line x1="483.9" y1="683.2" x2="483.9" y2="706.7" stroke="#333333" stroke-width="1.5" stroke-linecap="butt"/>
<line x1="483.9" y1="729.1" x2="483.9" y2="740.5" stroke="#333333" stroke-width="1.5" stroke-linecap="butt"/>
<rect x="476.7" y="706.7" width="13.9" height="22.4" fill="rgba(160,150,40,0.3)" stroke="#333333" stroke-width="1.5"/>
<line x1="476.7" y1="723.6" x2="490.6" y2="723.6" stroke="#333333" stroke-width="2.4" stroke-linecap="butt"/>
<line x1="518.3" y1="614.8" x2="518.3" y2="680.5" stroke="#333333" stroke-width="1.5" stroke-linecap="butt"/>
<line x1="518.3" y1="742.8" x2="518.3" y2="767.2" stroke="#333333" stroke-width="1.5" stroke-linecap="butt"/>
<rect x="511.4" y="680.5" width="13.8" height="62.3" fill="rgba(40,170,90,0.3)" stroke="#333333" stroke-width="1.5"/>
<line x1="511.4" y1="693.2" x2="525.2" y2="693.2" stroke="#333333" stroke-width="2.4" stroke-linecap="butt"/>
<line x1="552.8" y1="655.2" x2="552.8" y2="685.9" stroke="#333333" stroke-width="1.5" stroke-linecap="butt"/>
<line x1="552.8" y1="722.7" x2="552.8" y2="757.1" stroke="#333333" stroke-width="1.5" stroke-linecap="butt"/>
<rect x="545.6" y="685.9" width="13.9" height="36.8" fill="rgba(40,150,220,0.32)" stroke="#333333" stroke-width="1.5"/>
<line x1="545.6" y1="694.7" x2="559.5" y2="694.7" stroke="#333333" stroke-width="2.4" stroke-linecap="butt"/>
<line x1="587.2" y1="663" x2="587.2" y2="705.7" stroke="#333333" stroke-width="1.5" stroke-linecap="butt"/>
<line x1="587.2" y1="747.9" x2="587.2" y2="806.6" stroke="#333333" stroke-width="1.5" stroke-linecap="butt"/>
<rect x="579.6" y="705.7" width="14.7" height="42.2" fill="rgba(190,90,190,0.3)" stroke="#333333" stroke-width="1.5"/>
<line x1="579.6" y1="721.1" x2="594.3" y2="721.1" stroke="#333333" stroke-width="2.4" stroke-linecap="butt"/>
<g fill="#f07a72" fill-opacity="0.85"><circle cx="451.09" cy="745.65" r="1.25"/><circle cx="455.41" cy="714.56" r="1.25"/><circle cx="451.59" cy="695.38" r="1.25"/><circle cx="453.53" cy="695.39" r="1.25"/><circle cx="450.7" cy="725.1" r="1.25"/><circle cx="445.75" cy="763.4" r="1.25"/><circle cx="454.64" cy="770.34" r="1.25"/><circle cx="448.78" cy="718.05" r="1.25"/><circle cx="450.33" cy="717.87" r="1.25"/><circle cx="451.85" cy="735.19" r="1.25"/><circle cx="453.39" cy="745.48" r="1.25"/><circle cx="450.22" cy="784.66" r="1.25"/><circle cx="447.58" cy="747.97" r="1.25"/><circle cx="442.92" cy="747.99" r="1.25"/><circle cx="455.52" cy="756.56" r="1.25"/><circle cx="452.24" cy="782.86" r="1.25"/><circle cx="447.69" cy="696.94" r="1.25"/><circle cx="449.53" cy="714.96" r="1.25"/><circle cx="448.24" cy="749.4" r="1.25"/><circle cx="452.88" cy="734.14" r="1.25"/><circle cx="446.92" cy="762.95" r="1.25"/><circle cx="449.55" cy="727.27" r="1.25"/><circle cx="448.39" cy="745.68" r="1.25"/><circle cx="443.45" cy="695.72" r="1.25"/><circle cx="452.39" cy="702.44" r="1.25"/><circle cx="449.3" cy="801.83" r="1.25"/><circle cx="445.71" cy="737.67" r="1.25"/><circle cx="449.73" cy="731.08" r="1.25"/><circle cx="453.85" cy="700.36" r="1.25"/><circle cx="449.49" cy="771.74" r="1.25"/><circle cx="446.63" cy="744.09" r="1.25"/><circle cx="452.97" cy="765.96" r="1.25"/><circle cx="444.29" cy="753.46" r="1.25"/><circle cx="442.82" cy="718.7" r="1.25"/><circle cx="444.84" cy="748.98" r="1.25"/><circle cx="452.98" cy="709.02" r="1.25"/><circle cx="451.05" cy="720.18" r="1.25"/><circle cx="445.34" cy="689.66" r="1.25"/><circle cx="451.95" cy="695.65" r="1.25"/><circle cx="449.28" cy="738.65" r="1.25"/><circle cx="447.84" cy="710.78" r="1.25"/><circle cx="447.71" cy="761.07" r="1.25"/><circle cx="444.33" cy="757.61" r="1.25"/><circle cx="450.94" cy="743.6" r="1.25"/><circle cx="446.69" cy="742.74" r="1.25"/><circle cx="450.07" cy="766.46" r="1.25"/><circle cx="450.5" cy="758.76" r="1.25"/><circle cx="447.79" cy="689.61" r="1.25"/><circle cx="446.84" cy="726.15" r="1.25"/><circle cx="444.81" cy="722.47" r="1.25"/><circle cx="448.4" cy="725.84" r="1.25"/><circle cx="445.54" cy="742.76" r="1.25"/><circle cx="451.31" cy="722.25" r="1.25"/><circle cx="455.72" cy="688.85" r="1.25"/><circle cx="451.53" cy="748.43" r="1.25"/><circle cx="454.95" cy="730.07" r="1.25"/><circle cx="447.17" cy="733.93" r="1.25"/><circle cx="454.84" cy="726.72" r="1.25"/><circle cx="451.78" cy="706.87" r="1.25"/><circle cx="452.62" cy="741.1" r="1.25"/><circle cx="450.33" cy="725.08" r="1.25"/><circle cx="444.09" cy="734.95" r="1.25"/><circle cx="452.51" cy="750.69" r="1.25"/><circle cx="451.15" cy="796.92" r="1.25"/><circle cx="449.24" cy="743.52" r="1.25"/><circle cx="454.48" cy="717.12" r="1.25"/><circle cx="447.23" cy="759.59" r="1.25"/><circle cx="447.57" cy="693.58" r="1.25"/><circle cx="448.5" cy="691.89" r="1.25"/><circle cx="451.7" cy="784.43" r="1.25"/><circle cx="448.66" cy="737.07" r="1.25"/><circle cx="450.46" cy="729.24" r="1.25"/><circle cx="452.81" cy="732.35" r="1.25"/><circle cx="450.39" cy="767.74" r="1.25"/><circle cx="448.98" cy="774.93" r="1.25"/></g>
<g fill="#b3ae2e" fill-opacity="0.85"><circle cx="479.51" cy="699.42" r="1.25"/><circle cx="484.58" cy="730.79" r="1.25"/><circle cx="489.98" cy="736.5" r="1.25"/><circle cx="485.58" cy="725.92" r="1.25"/><circle cx="490.36" cy="718.02" r="1.25"/></g>
<g fill="#2db86a" fill-opacity="0.85"><circle cx="521.23" cy="763.97" r="1.25"/><circle cx="516.3" cy="679.5" r="1.25"/><circle cx="516.83" cy="712.04" r="1.25"/><circle cx="514.01" cy="619.46" r="1.25"/><circle cx="521.92" cy="652.26" r="1.25"/><circle cx="523.48" cy="679.95" r="1.25"/><circle cx="523.26" cy="703.83" r="1.25"/><circle cx="518.57" cy="699.03" r="1.25"/><circle cx="513.01" cy="697" r="1.25"/><circle cx="517.35" cy="739.17" r="1.25"/><circle cx="520.31" cy="622.05" r="1.25"/><circle cx="514.03" cy="696.93" r="1.25"/><circle cx="513.47" cy="636.22" r="1.25"/><circle cx="519.01" cy="707.35" r="1.25"/></g>
<g fill="#27a4e6" fill-opacity="0.85"><circle cx="558.48" cy="703.35" r="1.25"/><circle cx="555.76" cy="709.68" r="1.25"/><circle cx="548.5" cy="743.07" r="1.25"/><circle cx="548.5" cy="684.01" r="1.25"/><circle cx="549.27" cy="693.83" r="1.25"/><circle cx="554.71" cy="671.87" r="1.25"/><circle cx="559.07" cy="689.68" r="1.25"/><circle cx="547.48" cy="663.65" r="1.25"/><circle cx="552.01" cy="725.18" r="1.25"/><circle cx="556.17" cy="682.64" r="1.25"/><circle cx="549.3" cy="702.45" r="1.25"/><circle cx="549.27" cy="692.24" r="1.25"/><circle cx="555.04" cy="672.44" r="1.25"/><circle cx="552.52" cy="739.36" r="1.25"/></g>
<g fill="#c870c8" fill-opacity="0.85"><circle cx="588.04" cy="794.46" r="1.25"/><circle cx="588.36" cy="719.48" r="1.25"/><circle cx="592.88" cy="719.72" r="1.25"/><circle cx="594.55" cy="767.76" r="1.25"/><circle cx="587.83" cy="743.18" r="1.25"/><circle cx="594.7" cy="704.4" r="1.25"/><circle cx="586.27" cy="702.72" r="1.25"/><circle cx="579.89" cy="792.21" r="1.25"/><circle cx="580.01" cy="703.37" r="1.25"/><circle cx="594.41" cy="685.18" r="1.25"/><circle cx="588.39" cy="764.48" r="1.25"/><circle cx="589.18" cy="804.19" r="1.25"/><circle cx="583.23" cy="668.25" r="1.25"/><circle cx="586.11" cy="713.81" r="1.25"/><circle cx="579.98" cy="791.74" r="1.25"/><circle cx="585.02" cy="784.5" r="1.25"/><circle cx="580.58" cy="773.71" r="1.25"/><circle cx="586.65" cy="737.1" r="1.25"/><circle cx="584.27" cy="735.79" r="1.25"/><circle cx="591.66" cy="704.53" r="1.25"/><circle cx="586.02" cy="751.01" r="1.25"/><circle cx="586.97" cy="684.69" r="1.25"/><circle cx="581.17" cy="787.73" r="1.25"/><circle cx="591.79" cy="741.43" r="1.25"/><circle cx="589.57" cy="783.76" r="1.25"/><circle cx="591.73" cy="725.03" r="1.25"/><circle cx="593.65" cy="774.68" r="1.25"/><circle cx="581.29" cy="781.14" r="1.25"/><circle cx="582.72" cy="801.07" r="1.25"/><circle cx="590.19" cy="683.29" r="1.25"/><circle cx="582.72" cy="744.51" r="1.25"/><circle cx="582.94" cy="770.55" r="1.25"/><circle cx="580.99" cy="779.06" r="1.25"/><circle cx="579.76" cy="739.1" r="1.25"/><circle cx="592.75" cy="754.31" r="1.25"/><circle cx="584.74" cy="732" r="1.25"/><circle cx="587.25" cy="676.82" r="1.25"/><circle cx="581.43" cy="735.54" r="1.25"/><circle cx="580.54" cy="728.78" r="1.25"/><circle cx="587.96" cy="708.16" r="1.25"/><circle cx="581.93" cy="698.8" r="1.25"/><circle cx="592.87" cy="791.44" r="1.25"/><circle cx="583.1" cy="690.03" r="1.25"/><circle cx="594.68" cy="717.17" r="1.25"/><circle cx="590.61" cy="681.93" r="1.25"/><circle cx="584.61" cy="704.38" r="1.25"/><circle cx="589.98" cy="761.83" r="1.25"/><circle cx="583.52" cy="695.29" r="1.25"/><circle cx="590.63" cy="734.38" r="1.25"/><circle cx="587.37" cy="773.57" r="1.25"/></g>
<g fill="#f07a72" fill-opacity="0.95"><circle cx="452" cy="651.7" r="1.2"/><circle cx="446" cy="662" r="1.2"/><circle cx="451" cy="806.9" r="1.2"/></g>
<g fill="#c870c8" fill-opacity="0.85"><circle cx="579.83" cy="718.92" r="1.25"/><circle cx="582.69" cy="747.96" r="1.25"/><circle cx="580.06" cy="707.35" r="1.25"/><circle cx="591.93" cy="734.74" r="1.25"/><circle cx="582.2" cy="737.71" r="1.25"/><circle cx="589.42" cy="719.95" r="1.25"/><circle cx="593.03" cy="713.16" r="1.25"/><circle cx="583.4" cy="715.74" r="1.25"/><circle cx="584.17" cy="736.68" r="1.25"/><circle cx="585.59" cy="705.75" r="1.25"/><circle cx="584.13" cy="707.98" r="1.25"/><circle cx="588.18" cy="722.89" r="1.25"/><circle cx="581.12" cy="741.53" r="1.25"/><circle cx="588.33" cy="718.04" r="1.25"/><circle cx="581.12" cy="725.48" r="1.25"/><circle cx="589.05" cy="737.29" r="1.25"/><circle cx="586.78" cy="706.51" r="1.25"/><circle cx="587.28" cy="735.14" r="1.25"/><circle cx="592.81" cy="718.21" r="1.25"/><circle cx="586.71" cy="747.26" r="1.25"/><circle cx="582.88" cy="710.52" r="1.25"/><circle cx="586.71" cy="731.9" r="1.25"/><circle cx="587.72" cy="742.21" r="1.25"/><circle cx="592.71" cy="718.7" r="1.25"/><circle cx="589.37" cy="722.54" r="1.25"/><circle cx="584.06" cy="726.55" r="1.25"/><circle cx="580.67" cy="705.58" r="1.25"/><circle cx="590.05" cy="715.67" r="1.25"/><circle cx="586.85" cy="728.88" r="1.25"/><circle cx="587.72" cy="717.39" r="1.25"/><circle cx="590.8" cy="732.13" r="1.25"/><circle cx="592.47" cy="727.79" r="1.25"/><circle cx="584.51" cy="705.95" r="1.25"/><circle cx="594.44" cy="733.93" r="1.25"/><circle cx="586.75" cy="709.52" r="1.25"/></g>
<g fill="#c870c8" fill-opacity="0.85"><circle cx="593.56" cy="754.11" r="1.25"/><circle cx="585.57" cy="769.26" r="1.25"/><circle cx="588.48" cy="791.42" r="1.25"/><circle cx="588.94" cy="769.2" r="1.25"/><circle cx="591.22" cy="788.75" r="1.25"/><circle cx="581.88" cy="775.03" r="1.25"/><circle cx="586.12" cy="767.79" r="1.25"/><circle cx="583.57" cy="764.23" r="1.25"/><circle cx="585.25" cy="797.69" r="1.25"/><circle cx="592.95" cy="777.86" r="1.25"/><circle cx="582.69" cy="800.71" r="1.25"/><circle cx="581.41" cy="803.38" r="1.25"/><circle cx="591.75" cy="773.44" r="1.25"/><circle cx="586.44" cy="758.21" r="1.25"/><circle cx="587.04" cy="752.32" r="1.25"/><circle cx="587.19" cy="763.12" r="1.25"/><circle cx="586.63" cy="803.23" r="1.25"/><circle cx="584.66" cy="804.9" r="1.25"/><circle cx="593.6" cy="767.34" r="1.25"/><circle cx="584.17" cy="760.69" r="1.25"/><circle cx="582.01" cy="798.97" r="1.25"/><circle cx="589.05" cy="805.22" r="1.25"/><circle cx="584.83" cy="761.41" r="1.25"/><circle cx="590.45" cy="784.96" r="1.25"/><circle cx="583.8" cy="756.82" r="1.25"/></g>
<g fill="#c870c8" fill-opacity="0.85"><circle cx="588.59" cy="687.13" r="1.25"/><circle cx="583.28" cy="672.29" r="1.25"/><circle cx="584.83" cy="695.97" r="1.25"/><circle cx="582.44" cy="702.43" r="1.25"/><circle cx="592.04" cy="673.39" r="1.25"/><circle cx="579.98" cy="675.11" r="1.25"/><circle cx="581.92" cy="695.25" r="1.25"/><circle cx="591.75" cy="689.15" r="1.25"/><circle cx="586.6" cy="669.41" r="1.25"/><circle cx="590.54" cy="695.4" r="1.25"/><circle cx="580.14" cy="696.93" r="1.25"/><circle cx="585.77" cy="693.48" r="1.25"/><circle cx="584.01" cy="697.32" r="1.25"/><circle cx="585.72" cy="679.83" r="1.25"/><circle cx="587.96" cy="700.79" r="1.25"/></g>
<line x1="449.1" y1="614.9" x2="552.1" y2="614.9" stroke="#000" stroke-width="1.8" stroke-linecap="butt" stroke-dasharray="11.5 4.2"/>
<text x="500.8" y="617.7" font-size="10.5" text-anchor="middle" font-weight="normal" fill="#000">***</text>
<line x1="449.1" y1="621" x2="514.5" y2="621" stroke="#000" stroke-width="1.8" stroke-linecap="butt" stroke-dasharray="1.8 2.9"/>
<text x="483.8" y="623.8" font-size="10.5" text-anchor="middle" font-weight="normal" fill="#000">*</text>
<line x1="449.1" y1="626.8" x2="483.8" y2="626.8" stroke="#000" stroke-width="1.8" stroke-linecap="butt" stroke-dasharray="4 2.5 1.5 2.5 8 2.5"/>
<rect x="429.1" y="604.8" width="178.1" height="211.2" fill="none" stroke="#3a3a3a" stroke-width="1.05"/>
<line x1="426.3" y1="806.6" x2="429.1" y2="806.6" stroke="#333333" stroke-width="1.3" stroke-linecap="butt"/>
<text x="426" y="810.26" font-size="9.9" text-anchor="end" font-weight="normal" fill="#575757">0</text>
<line x1="426.3" y1="786.31" x2="429.1" y2="786.31" stroke="#333333" stroke-width="1.3" stroke-linecap="butt"/>
<text x="426" y="789.97" font-size="9.9" text-anchor="end" font-weight="normal" fill="#575757">1</text>
<line x1="426.3" y1="754.15" x2="429.1" y2="754.15" stroke="#333333" stroke-width="1.3" stroke-linecap="butt"/>
<text x="426" y="757.82" font-size="9.9" text-anchor="end" font-weight="normal" fill="#575757">5</text>
<line x1="426.3" y1="736.41" x2="429.1" y2="736.41" stroke="#333333" stroke-width="1.3" stroke-linecap="butt"/>
<text x="426" y="740.07" font-size="9.9" text-anchor="end" font-weight="normal" fill="#575757">10</text>
<line x1="426.3" y1="717.48" x2="429.1" y2="717.48" stroke="#333333" stroke-width="1.3" stroke-linecap="butt"/>
<text x="426" y="721.15" font-size="9.9" text-anchor="end" font-weight="normal" fill="#575757">20</text>
<line x1="426.3" y1="706.08" x2="429.1" y2="706.08" stroke="#333333" stroke-width="1.3" stroke-linecap="butt"/>
<text x="426" y="709.75" font-size="9.9" text-anchor="end" font-weight="normal" fill="#575757">30</text>
<line x1="426.3" y1="691.51" x2="429.1" y2="691.51" stroke="#333333" stroke-width="1.3" stroke-linecap="butt"/>
<text x="426" y="695.17" font-size="9.9" text-anchor="end" font-weight="normal" fill="#575757">50</text>
<line x1="426.3" y1="671.51" x2="429.1" y2="671.51" stroke="#333333" stroke-width="1.3" stroke-linecap="butt"/>
<text x="426" y="675.17" font-size="9.9" text-anchor="end" font-weight="normal" fill="#575757">100</text>
<line x1="426.3" y1="659.74" x2="429.1" y2="659.74" stroke="#333333" stroke-width="1.3" stroke-linecap="butt"/>
<text x="426" y="663.4" font-size="9.9" text-anchor="end" font-weight="normal" fill="#575757">150</text>
<line x1="426.3" y1="651.36" x2="429.1" y2="651.36" stroke="#333333" stroke-width="1.3" stroke-linecap="butt"/>
<text x="426" y="655.03" font-size="9.9" text-anchor="end" font-weight="normal" fill="#575757">200</text>
<line x1="426.3" y1="639.54" x2="429.1" y2="639.54" stroke="#333333" stroke-width="1.3" stroke-linecap="butt"/>
<text x="426" y="643.21" font-size="9.9" text-anchor="end" font-weight="normal" fill="#575757">300</text>
<line x1="426.3" y1="631.15" x2="429.1" y2="631.15" stroke="#333333" stroke-width="1.3" stroke-linecap="butt"/>
<text x="426" y="634.81" font-size="9.9" text-anchor="end" font-weight="normal" fill="#575757">400</text>
<line x1="426.3" y1="624.63" x2="429.1" y2="624.63" stroke="#333333" stroke-width="1.3" stroke-linecap="butt"/>
<text x="426" y="628.29" font-size="9.9" text-anchor="end" font-weight="normal" fill="#575757">500</text>
<line x1="426.3" y1="614.8" x2="429.1" y2="614.8" stroke="#333333" stroke-width="1.3" stroke-linecap="butt"/>
<text x="426" y="618.46" font-size="9.9" text-anchor="end" font-weight="normal" fill="#575757">700</text>
<line x1="449.3" y1="816" x2="449.3" y2="818.8" stroke="#333333" stroke-width="1.3" stroke-linecap="butt"/>
<line x1="483.9" y1="816" x2="483.9" y2="818.8" stroke="#333333" stroke-width="1.3" stroke-linecap="butt"/>
<line x1="518.3" y1="816" x2="518.3" y2="818.8" stroke="#333333" stroke-width="1.3" stroke-linecap="butt"/>
<line x1="552.8" y1="816" x2="552.8" y2="818.8" stroke="#333333" stroke-width="1.3" stroke-linecap="butt"/>
<line x1="587.2" y1="816" x2="587.2" y2="818.8" stroke="#333333" stroke-width="1.3" stroke-linecap="butt"/>
<text x="408" y="705.6" font-size="11.1" text-anchor="middle" font-weight="bold" fill="#000" transform="rotate(-90 408 705.6)">TMB (mut/Mb)</text>
<text x="613.1" y="688.7" font-size="10.7" text-anchor="start" font-weight="bold" fill="#000">Subtypes</text>
<rect x="612.2" y="693.4" width="9.8" height="9.64" fill="#333333" stroke="none" stroke-width="1"/>
<rect x="613.24" y="694.04" width="3.13" height="1.29" fill="#7d5a57" stroke="none" stroke-width="1"/>
<rect x="617.82" y="694.04" width="3.13" height="1.29" fill="#7d5a57" stroke="none" stroke-width="1"/>
<rect x="613.24" y="701.27" width="3.13" height="1.04" fill="#a66e6a" stroke="none" stroke-width="1"/>
<rect x="617.82" y="701.27" width="3.13" height="1.04" fill="#a66e6a" stroke="none" stroke-width="1"/>
<rect x="613.97" y="696.53" width="6.27" height="1.21" fill="#a66e6a" stroke="none" stroke-width="1"/>
<rect x="613.97" y="699.02" width="6.27" height="1.21" fill="#a66e6a" stroke="none" stroke-width="1"/>
<rect x="616.22" y="697.01" width="1.77" height="2.89" fill="#f07a72" stroke="none" stroke-width="1"/>
<circle cx="617.1" cy="698.38" r="0.96" fill="#f07a72"/>
<rect x="612.2" y="703.04" width="9.8" height="9.64" fill="#333333" stroke="none" stroke-width="1"/>
<rect x="613.24" y="703.68" width="3.13" height="1.29" fill="#6b6942" stroke="none" stroke-width="1"/>
<rect x="617.82" y="703.68" width="3.13" height="1.29" fill="#6b6942" stroke="none" stroke-width="1"/>
<rect x="613.24" y="710.91" width="3.13" height="1.04" fill="#89864b" stroke="none" stroke-width="1"/>
<rect x="617.82" y="710.91" width="3.13" height="1.04" fill="#89864b" stroke="none" stroke-width="1"/>
<rect x="613.97" y="706.17" width="6.27" height="1.21" fill="#89864b" stroke="none" stroke-width="1"/>
<rect x="613.97" y="708.66" width="6.27" height="1.21" fill="#89864b" stroke="none" stroke-width="1"/>
<rect x="616.22" y="706.65" width="1.77" height="2.89" fill="#b3ae2e" stroke="none" stroke-width="1"/>
<circle cx="617.1" cy="708.02" r="0.96" fill="#b3ae2e"/>
<rect x="612.2" y="712.68" width="9.8" height="9.64" fill="#333333" stroke="none" stroke-width="1"/>
<rect x="613.24" y="713.32" width="3.13" height="1.29" fill="#426c55" stroke="none" stroke-width="1"/>
<rect x="617.82" y="713.32" width="3.13" height="1.29" fill="#426c55" stroke="none" stroke-width="1"/>
<rect x="613.24" y="720.55" width="3.13" height="1.04" fill="#4a8b67" stroke="none" stroke-width="1"/>
<rect x="617.82" y="720.55" width="3.13" height="1.04" fill="#4a8b67" stroke="none" stroke-width="1"/>
<rect x="613.97" y="715.81" width="6.27" height="1.21" fill="#4a8b67" stroke="none" stroke-width="1"/>
<rect x="613.97" y="718.3" width="6.27" height="1.21" fill="#4a8b67" stroke="none" stroke-width="1"/>
<rect x="616.22" y="716.29" width="1.77" height="2.89" fill="#2db86a" stroke="none" stroke-width="1"/>
<circle cx="617.1" cy="717.66" r="0.96" fill="#2db86a"/>
<rect x="612.2" y="722.32" width="9.8" height="9.64" fill="#333333" stroke="none" stroke-width="1"/>
<rect x="613.24" y="722.96" width="3.13" height="1.29" fill="#40667a" stroke="none" stroke-width="1"/>
<rect x="617.82" y="722.96" width="3.13" height="1.29" fill="#40667a" stroke="none" stroke-width="1"/>
<rect x="613.24" y="730.19" width="3.13" height="1.04" fill="#4782a1" stroke="none" stroke-width="1"/>
<rect x="617.82" y="730.19" width="3.13" height="1.04" fill="#4782a1" stroke="none" stroke-width="1"/>
<rect x="613.97" y="725.45" width="6.27" height="1.21" fill="#4782a1" stroke="none" stroke-width="1"/>
<rect x="613.97" y="727.94" width="6.27" height="1.21" fill="#4782a1" stroke="none" stroke-width="1"/>
<rect x="616.22" y="725.93" width="1.77" height="2.89" fill="#27a4e6" stroke="none" stroke-width="1"/>
<circle cx="617.1" cy="727.3" r="0.96" fill="#27a4e6"/>
<rect x="612.2" y="731.96" width="9.8" height="9.64" fill="#333333" stroke="none" stroke-width="1"/>
<rect x="613.24" y="732.6" width="3.13" height="1.29" fill="#715671" stroke="none" stroke-width="1"/>
<rect x="617.82" y="732.6" width="3.13" height="1.29" fill="#715671" stroke="none" stroke-width="1"/>
<rect x="613.24" y="739.83" width="3.13" height="1.04" fill="#936993" stroke="none" stroke-width="1"/>
<rect x="617.82" y="739.83" width="3.13" height="1.04" fill="#936993" stroke="none" stroke-width="1"/>
<rect x="613.97" y="735.09" width="6.27" height="1.21" fill="#936993" stroke="none" stroke-width="1"/>
<rect x="613.97" y="737.58" width="6.27" height="1.21" fill="#936993" stroke="none" stroke-width="1"/>
<rect x="616.22" y="735.58" width="1.77" height="2.89" fill="#c870c8" stroke="none" stroke-width="1"/>
<circle cx="617.1" cy="736.94" r="0.96" fill="#c870c8"/>
<text x="625.3" y="700.9" font-size="10.1" text-anchor="start" font-weight="normal" fill="#000">Class−I</text>
<text x="625.3" y="710.54" font-size="10.1" text-anchor="start" font-weight="normal" fill="#000">Class−II</text>
<text x="625.3" y="720.18" font-size="10.1" text-anchor="start" font-weight="normal" fill="#000">Class−III</text>
<text x="625.3" y="729.82" font-size="10.1" text-anchor="start" font-weight="normal" fill="#000">BRAF others</text>
<text x="625.3" y="739.46" font-size="10.1" text-anchor="start" font-weight="normal" fill="#000">Non−BRAF</text>
</svg>
</body></html>
